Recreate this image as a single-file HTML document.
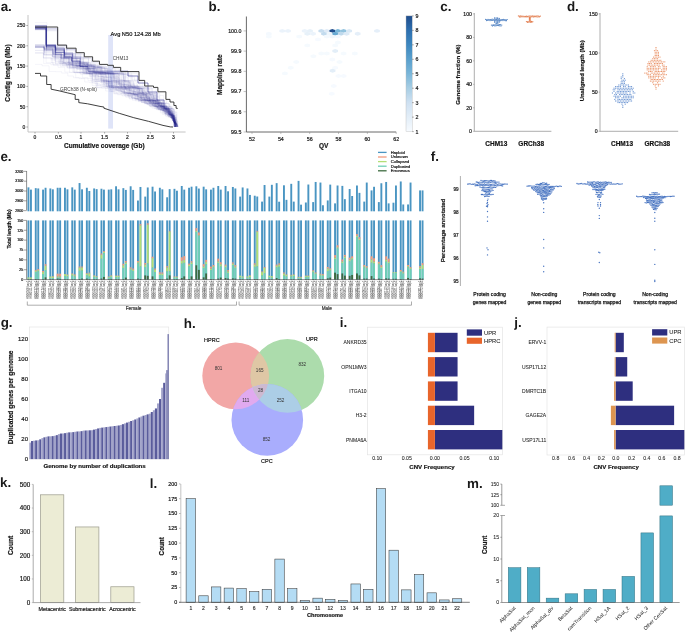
<!DOCTYPE html><html><head><meta charset="utf-8"><style>html,body{margin:0;padding:0;background:#fff;}svg{display:block;will-change:transform;}text{font-family:"Liberation Sans",sans-serif;}text.pl{text-rendering:geometricPrecision;}</style></head><body>
<svg width="685" height="632" viewBox="0 0 685 632">
<rect width="685" height="632" fill="#fff"/>
<text x="0.66" y="11.20" font-size="13.4" font-weight="bold" fill="#1a1a1a" class="pl">a.</text>
<rect x="108.20" y="35.00" width="4.80" height="93.60" fill="#dfe4f8"/>
<g fill="none" stroke="#3b3f9c" stroke-width="0.45" stroke-opacity="0.115">
<path d="M35.0,27.5H46.3V45.9H55.5V49.4H64.4V53.0H72.8V58.4H80.6V66.6H87.4V69.1H94.0V73.4H100.1V74.2H106.1V77.1H111.8V77.9H117.4V79.5H122.8V80.9H128.0V86.1H132.7V88.1H137.1V93.6H140.9V99.8H144.0V100.1H147.0V100.8H150.0V102.0H152.8V102.7H155.6V107.3H157.8V108.6H159.9V108.9H162.0V109.2H164.0V109.4H166.0V109.6H168.0V112.8H169.6V113.2H171.2V116.6H172.4V117.2H173.5V121.0H174.2V125.0H174.4V127.0"/>
<path d="M35.0,45.4H44.3V50.2H53.0V57.0H61.0V57.7H68.9V64.7H75.9V65.4H82.9V68.5H89.6V71.9H95.9V79.5H101.3V80.7H106.5V83.5H111.5V86.7H116.1V87.9H120.5V88.4H124.9V88.8H129.2V93.4H133.0V94.2H136.8V96.4H140.3V100.7H143.2V101.4H146.2V102.7H148.9V102.9H151.7V104.0H154.3V106.7H156.6V107.0H158.9V109.5H160.9V109.6H162.8V111.0H164.7V111.6H166.4V112.4H168.1V113.1H169.7V115.1H171.0V115.6H172.3V117.9H173.3V119.0H174.2V120.6H175.0V122.3H175.5V122.8H176.0V123.0H176.4V123.4H176.8V123.5H177.2V125.4H177.4V125.7H177.6V126.3H177.6V127.0"/>
<path d="M35.0,26.9H46.4V47.0H55.5V50.8H64.2V53.6H72.5V54.2H80.8V58.9H88.5V64.9H95.6V69.4H102.1V72.5H108.3V73.8H114.4V82.2H119.5V86.5H124.1V94.8H127.7V94.9H131.4V95.2H135.0V100.3H138.0V100.4H141.1V100.5H144.1V100.6H147.1V101.1H150.0V101.5H152.9V103.2H155.6V104.1H158.3V105.0H160.8V110.5H162.6V112.5H164.3V113.2H165.8V114.2H167.3V114.8H168.7V116.3H169.9V117.3H171.0V117.4H172.1V118.4H173.1V118.7H174.0V121.9H174.6V123.5H175.0V124.6H175.3V124.6H175.5V126.7H175.6V127.0"/>
<path d="M35.0,27.3H46.3V46.9H55.4V50.4H64.2V52.6H72.6V53.4H81.0V62.3H88.4V66.5H95.2V67.4H102.0V72.6H108.2V73.5H114.3V81.8H119.4V83.4H124.4V86.5H129.0V86.8H133.6V87.3H138.1V88.4H142.4V93.9H146.2V98.5H149.4V100.2H152.5V101.7H155.4V104.0H158.0V105.5H160.4V106.8H162.7V108.9H164.8V109.6H166.8V111.9H168.5V115.5H169.8V115.8H171.1V118.5H172.0V119.4H172.9V120.5H173.6V120.9H174.3V127.0"/>
<path d="M35.0,29.1H46.1V49.5H54.9V55.3H63.1V57.3H71.0V63.3H78.3V64.6H85.4V70.9H91.7V72.7H97.9V73.2H104.0V83.9H108.9V85.7H113.6V86.0H118.3V87.0H122.8V89.2H127.1V92.9H131.0V93.8H134.8V94.4H138.5V97.2H141.9V99.6H145.0V100.2H148.1V100.7H151.0V104.8H153.6V105.7H156.0V106.8H158.3V109.1H160.3V109.6H162.3V110.3H164.2V110.8H166.0V110.9H167.9V113.1H169.4V115.2H170.8V116.8H171.9V117.8H173.0V118.1H174.0V122.2H174.5V127.0"/>
<path d="M35.0,47.4H44.1V52.5H52.5V56.6H60.5V58.1H68.4V61.3H75.8V63.4H83.1V67.2H89.9V74.2H95.9V80.5H101.2V81.2H106.4V86.7H111.0V91.5H115.0V92.0H119.0V92.1H122.9V93.2H126.8V95.3H130.4V95.9H133.9V96.1H137.5V99.3H140.6V99.4H143.7V100.5H146.8V100.6H149.8V106.5H152.1V106.7H154.4V106.8H156.7V107.5H158.9V107.5H161.1V109.1H163.2V110.4H165.0V112.2H166.7V112.9H168.3V114.1H169.8V114.3H171.3V114.4H172.7V116.1H173.9V119.9H174.7V123.2H175.2V123.6H175.6V123.8H175.9V124.3H176.2V124.3H176.5V125.0H176.8V125.1H177.0V125.6H177.1V125.8H177.2V125.9H177.4V126.2H177.5V126.3H177.5V127.0"/>
<path d="M35.0,64.4H42.1V65.8H49.1V71.5H55.4V71.7H61.7V73.1H67.8V76.0H73.6V77.7H79.2V78.6H84.7V82.0H89.8V82.7H94.9V83.7H99.8V84.6H104.6V85.0H109.4V87.2H113.9V87.2H118.5V89.0H122.8V89.5H127.0V92.9H130.9V93.6H134.7V94.3H138.4V97.8H141.8V99.4H144.9V100.0H148.0V100.1H151.0V101.0H154.0V102.1H156.8V103.0H159.5V103.3H162.2V106.5H164.5V109.0H166.6V109.5H168.6V111.9H170.3V113.5H171.9V114.5H173.3V118.5H174.2V127.0"/>
<path d="M35.0,47.2H44.1V49.4H52.9V56.9H60.9V60.7H68.4V62.9H75.7V65.9H82.6V73.1H88.8V73.9H94.8V81.5H100.0V82.2H105.1V83.1H110.1V87.0H114.6V87.2H119.2V88.9H123.5V92.8H127.4V93.5H131.2V94.1H134.9V94.8H138.6V97.2H142.0V97.4H145.4V99.7H148.5V102.3H151.3V104.7H153.8V104.8H156.3V105.5H158.8V106.3H161.1V109.0H163.2V109.6H165.1V109.8H167.1V111.1H168.9V116.2H170.1V116.6H171.3V117.2H172.4V117.8H173.5V121.8H174.1V122.0H174.6V127.0"/>
<path d="M35.0,27.8H46.3V44.7H55.6V47.9H64.6V52.9H73.1V61.6H80.5V65.2H87.5V68.3H94.2V72.7H100.4V73.2H106.5V73.4H112.6V76.5H118.3V87.2H122.9V87.9H127.3V88.0H131.7V91.9H135.7V93.1H139.6V95.0H143.2V99.7H146.3V99.7H149.4V99.8H152.5V100.0H155.6V102.1H158.4V103.6H161.1V108.1H163.2V108.9H165.3V116.2H166.5V116.8H167.7V116.9H168.8V117.6H169.9V117.6H170.9V118.2H171.9V118.5H172.9V118.7H173.8V120.5H174.6V127.0"/>
<path d="M35.0,26.8H46.4V30.9H57.3V46.1H66.5V49.6H75.3V54.0H83.6V57.6H91.5V62.0H98.9V68.9H105.5V72.7H111.7V73.0H117.8V73.3H123.9V80.7H129.2V87.9H133.6V88.0H138.0V88.8H142.4V92.5H146.3V93.1H150.2V94.8H153.8V100.2H156.9V100.9H159.8V102.8H162.6V103.2H165.3V106.6H167.6V107.9H169.8V108.4H171.9V109.1H173.9V122.0H174.5V123.0H175.0V123.0H175.4V123.2H175.8V123.7H176.2V124.5H176.5V124.8H176.7V127.0"/>
<path d="M35.0,25.3H46.6V46.4H55.7V55.1H63.9V57.8H71.8V62.0H79.2V65.8H86.1V69.3H92.7V72.6H98.9V72.8H105.0V73.5H111.1V85.5H115.8V87.5H120.3V90.0H124.5V93.4H128.3V94.1H132.1V95.0H135.7V98.8H138.9V98.9H142.1V99.4H145.3V100.6H148.3V102.4H151.1V102.5H153.9V102.8H156.6V103.2H159.3V104.9H161.8V106.2H164.2V110.7H166.0V112.3H167.7V113.3H169.3V114.6H170.7V114.7H172.1V115.0H173.4V115.6H174.7V121.5H175.4V124.1H175.7V124.4H176.0V127.0"/>
<path d="M35.0,26.1H46.5V50.7H55.1V58.0H63.0V58.6H70.8V62.0H78.2V64.4H85.3V71.4H91.6V71.8H97.9V72.4H104.1V85.6H108.8V87.3H113.3V90.5H117.4V90.8H121.6V93.4H125.4V95.2H129.0V96.3H132.5V98.5H135.7V98.6H138.9V100.5H142.0V100.5H145.0V103.1H147.7V103.1H150.4V103.6H153.1V103.7H155.7V106.3H158.1V106.7H160.4V107.0H162.7V108.9H164.7V109.2H166.7V112.4H168.4V112.8H170.0V114.1H171.5V117.3H172.6V119.3H173.4V121.3H174.1V122.5H174.6V123.0H175.1V124.0H175.4V125.3H175.6V125.7H175.7V125.9H175.9V125.9H176.0V126.0H176.1V127.0"/>
<path d="M35.0,27.4H46.3V44.7H55.7V50.3H64.4V57.8H72.3V66.3H79.2V66.5H86.1V73.5H92.1V85.5H96.9V87.9H101.3V88.1H105.7V91.0H109.8V91.6H113.9V93.2H117.7V93.3H121.5V94.0H125.3V94.1H129.0V94.3H132.8V97.1H136.2V99.8H139.2V99.9H142.3V100.1H145.4V100.8H148.4V101.7H151.3V103.0H154.0V104.0H156.6V105.9H159.0V106.2H161.4V107.6H163.6V107.7H165.8V108.7H167.8V109.7H169.8V112.0H171.5V113.1H173.1V115.7H174.4V119.1H175.3V124.6H175.6V125.1H175.8V126.1H175.9V126.4H175.9V127.0"/>
<path d="M35.0,26.6H46.4V45.1H55.7V51.0H64.4V53.2H72.8V56.0H80.8V57.7H88.7V64.8H95.8V67.2H102.6V68.6H109.2V73.0H115.4V73.0H121.5V73.7H127.6V80.4H132.9V86.0H137.5V86.7H142.1V89.0H146.4V99.3H149.6V100.9H152.6V101.2H155.5V103.6H158.2V104.6H160.7V106.6H163.0V108.2H165.2V108.6H167.3V109.5H169.3V110.5H171.1V112.5H172.8V115.4H174.1V118.2H175.1V123.2H175.5V124.9H175.8V127.0"/>
<path d="M35.0,29.3H46.1V45.9H55.3V50.0H64.1V53.4H72.5V58.2H80.3V66.7H87.1V68.2H93.8V72.4H100.0V72.6H106.2V81.7H111.4V84.2H116.2V84.2H121.1V86.8H125.7V86.9H130.2V87.7H134.7V88.0H139.1V90.8H143.3V93.3H147.1V94.2H150.8V98.1H154.1V100.0H157.2V103.2H159.9V104.3H162.5V107.6H164.7V108.7H166.7V108.8H168.8V110.8H170.7V111.9H172.4V114.4H173.8V121.8H174.4V127.0"/>
<path d="M35.0,26.0H46.5V45.1H55.8V49.3H64.6V55.2H72.8V63.2H80.0V64.5H87.2V67.4H93.9V73.0H100.1V73.5H106.2V73.5H112.2V73.9H118.3V81.1H123.5V81.2H128.7V83.3H133.7V86.2H138.3V86.2H142.9V86.9H147.5V87.7H152.0V93.3H155.8V97.3H159.2V100.2H162.2V106.6H164.6V106.7H166.9V110.6H168.7V111.8H170.5V115.0H171.8V117.7H172.9V118.2H173.9V119.2H174.8V122.6H175.3V122.6H175.8V126.5H175.8V127.0"/>
<path d="M35.0,26.4H46.4V47.6H55.5V49.6H64.3V54.2H72.6V57.3H80.5V63.4H87.7V65.4H94.7V72.1H101.0V72.6H107.2V72.7H113.3V73.3H119.4V80.6H124.7V82.5H129.8V84.7H134.6V87.6H139.1V88.7H143.4V94.3H147.1V95.0H150.8V96.5H154.2V99.0H157.4V101.0H160.4V102.9H163.1V108.1H165.3V108.9H167.3V111.6H169.1V111.6H170.8V111.9H172.5V112.0H174.3V116.8H175.4V121.6H176.0V127.0"/>
<path d="M35.0,44.6H44.4V49.0H53.2V52.7H61.7V60.0H69.3V67.4H76.1V68.4H82.7V70.6H89.2V72.3H95.4V73.8H101.4V83.2H106.4V85.0H111.2V86.5H115.8V86.6H120.4V86.8H125.0V87.4H129.5V88.8H133.8V94.8H137.5V96.7H140.9V96.9H144.3V99.3H147.5V100.4H150.5V101.3H153.4V101.9H156.3V103.5H159.0V106.0H161.4V109.1H163.4V109.9H165.3V110.4H167.2V110.9H169.1V114.3H170.5V115.1H171.9V116.0H173.1V116.7H174.3V119.4H175.1V120.1H175.9V127.0"/>
<path d="M35.0,29.2H46.1V46.2H55.3V49.3H64.1V54.3H72.4V56.8H80.4V57.1H88.4V66.4H95.2V67.7H102.0V72.5H108.2V73.6H114.3V81.0H119.5V85.9H124.2V86.9H128.7V87.2H133.3V87.8H137.7V88.9H142.0V92.2H146.0V93.7H149.8V94.8H153.4V99.0H156.6V100.5H159.6V100.8H162.6V103.0H165.3V106.1H167.7V106.2H170.1V107.7H172.3V115.6H173.6V120.3H174.3V127.0"/>
<path d="M35.0,28.1H46.2V47.0H55.3V54.6H63.6V63.8H70.8V65.4H77.8V67.2H84.6V72.6H90.8V73.5H96.8V76.3H102.6V77.5H108.2V80.0H113.6V81.4H118.8V82.2H123.9V82.2H128.9V86.5H133.6V88.8H137.9V91.1H142.0V93.2H145.8V101.4H148.7V102.2H151.6V103.4H154.2V106.9H156.5V108.8H158.6V110.0H160.5V110.3H162.4V110.6H164.3V111.5H166.1V113.1H167.6V116.3H168.9V116.9H170.0V117.1H171.1V118.3H172.1V118.7H173.1V121.1H173.7V121.4H174.4V122.2H174.9V122.8H175.4V123.6H175.8V125.0H176.0V125.0H176.3V125.4H176.4V125.5H176.6V125.8H176.7V125.8H176.9V125.9H177.0V125.9H177.1V126.0H177.2V127.0"/>
<path d="M35.0,28.3H46.2V46.7H55.4V48.1H64.3V59.2H72.0V63.0H79.3V64.1H86.5V66.1H93.4V67.7H100.1V67.8H106.9V73.3H113.0V73.9H119.0V74.6H125.0V75.0H130.9V81.3H136.1V86.8H140.7V89.0H145.0V89.0H149.3V100.7H152.3V102.2H155.1V103.6H157.8V105.1H160.3V106.6H162.6V106.9H164.9V108.7H167.0V111.8H168.7V111.9H170.4V113.6H171.9V115.4H173.3V122.2H173.8V122.3H174.3V122.5H174.8V123.6H175.2V127.0"/>
<path d="M35.0,25.8H46.5V29.2H57.6V46.4H66.8V50.8H75.4V54.4H83.7V58.5H91.5V62.9H98.8V65.9H105.7V67.1H112.5V68.9H119.1V72.7H125.3V73.1H131.4V73.5H137.5V81.4H142.7V87.1H147.2V87.9H151.7V88.3H156.1V93.5H159.9V95.5H163.5V100.1H166.6V103.5H169.2V106.8H171.5V113.5H173.1V116.7H174.2V119.2H175.1V122.9H175.6V123.9H175.9V124.9H176.2V127.0"/>
<path d="M35.0,25.8H46.5V28.1H57.8V47.4H66.8V50.0H75.6V52.4H84.0V58.7H91.8V62.2H99.2V66.3H106.1V66.7H112.9V68.6H119.6V72.6H125.7V73.9H131.8V80.5H137.1V87.3H141.6V88.2H146.0V93.1H149.8V99.8H152.9V100.8H155.9V102.7H158.7V103.5H161.4V106.5H163.7V109.2H165.7V110.3H167.6V110.5H169.5V111.6H171.2V112.7H172.9V113.6H174.4V127.0"/>
<path d="M35.0,26.5H46.4V50.8H55.1V57.3H63.0V62.1H70.4V67.5H77.2V72.4H83.4V73.4H89.5V74.1H95.5V77.5H101.1V79.4H106.5V82.1H111.6V85.7H116.3V86.5H120.9V87.3H125.4V89.2H129.7V93.3H133.6V94.4H137.3V95.4H140.9V98.4H144.1V100.6H147.1V101.9H150.0V103.7H152.6V104.1H155.2V106.5H157.5V106.8H159.8V109.8H161.8V110.2H163.7V112.4H165.4V114.6H166.8V115.0H168.2V116.8H169.3V117.1H170.4V117.2H171.6V119.0H172.5V120.7H173.2V121.1H173.9V122.2H174.4V123.9H174.8V127.0"/>
<path d="M35.0,28.6H46.2V47.3H55.3V48.1H64.2V53.9H72.6V58.4H80.4V62.5H87.7V64.8H94.8V67.0H101.6V69.0H108.2V72.3H114.4V73.7H120.5V74.5H126.4V75.1H132.3V79.7H137.7V86.4H142.3V86.7H146.9V89.1H151.2V93.0H155.1V99.9H158.2V105.3H160.6V105.9H163.0V106.9H165.3V109.2H167.3V111.1H169.2V114.2H170.6V115.1H172.0V116.9H173.1V118.9H174.0V122.3H174.6V124.3H174.9V125.3H175.1V126.7H175.1V127.0"/>
<path d="M35.0,52.6H43.5V57.7H51.3V62.7H58.7V63.0H65.9V64.7H73.0V68.0H79.7V72.6H85.9V73.0H92.1V73.6H98.1V78.7H103.6V80.8H108.9V87.1H113.4V87.4H117.9V87.4H122.4V88.4H126.8V89.2H131.1V91.6H135.1V91.8H139.1V93.4H142.9V94.4H146.6V98.0H149.9V100.1H153.0V100.1H156.1V102.5H158.9V103.0H161.6V103.8H164.2V106.1H166.6V106.1H169.0V108.2H171.1V108.6H173.2V115.7H174.5V119.0H175.4V123.6H175.8V126.0H175.9V127.0"/>
<path d="M35.0,27.8H46.3V28.6H57.5V45.8H66.7V49.0H75.6V57.5H83.5V62.5H90.8V67.0H97.6V67.9H104.4V72.5H110.5V73.1H116.7V73.3H122.8V77.2H128.5V81.0H133.7V85.7H138.4V94.2H142.1V94.4H145.8V97.1H149.2V103.3H151.9V106.3H154.3V108.7H156.3V109.1H158.4V109.5H160.4V110.3H162.3V114.3H163.7V114.5H165.1V115.3H166.5V115.5H167.8V115.7H169.1V116.1H170.3V117.5H171.4V118.0H172.4V118.5H173.4V119.4H174.3V120.6H175.0V121.8H175.6V123.8H175.9V127.0"/>
<path d="M35.0,29.0H46.1V54.9H54.3V59.0H62.1V65.1H69.1V65.7H76.1V66.1H83.0V71.7H89.3V74.2H95.3V75.0H101.2V76.6H106.9V81.3H112.1V84.4H117.0V86.7H121.6V87.0H126.1V90.5H130.3V93.8H134.1V94.4H137.8V95.3H141.4V97.2H144.8V99.7H147.9V100.0H150.9V101.2H153.9V101.4H156.8V103.4H159.5V105.7H161.9V106.1H164.3V109.0H166.3V109.8H168.2V110.9H170.1V113.8H171.6V114.1H173.0V119.0H174.0V122.4H174.5V123.0H174.9V123.8H175.3V124.7H175.6V127.0"/>
<path d="M35.0,53.1H43.4V58.0H51.2V60.0H58.9V62.9H66.1V64.3H73.3V67.3H80.1V67.9H86.8V73.3H92.9V79.9H98.2V81.1H103.5V83.9H108.4V85.8H113.1V87.4H117.6V88.1H122.0V89.7H126.2V90.6H130.4V92.6H134.3V93.6H138.1V94.0H141.8V95.5H145.4V96.4H148.9V97.5H152.2V100.5H155.2V102.4H158.0V102.5H160.8V102.7H163.6V103.3H166.3V106.4H168.6V106.9H170.9V117.8H172.0V117.8H173.0V120.4H173.8V121.1H174.4V122.1H175.0V123.3H175.4V123.5H175.8V123.6H176.2V123.9H176.5V124.9H176.8V125.8H176.9V126.0H177.0V126.1H177.1V127.0"/>
<path d="M35.0,26.3H46.4V47.5H55.5V52.7H63.9V58.3H71.8V62.6H79.1V64.2H86.2V64.4H93.3V66.5H100.2V68.3H106.9V72.1H113.1V73.6H119.2V73.7H125.3V81.7H130.4V86.3H135.0V86.6H139.6V87.9H144.1V91.3H148.1V92.6H152.0V93.5H155.9V95.0H159.5V105.9H161.9V106.3H164.3V107.1H166.5V108.9H168.6V112.6H170.2V114.3H171.7V118.0H172.7V118.3H173.7V121.5H174.3V127.0"/>
<path d="M35.0,47.0H44.1V48.1H53.1V53.9H61.4V59.1H69.1V66.8H76.0V68.6H82.6V72.9H88.7V73.5H94.8V81.4H100.0V82.1H105.1V87.1H109.7V87.5H114.2V88.1H118.6V88.9H122.9V89.0H127.2V89.5H131.5V91.4H135.5V93.9H139.3V94.2H143.0V94.3H146.7V98.2H150.0V99.4H153.2V103.4H155.8V103.7H158.5V106.4H160.8V107.7H163.0V108.2H165.2V109.0H167.2V111.9H168.9V112.1H170.6V112.8H172.2V116.9H173.4V118.7H174.3V118.8H175.3V122.8H175.7V123.1H176.2V125.5H176.4V125.6H176.5V126.4H176.6V126.5H176.6V127.0"/>
<path d="M35.0,28.0H46.3V49.0H55.1V52.6H63.6V62.5H70.9V64.5H78.0V66.0H85.0V69.4H91.5V70.7H97.9V72.2H104.1V73.3H110.3V74.4H116.2V80.7H121.5V84.5H126.3V84.7H131.1V87.1H135.7V89.0H140.0V92.6H143.9V94.3H147.6V98.9H150.8V100.6H153.8V101.7H156.7V103.0H159.4V103.7H162.1V105.3H164.5V106.2H166.9V109.1H168.9V109.3H171.0V110.3H172.9V113.8H174.4V122.5H174.9V123.6H175.3V127.0"/>
<path d="M35.0,47.2H44.1V50.5H52.8V53.6H61.1V57.8H69.0V58.2H76.8V61.8H84.2V64.9H91.3V66.2H98.2V67.2H105.0V72.8H111.2V73.7H117.2V73.7H123.3V80.8H128.6V82.1H133.7V86.2H138.3V88.4H142.7V92.9H146.6V97.0H150.0V98.1H153.3V100.3H156.3V102.1H159.1V103.2H161.8V103.6H164.5V105.8H166.9V107.6H169.1V108.7H171.2V114.2H172.6V114.5H174.0V118.5H175.0V119.6H175.9V122.6H176.4V123.2H176.8V123.9H177.1V125.9H177.3V127.0"/>
<path d="M35.0,47.0H44.1V50.9H52.7V54.6H61.0V58.6H68.8V62.7H76.1V65.6H83.1V66.6H89.9V67.8H96.6V74.1H102.7V80.4H108.0V85.9H112.6V87.3H117.2V87.7H121.6V88.3H126.0V89.7H130.3V92.4H134.2V93.1H138.1V93.1H141.9V98.9H145.1V99.8H148.2V100.0H151.3V100.8H154.3V104.9H156.8V106.4H159.1V107.4H161.3V107.4H163.6V107.6H165.8V107.6H168.0V108.6H170.1V110.7H171.9V117.3H173.0V120.0H173.8V122.2H174.4V122.8H174.8V123.5H175.2V123.7H175.6V124.3H175.9V124.3H176.2V124.4H176.5V124.5H176.8V124.5H177.1V126.7H177.1V127.0"/>
<path d="M35.0,29.0H46.1V46.9H55.3V56.7H63.3V62.7H70.6V64.6H77.7V69.3H84.2V73.5H90.3V76.4H96.1V85.3H100.8V86.4H105.4V86.7H110.0V88.7H114.4V88.9H118.7V91.1H122.8V92.3H126.7V93.4H130.5V94.7H134.2V95.6H137.8V97.6H141.1V100.6H144.1V103.1H146.8V103.3H149.5V103.6H152.2V105.6H154.6V106.2H157.0V106.5H159.3V106.5H161.7V109.2H163.7V109.7H165.7V112.6H167.3V112.9H168.9V114.4H170.3V114.4H171.8V115.4H173.1V116.5H174.3V122.7H174.8V123.7H175.1V124.4H175.4V125.2H175.6V127.0"/>
<path d="M35.0,22.6H46.9V45.3H56.2V54.7H64.4V56.5H72.4V65.4H79.4V66.0H86.4V70.3H92.8V72.6H99.0V72.9H105.1V73.2H111.3V79.1H116.7V79.4H122.1V81.2H127.3V87.1H131.9V87.7H136.3V92.5H140.3V92.6H144.2V98.3H147.4V98.6H150.6V99.9H153.7V100.9H156.7V102.1H159.5V105.8H161.9V106.5H164.3V109.2H166.3V109.6H168.3V110.7H170.1V114.2H171.6V115.8H172.9V116.4H174.1V116.8H175.2V120.4H176.0V121.9H176.6V123.2H177.0V124.1H177.3V124.3H177.6V124.3H177.9V125.9H178.0V125.9H178.2V126.4H178.2V126.6H178.3V127.0"/>
<path d="M35.0,28.7H46.2V44.7H55.5V63.9H62.7V64.0H69.9V66.0H76.8V69.5H83.4V72.4H89.6V73.6H95.7V73.8H101.7V74.0H107.7V81.6H112.9V86.6H117.5V86.7H122.1V87.0H126.6V87.7H131.1V89.4H135.4V89.7H139.6V92.5H143.5V93.4H147.3V94.9H151.0V96.5H154.5V100.0H157.5V105.3H160.0V106.3H162.4V106.8H164.7V108.1H166.8V108.6H168.9V109.4H170.9V110.3H172.8V119.5H173.7V119.5H174.5V125.7H174.7V126.1H174.8V127.0"/>
<path d="M35.0,46.2H44.2V51.0H52.8V54.5H61.1V57.5H69.0V57.6H76.9V63.8H84.1V65.1H91.1V66.8H97.9V67.2H104.7V70.5H111.2V72.1H117.4V72.7H123.6V81.3H128.8V85.5H133.5V85.7H138.2V87.2H142.7V87.9H147.2V93.0H151.0V93.5H154.8V98.8H158.0V106.3H160.4V106.3H162.8V106.4H165.1V108.7H167.2V111.0H169.0V111.3H170.8V115.9H172.1V116.0H173.3V118.7H174.2V122.7H174.7V127.0"/>
<path d="M35.0,27.3H46.3V44.8H55.7V50.8H64.4V57.6H72.2V61.4H79.7V65.8H86.7V71.8H92.9V73.2H99.1V73.9H105.1V83.1H110.1V84.1H115.0V87.2H119.5V88.7H123.9V88.8H128.2V93.8H132.0V98.0H135.3V98.3H138.6V101.7H141.4V102.5H144.2V102.6H147.0V104.5H149.6V105.7H152.0V105.9H154.4V106.7H156.7V108.9H158.7V109.3H160.8V110.0H162.7V110.5H164.6V110.5H166.4V112.3H168.1V112.9H169.7V115.1H171.1V115.4H172.4V116.9H173.5V117.5H174.6V117.6H175.7V124.1H176.0V124.3H176.3V124.6H176.6V124.9H176.8V125.3H177.0V125.6H177.2V126.6H177.2V127.0"/>
<path d="M35.0,27.9H46.3V28.4H57.5V49.3H66.3V62.0H73.7V66.0H80.7V72.3H86.9V73.3H93.0V76.1H98.8V80.5H104.0V82.0H109.2V87.8H113.6V89.9H117.8V91.3H121.9V92.7H125.8V97.3H129.2V99.0H132.4V100.3H135.4V100.9H138.4V101.5H141.3V102.2H144.1V103.7H146.7V104.5H149.3V105.4H151.7V105.6H154.2V105.8H156.6V106.6H158.9V108.1H161.1V108.1H163.2V109.2H165.2V109.5H167.2V110.7H169.1V112.0H170.8V115.0H172.1V116.7H173.3V117.1H174.4V121.2H175.1V121.5H175.7V125.3H175.9V125.8H176.0V127.0"/>
<path d="M35.0,27.7H46.3V45.5H55.6V49.8H64.3V54.0H72.6V57.5H80.5V63.2H87.8V66.0H94.7V73.2H100.8V80.9H106.1V83.9H111.0V86.0H115.7V86.4H120.3V88.1H124.7V92.0H128.7V93.7H132.5V94.1H136.2V94.7H139.9V94.7H143.5V95.6H147.1V96.5H150.6V97.5H153.9V103.7H156.6V104.1H159.2V105.2H161.7V106.1H164.0V111.7H165.8V114.2H167.2V114.5H168.7V115.5H170.0V115.5H171.3V117.7H172.3V119.6H173.2V119.9H174.0V120.2H174.7V120.3H175.5V122.2H176.1V123.2H176.5V123.4H176.9V124.2H177.2V125.6H177.4V127.0"/>
<path d="M35.0,27.0H46.4V44.9H55.7V54.9H63.9V58.0H71.7V61.4H79.2V64.0H86.4V67.7H93.1V72.0H99.4V72.3H105.6V73.5H111.7V73.6H117.7V81.4H122.9V84.5H127.8V85.5H132.5V87.0H137.0V88.9H141.4V91.4H145.4V91.6H149.4V95.2H153.1V100.3H156.1V101.8H159.0V102.8H161.7V106.4H164.1V108.6H166.2V111.5H167.9V111.9H169.6V114.4H171.1V115.0H172.4V116.0H173.7V118.4H174.7V118.5H175.6V124.7H175.9V127.0"/>
<path d="M35.0,46.7H44.1V53.3H52.5V55.4H60.6V65.4H67.6V66.2H74.6V67.8H81.3V72.0H87.5V72.3H93.8V73.0H99.9V74.5H105.9V80.3H111.2V80.3H116.5V82.9H121.5V85.4H126.2V85.8H130.9V87.8H135.4V88.1H139.8V93.5H143.6V94.6H147.3V100.3H150.3V100.3H153.4V100.5H156.4V100.8H159.4V102.4H162.2V103.2H164.9V103.3H167.6V104.4H170.1V106.6H172.4V109.1H174.5V127.0"/>
<path d="M35.0,28.1H46.2V30.6H57.2V45.1H66.5V49.4H75.3V62.9H82.6V65.1H89.7V68.2H96.4V73.8H102.4V74.0H108.4V85.3H113.2V87.4H117.7V88.1H122.1V92.2H126.1V92.2H130.0V93.8H133.8V94.2H137.5V94.4H141.2V97.4H144.6V99.5H147.7V100.5H150.7V102.9H153.5V103.8H156.1V104.9H158.6V105.6H161.1V106.1H163.4V107.5H165.7V108.0H167.8V108.4H169.9V108.6H172.0V109.3H174.0V124.1H174.4V127.0"/>
<path d="M35.0,27.8H46.3V49.2H55.1V58.1H63.0V58.7H70.7V62.6H78.1V64.9H85.1V66.3H92.0V69.5H98.6V72.1H104.8V74.4H110.8V83.0H115.8V84.1H120.7V86.0H125.3V88.9H129.7V90.4H133.8V93.7H137.6V94.2H141.3V95.9H144.9V96.8H148.3V99.2H151.5V100.2H154.5V100.5H157.5V103.2H160.2V104.8H162.8V106.1H165.1V108.9H167.2V109.4H169.2V109.7H171.2V114.5H172.6V118.0H173.6V120.0H174.4V122.2H175.0V122.5H175.5V122.9H175.9V123.5H176.3V123.9H176.7V124.5H177.0V125.7H177.1V126.5H177.2V127.0"/>
<path d="M35.0,46.1H44.2V54.9H52.4V56.7H60.4V62.7H67.7V64.4H74.8V66.2H81.7V68.9H88.3V71.9H94.6V72.8H100.8V73.7H106.8V73.8H112.9V77.1H118.5V77.7H124.2V84.8H129.0V87.8H133.4V93.8H137.2V94.4H140.9V97.4H144.3V98.7H147.5V100.0H150.6V100.0H153.6V103.3H156.3V103.7H159.0V104.2H161.6V105.8H164.0V106.8H166.3V109.0H168.3V109.1H170.3V110.3H172.2V114.1H173.7V124.3H174.0V124.4H174.3V126.1H174.4V127.0"/>
<path d="M35.0,27.8H46.3V46.7H55.4V48.2H64.4V54.2H72.7V56.6H80.7V64.6H87.7V68.8H94.4V71.8H100.6V81.4H105.8V81.5H111.0V87.7H115.5V90.5H119.6V90.9H123.7V93.1H127.6V93.4H131.4V93.9H135.2V99.1H138.3V100.3H141.4V102.6H144.1V102.8H146.9V103.5H149.6V104.2H152.2V104.7H154.7V104.8H157.2V106.8H159.5V107.3H161.8V107.9H163.9V108.7H166.0V110.1H167.9V111.0H169.8V115.2H171.1V118.1H172.1V119.4H173.0V120.8H173.7V120.9H174.4V121.3H175.0V121.9H175.6V122.8H176.1V124.2H176.4V125.5H176.6V126.8H176.6V126.8H176.6V127.0"/>
<path d="M35.0,44.8H44.3V50.0H53.1V57.3H61.0V61.1H68.5V64.9H75.6V65.9H82.5V66.1H89.4V68.5H96.1V74.2H102.1V80.5H107.4V87.0H111.9V88.0H116.4V89.1H120.7V89.4H125.0V91.1H129.0V92.0H133.0V93.8H136.8V95.3H140.4V95.7H143.9V96.8H147.4V98.6H150.6V100.1H153.7V101.2H156.6V102.0H159.4V103.6H162.1V104.0H164.7V110.0H166.6V113.3H168.2V114.5H169.6V115.1H171.0V116.1H172.2V116.3H173.4V117.2H174.5V119.5H175.4V123.2H175.8V123.6H176.2V124.0H176.6V124.4H176.8V124.6H177.1V124.6H177.4V124.7H177.7V126.2H177.8V127.0"/>
<path d="M35.0,46.3H44.2V47.9H53.2V54.1H61.5V57.4H69.4V63.6H76.6V65.8H83.6V68.8H90.2V71.9H96.4V72.5H102.6V73.9H108.7V80.9H113.9V82.4H119.0V82.6H124.0V86.5H128.6V88.0H133.1V93.9H136.8V94.2H140.6V97.6H143.9V100.0H147.0V100.6H150.0V100.8H153.0V100.9H155.9V103.2H158.7V104.2H161.2V106.3H163.6V108.8H165.7V110.7H167.5V111.7H169.3V113.3H170.8V113.9H172.3V115.4H173.6V115.4H175.0V115.6H176.3V119.8H177.1V123.4H177.5V127.0"/>
<path d="M35.0,29.2H46.1V45.0H55.4V49.3H64.3V57.5H72.2V58.3H80.0V66.1H86.9V66.4H93.8V72.1H100.1V73.0H106.2V81.6H111.4V87.4H115.9V88.6H120.2V93.4H124.1V93.4H127.9V95.8H131.4V97.9H134.7V98.1H138.0V98.2H141.3V100.1H144.4V100.3H147.4V100.6H150.4V101.5H153.3V103.1H156.0V103.2H158.7V106.5H161.0V106.7H163.4V107.8H165.5V110.7H167.4V113.6H168.9V113.7H170.4V115.3H171.7V116.0H173.0V118.6H173.9V119.7H174.8V122.6H175.3V125.6H175.4V125.7H175.6V126.1H175.7V127.0"/>
<path d="M35.0,27.4H46.3V45.5H55.6V54.8H63.8V63.9H71.0V64.9H78.0V68.1H84.7V69.4H91.3V71.9H97.6V73.4H103.6V81.2H108.9V81.9H114.0V89.5H118.2V89.5H122.5V89.6H126.8V93.7H130.5V94.8H134.2V95.0H137.9V96.5H141.3V98.4H144.6V103.8H147.2V104.5H149.8V106.8H152.1V108.2H154.2V108.5H156.3V109.7H158.3V110.1H160.2V111.0H162.0V111.3H163.8V112.1H165.5V112.7H167.1V113.2H168.7V114.1H170.2V114.6H171.6V119.9H172.4V120.3H173.1V120.7H173.9V121.1H174.5V121.8H175.1V125.2H175.3V125.5H175.5V127.0"/>
<path d="M35.0,29.3H46.1V48.9H55.0V53.8H63.3V58.0H71.2V58.6H78.9V62.2H86.3V66.0H93.2V68.2H99.9V72.6H106.1V81.9H111.2V83.3H116.2V87.3H120.7V87.5H125.2V88.6H129.6V90.6H133.7V92.0H137.7V94.9H141.3V98.7H144.6V99.8H147.7V100.4H150.7V100.5H153.7V105.3H156.2V106.6H158.5V108.5H160.6V108.9H162.7V109.2H164.7V112.7H166.3V112.7H167.9V113.0H169.5V113.1H171.1V114.7H172.5V115.2H173.9V117.7H174.9V124.8H175.2V126.6H175.2V127.0"/>
<path d="M35.0,29.2H46.1V50.4H54.8V61.1H62.3V63.5H69.5V68.4H76.2V72.5H82.4V77.6H88.0V80.6H93.3V81.5H98.5V81.7H103.6V86.7H108.2V89.5H112.5V89.7H116.7V90.5H120.8V91.3H124.9V93.9H128.7V95.1H132.3V96.2H135.8V96.8H139.3V100.0H142.3V100.8H145.3V100.9H148.3V101.9H151.1V102.3H153.9V103.0H156.7V104.1H159.3V106.7H161.6V107.2H163.8V107.6H166.1V108.6H168.1V109.1H170.2V112.8H171.8V115.2H173.1V118.5H174.1V127.0"/>
<path d="M35.0,27.7H46.3V47.8H55.3V49.9H64.1V54.2H72.3V59.1H80.1V63.2H87.3V66.3H94.2V66.8H101.1V68.4H107.7V72.5H113.9V73.6H120.0V73.8H126.0V80.7H131.3V86.8H135.9V88.5H140.3V88.7H144.6V93.1H148.5V94.2H152.2V98.4H155.4V100.2H158.5V102.2H161.3V103.4H164.0V106.5H166.3V108.6H168.4V109.7H170.4V114.6H171.8V118.0H172.8V120.5H173.6V122.7H174.0V122.7H174.5V123.3H175.0V123.4H175.4V123.5H175.8V125.5H175.9V125.7H176.1V127.0"/>
<path d="M35.0,26.4H46.4V46.3H55.6V54.4H63.9V55.0H72.1V58.5H79.9V63.7H87.1V65.3H94.1V68.5H100.7V72.0H107.0V72.2H113.2V73.2H119.3V73.7H125.4V83.8H130.3V87.1H134.8V88.8H139.2V97.7H142.5V100.6H145.5V103.3H148.2V104.2H150.8V105.4H153.2V105.9H155.6V106.5H158.0V108.8H160.0V109.0H162.1V110.2H164.0V111.5H165.8V113.6H167.3V113.9H168.8V114.0H170.3V116.1H171.5V117.3H172.6V117.6H173.7V120.4H174.4V124.0H174.8V127.0"/>
<path d="M35.0,46.0H44.2V55.2H52.4V57.2H60.3V61.9H67.7V68.0H74.4V72.8H80.6V74.4H86.6V74.6H92.5V79.2H98.0V79.9H103.3V81.4H108.5V86.9H113.1V87.1H117.6V88.1H122.0V91.7H126.0V92.7H129.9V93.5H133.7V94.5H137.4V98.8H140.6V99.0H143.8V100.0H146.9V100.6H149.9V100.7H152.9V101.1H155.8V101.4H158.7V103.7H161.4V105.2H163.9V105.6H166.3V108.8H168.4V109.8H170.3V112.8H171.9V113.0H173.5V115.4H174.9V117.3H176.0V121.1H176.6V122.1H177.2V127.0"/>
<path d="M35.0,29.3H46.1V46.7H55.2V48.4H64.2V52.4H72.7V66.2H79.6V66.3H86.5V72.6H92.7V73.2H98.8V74.0H104.8V74.7H110.8V80.3H116.1V83.6H121.0V86.4H125.6V87.8H130.1V88.0H134.5V91.6H138.6V93.3H142.4V95.1H146.0V96.1H149.5V98.2H152.8V100.9H155.8V103.7H158.4V104.6H161.0V106.3H163.3V108.4H165.4V109.1H167.4V110.5H169.3V112.1H171.0V113.7H172.5V118.4H173.5V121.9H174.1V127.0"/>
<path d="M35.0,45.8H44.2V52.0H52.8V52.4H61.2V59.1H69.0V63.3H76.2V65.6H83.2V68.7H89.8V73.0H96.0V74.5H101.9V80.8H107.2V81.1H112.4V88.5H116.8V89.1H121.1V90.9H125.2V93.0H129.1V97.8H132.4V98.4H135.6V98.4H138.9V99.0H142.1V100.0H145.1V101.3H148.1V105.6H150.5V106.6H152.8V106.7H155.1V106.9H157.4V108.0H159.6V109.1H161.6V110.5H163.5V111.2H165.3V111.3H167.1V113.8H168.6V114.3H170.0V115.8H171.3V116.2H172.5V116.6H173.7V119.3H174.6V122.2H175.1V122.3H175.7V123.2H176.1V123.5H176.5V123.9H176.8V125.8H177.0V125.9H177.1V126.5H177.2V126.6H177.2V127.0"/>
<path d="M35.0,28.7H46.2V44.7H55.5V48.4H64.5V55.0H72.6V62.2H80.0V68.9H86.6V72.0H92.9V72.6H99.1V74.0H105.1V76.7H110.8V80.5H116.1V83.3H121.1V84.8H125.9V87.1H130.4V87.7H134.9V88.2H139.3V88.6H143.7V88.7H148.0V93.8H151.8V95.4H155.4V100.1H158.4V102.9H161.2V103.0H163.9V107.9H166.1V108.9H168.1V109.3H170.2V111.7H171.9V111.8H173.6V112.6H175.3V114.5H176.7V121.9H177.3V124.9H177.5V125.5H177.7V125.9H177.8V126.2H177.9V126.4H178.0V127.0"/>
<path d="M35.0,25.8H46.5V44.8H55.9V51.0H64.5V57.9H72.4V62.3H79.7V66.0H86.6V66.2H93.6V67.6H100.3V72.9H106.5V73.5H112.6V85.9H117.2V87.2H121.7V87.5H126.2V87.8H130.7V88.0H135.1V88.6H139.5V92.6H143.4V94.9H147.1V95.8H150.6V96.0H154.1V103.4H156.8V103.5H159.5V105.4H161.9V106.9H164.2V107.1H166.5V107.9H168.7V108.6H170.8V111.4H172.5V118.5H173.5V119.3H174.4V127.0"/>
<path d="M35.0,27.0H46.4V29.9H57.4V48.3H66.4V54.0H74.7V57.1H82.6V62.9H89.9V65.2H96.9V66.9H103.8V69.2H110.3V72.0H116.6V72.3H122.8V74.3H128.8V77.1H134.5V80.6H139.7V86.2H144.4V87.9H148.8V93.1H152.7V95.4H156.3V96.4H159.8V99.2H162.9V103.6H165.6V109.2H167.6V109.9H169.5V113.2H171.1V113.8H172.6V116.3H173.8V117.7H174.9V120.7H175.6V123.9H176.0V127.0"/>
<path d="M35.0,28.2H46.2V45.0H55.6V48.2H64.5V52.5H73.0V58.5H80.8V63.2H88.0V66.0H95.0V66.3H101.9V67.1H108.7V68.9H115.3V72.2H121.5V81.0H126.8V86.7H131.3V87.1H135.9V90.4H140.0V91.4H144.1V93.6H147.9V95.0H151.5V100.1H154.6V101.0H157.5V103.3H160.2V103.3H162.9V106.4H165.3V106.5H167.6V108.9H169.7V109.0H171.7V111.9H173.4V119.5H174.3V124.7H174.5V127.0"/>
<path d="M35.0,50.3H43.7V54.7H51.9V59.0H59.7V63.5H66.9V64.9H74.0V65.9H80.9V67.2H87.7V68.4H94.4V70.6H100.8V72.3H107.0V72.5H113.2V72.6H119.4V76.0H125.2V80.5H130.5V86.6H135.1V86.8H139.6V93.1H143.5V95.4H147.1V99.2H150.2V100.6H153.2V103.0H156.0V103.7H158.6V106.3H161.0V107.4H163.2V108.8H165.3V108.9H167.3V112.1H169.0V113.2H170.6V113.3H172.1V115.2H173.5V121.0H174.2V122.3H174.7V122.6H175.2V123.5H175.6V123.5H176.0V125.1H176.2V126.0H176.3V126.4H176.4V127.0"/>
<path d="M35.0,27.8H46.3V28.6H57.5V45.0H66.8V53.4H75.2V58.8H82.9V65.0H90.0V72.3H96.2V73.2H102.3V73.2H108.4V81.6H113.6V82.5H118.6V85.4H123.3V86.8H127.9V87.3H132.4V88.8H136.8V89.5H141.0V94.1H144.8V94.7H148.5V100.0H151.5V100.5H154.5V103.1H157.2V105.0H159.7V106.2H162.1V107.3H164.4V108.6H166.4V113.0H168.0V113.9H169.5V114.7H170.9V115.3H172.2V115.4H173.6V116.3H174.8V117.4H175.9V124.2H176.2V124.4H176.5V127.0"/>
<path d="M35.0,47.3H44.1V48.3H53.0V54.6H61.2V54.8H69.5V59.1H77.2V66.8H84.0V68.9H90.6V70.2H97.1V71.8H103.4V72.9H109.5V73.8H115.6V81.0H120.8V86.8H125.4V88.1H129.8V90.6H133.9V94.9H137.6V97.7H140.9V100.8H143.9V100.9H146.9V101.3H149.8V101.6H152.7V101.7H155.5V103.1H158.3V105.8H160.7V106.9H162.9V106.9H165.2V108.9H167.3V110.0H169.2V112.5H170.9V115.4H172.2V116.8H173.4V117.4H174.4V120.1H175.2V123.6H175.6V124.7H175.9V127.0"/>
<path d="M35.0,47.5H44.0V49.4H52.9V53.7H61.2V56.5H69.2V56.6H77.2V64.0H84.4V64.4H91.5V68.6H98.1V73.0H104.3V73.1H110.4V73.5H116.5V81.2H121.7V87.4H126.2V88.3H130.6V91.0H134.7V91.6H138.7V92.1H142.7V92.9H146.6V93.0H150.5V94.5H154.2V96.0H157.7V100.9H160.6V102.1H163.5V102.4H166.3V103.5H169.0V106.1H171.3V108.7H173.4V111.2H175.2V111.9H176.9V125.8H177.1V126.7H177.1V127.0"/>
<path d="M35.0,27.9H46.3V45.3H55.6V54.6H63.8V55.6H71.9V57.0H79.9V62.6H87.2V66.2H94.1V66.8H100.9V68.3H107.6V72.6H113.8V78.4H119.3V80.8H124.6V86.8H129.2V86.9H133.7V88.2H138.1V93.1H142.0V95.2H145.6V98.9H148.8V99.3H151.9V100.2H155.0V101.0H157.9V102.7H160.7V103.5H163.4V103.6H166.0V106.6H168.4V111.2H170.2V115.0H171.5V116.1H172.8V117.5H173.9V120.5H174.6V120.7H175.3V122.9H175.8V123.8H176.1V124.2H176.5V125.1H176.7V127.0"/>
<path d="M35.0,29.3H46.1V62.7H53.4V65.4H60.4V66.3H67.3V67.6H74.1V72.6H80.3V73.0H86.4V73.1H92.6V73.3H98.7V76.8H104.4V80.7H109.6V81.2H114.8V84.4H119.7V85.8H124.4V87.5H128.9V94.9H132.5V97.0H135.9V99.0H139.1V100.1H142.2V102.1H145.0V103.3H147.7V103.5H150.4V103.6H153.0V104.2H155.6V105.3H158.1V105.4H160.6V106.5H162.9V108.9H164.9V109.1H167.0V109.9H168.9V111.0H170.8V111.1H172.6V113.2H174.1V123.4H174.5V126.7H174.6V127.0"/>
<path d="M35.0,53.2H43.4V58.2H51.2V58.5H59.0V63.1H66.3V66.0H73.2V66.2H80.1V72.0H86.4V73.7H92.4V74.8H98.4V76.6H104.1V82.0H109.2V82.7H114.3V86.7H118.8V88.0H123.3V88.5H127.7V92.8H131.6V93.7H135.3V93.9H139.1V95.3H142.7V97.1H146.1V97.6H149.5V99.2H152.6V100.2H155.7V100.8H158.6V102.4H161.4V105.0H163.9V106.7H166.3V108.6H168.3V111.4H170.1V114.6H171.5V115.8H172.8V115.8H174.1V122.0H174.7V123.7H175.0V127.0"/>
<path d="M35.0,47.7H44.0V50.0H52.8V54.5H61.0V58.0H68.9V59.2H76.6V62.0H84.0V69.2H90.5V72.7H96.7V72.8H102.9V77.3H108.5V77.7H114.1V81.3H119.3V83.8H124.2V87.0H128.8V93.3H132.6V94.7H136.3V96.6H139.8V96.9H143.2V97.3H146.6V97.7H149.9V98.0H153.2V100.3H156.2V103.5H158.9V103.5H161.6V105.7H164.0V106.3H166.4V109.4H168.4V109.6H170.3V112.2H172.0V116.9H173.2V117.8H174.2V118.2H175.2V126.6H175.3V126.8H175.3V127.0"/>
<path d="M35.0,29.0H46.1V46.4H55.3V49.7H64.1V54.3H72.4V58.7H80.1V62.9H87.4V66.2H94.3V67.8H101.1V72.6H107.2V73.6H113.3V75.1H119.2V79.0H124.7V88.4H129.1V93.4H132.9V95.7H136.4V98.2H139.7V101.0H142.7V101.7H145.6V103.0H148.3V103.9H150.9V104.7H153.5V107.0H155.7V108.9H157.8V109.3H159.8V109.5H161.8V109.6H163.8V110.9H165.6V111.4H167.4V112.3H169.0V113.7H170.6V115.1H171.9V115.2H173.2V120.1H174.0V125.9H174.2V126.6H174.2V127.0"/>
<path d="M35.0,44.8H44.3V54.4H52.6V64.4H59.7V64.4H66.8V68.0H73.5V72.4H79.8V73.7H85.8V74.1H91.8V75.3H97.7V79.0H103.2V79.6H108.6V85.1H113.3V85.4H118.1V87.7H122.5V87.7H127.0V88.6H131.4V89.3H135.6V95.1H139.3V95.6H142.8V97.1H146.2V97.6H149.6V99.1H152.7V105.6H155.2V106.0H157.6V108.4H159.7V108.6H161.8V108.7H163.9V113.6H165.4V114.3H166.8V114.7H168.2V116.6H169.4V116.6H170.6V116.8H171.8V117.0H172.9V117.1H174.0V122.4H174.5V122.8H175.0V123.1H175.5V127.0"/>
<path d="M35.0,30.3H46.0V45.9H55.2V48.0H64.2V57.4H72.1V58.9H79.9V63.4H87.1V68.7H93.7V72.1H99.9V73.6H106.0V77.9H111.6V82.1H116.7V86.2H121.4V87.0H125.9V87.1H130.4V88.3H134.8V92.7H138.7V93.2H142.6V94.6H146.3V95.1H149.9V96.3H153.4V97.8H156.7V100.8H159.7V102.3H162.5V103.4H165.2V106.4H167.5V106.8H169.8V108.3H171.9V108.8H174.0V113.3H175.6V122.5H176.1V123.1H176.5V124.0H176.8V127.0"/>
<path d="M35.0,27.9H46.3V29.2H57.4V47.3H66.5V49.0H75.3V58.3H83.1V63.9H90.3V64.2H97.5V72.2H103.7V72.4H109.9V73.2H116.0V82.0H121.1V87.2H125.7V88.0H130.1V88.6H134.5V91.0H138.6V92.9H142.5V94.8H146.1V97.9H149.4V100.9H152.4V100.9H155.4V102.1H158.2V103.4H160.9V106.1H163.3V106.4H165.6V108.7H167.7V108.9H169.7V112.4H171.4V113.5H172.9V115.0H174.3V127.0"/>
<path d="M35.0,25.6H46.5V46.7H55.7V48.8H64.6V58.1H72.4V61.6H79.8V65.9H86.8V67.8H93.5V69.5H100.1V72.7H106.2V73.3H112.3V73.8H118.4V74.7H124.3V80.5H129.6V83.1H134.6V86.9H139.2V87.0H143.7V87.8H148.2V88.6H152.5V93.4H156.4V100.4H159.4V103.6H162.1V105.8H164.5V106.4H166.8V111.3H168.6V112.3H170.3V114.9H171.6V118.8H172.6V118.9H173.5V120.4H174.3V121.2H174.9V121.4H175.6V122.7H176.0V123.9H176.4V124.0H176.7V124.1H177.1V125.7H177.2V126.4H177.3V127.0"/>
<path d="M35.0,25.4H46.5V46.8H55.7V50.2H64.4V54.0H72.7V67.5H79.5V67.7H86.2V72.7H92.4V79.6H97.8V86.0H102.4V86.2H107.1V87.1H111.6V87.7H116.1V90.1H120.3V91.1H124.3V93.7H128.1V93.7H131.9V94.2H135.6V94.6H139.3V97.4H142.7V99.6H145.8V100.4H148.8V101.0H151.8V102.7H154.6V103.2H157.3V105.1H159.8V106.0H162.2V106.4H164.5V106.9H166.8V108.9H168.8V113.2H170.4V113.6H171.9V113.9H173.4V122.3H174.0V127.0"/>
<path d="M35.0,26.9H46.4V48.4H55.3V63.4H62.6V65.6H69.5V72.5H75.7V77.8H81.3V78.3H86.9V78.5H92.4V83.1H97.4V85.0H102.1V86.0H106.8V87.8H111.3V88.5H115.6V88.8H120.0V88.9H124.3V92.5H128.2V92.8H132.1V93.5H135.9V93.5H139.8V94.1H143.5V98.3H146.8V100.9H149.7V102.8H152.5V105.4H154.9V106.2H157.3V107.3H159.5V107.5H161.8V108.1H163.9V109.4H165.9V110.6H167.8V111.8H169.5V114.5H170.9V115.7H172.2V116.2H173.4V120.0H174.2V121.6H174.9V122.4H175.4V127.0"/>
<path d="M35.0,29.1H46.1V48.9H55.0V54.7H63.2V57.2H71.2V63.8H78.4V65.3H85.4V69.1H92.0V71.8H98.2V72.8H104.4V72.9H110.5V78.2H116.1V84.1H121.0V87.0H125.5V87.9H130.0V89.2H134.3V92.6H138.2V93.5H142.0V95.1H145.6V100.7H148.6V101.9H151.4V103.1H154.2V103.7H156.8V104.3H159.4V105.2H161.9V106.8H164.2V109.2H166.2V110.7H168.1V111.2H169.9V114.5H171.3V116.6H172.5V116.8H173.6V118.9H174.6V123.7H174.9V125.1H175.1V125.8H175.3V125.9H175.4V127.0"/>
<path d="M35.0,47.0H44.1V48.7H53.0V54.0H61.3V58.5H69.1V63.5H76.3V66.3H83.2V68.9H89.8V73.5H95.9V73.5H102.0V73.7H108.0V74.2H114.0V80.4H119.3V81.8H124.5V82.1H129.6V84.6H134.4V86.7H139.0V88.0H143.4V90.2H147.6V93.5H151.4V94.4H155.1V100.5H158.2V102.5H160.9V108.3H163.1V109.1H165.1V109.7H167.1V113.0H168.7V113.5H170.2V117.0H171.3V117.1H172.5V117.3H173.6V119.0H174.5V122.2H175.0V122.8H175.5V123.1H175.9V124.6H176.2V127.0"/>
<path d="M35.0,26.9H46.4V45.7H55.6V48.1H64.6V53.0H73.0V57.9H80.9V64.2H88.0V67.8H94.7V68.7H101.4V73.0H107.5V74.1H113.5V81.9H118.7V84.8H123.5V86.3H128.1V86.4H132.7V87.4H137.2V88.0H141.6V90.8H145.7V92.6H149.7V94.5H153.4V97.8H156.7V100.0H159.8V103.3H162.4V108.7H164.5V110.8H166.4V112.3H168.0V113.4H169.6V113.6H171.1V115.8H172.4V116.0H173.6V119.8H174.4V120.0H175.2V121.5H175.9V125.3H176.1V127.0"/>
<path d="M35.0,25.5H46.5V48.8H55.4V61.5H62.9V64.1H70.0V64.5H77.1V68.5H83.8V73.7H89.8V75.7H95.7V76.3H101.5V82.0H106.6V86.3H111.2V86.8H115.8V87.1H120.3V87.7H124.8V88.7H129.1V90.8H133.2V92.0H137.2V93.3H141.0V93.4H144.9V98.5H148.1V100.5H151.1V101.6H154.0V105.3H156.5V107.3H158.7V109.0H160.7V109.4H162.7V109.9H164.7V110.9H166.5V111.7H168.2V112.5H169.9V113.0H171.5V115.0H172.9V118.7H173.8V120.4H174.5V123.5H174.9V126.4H175.0V127.0"/>
<path d="M35.0,29.2H46.1V46.8H55.2V49.1H64.1V55.2H72.3V56.8H80.2V63.4H87.5V65.8H94.4V69.3H101.0V70.3H107.4V73.3H113.5V81.9H118.7V84.7H123.5V86.8H128.0V87.0H132.6V87.8H137.1V93.1H140.9V93.6H144.7V93.6H148.5V99.1H151.7V100.2H154.7V101.1H157.7V105.8H160.1V106.0H162.5V106.3H164.8V108.8H166.9V110.5H168.8V111.5H170.5V112.8H172.1V117.7H173.2V118.4H174.2V120.3H174.9V122.1H175.5V127.0"/>
<path d="M35.0,46.9H44.1V48.8H53.0V55.0H61.2V62.1H68.6V65.1H75.6V67.1H82.4V67.6H89.2V68.3H95.9V73.1H102.0V73.8H108.0V76.2H113.8V77.8H119.4V80.4H124.7V85.8H129.4V87.8H133.9V87.9H138.3V89.1H142.6V97.2H146.0V97.7H149.3V100.3H152.4V100.6H155.4V102.9H158.1V106.9H160.4V112.8H162.0V113.0H163.6V113.4H165.1V114.1H166.6V114.3H168.1V116.0H169.3V116.7H170.5V117.6H171.6V117.7H172.6V118.0H173.7V122.4H174.2V122.5H174.7V122.6H175.2V122.7H175.7V122.8H176.1V123.1H176.6V123.1H177.0V125.3H177.2V125.5H177.4V125.7H177.5V125.8H177.7V127.0"/>
<path d="M35.0,50.5H43.7V63.6H50.9V64.8H58.0V67.3H64.8V72.2H71.0V72.3H77.2V72.8H83.4V73.7H89.4V76.9H95.1V78.7H100.6V78.9H106.1V80.2H111.4V80.5H116.7V80.5H122.0V84.9H126.8V85.7H131.5V86.6H136.1V90.9H140.2V93.1H144.0V99.8H147.1V100.1H150.2V101.6H153.1V103.6H155.7V103.7H158.4V104.1H161.0V106.2H163.3V108.0H165.5V109.0H167.6V109.3H169.6V111.0H171.4V111.1H173.2V111.3H175.0V112.5H176.6V127.0"/>
<path d="M35.0,46.3H44.2V49.6H53.0V53.3H61.4V56.7H69.4V63.5H76.6V66.1H83.5V70.6H89.9V71.7H96.2V74.2H102.2V84.7H107.0V86.2H111.6V86.9H116.2V92.9H120.1V93.2H123.9V95.0H127.6V96.4H131.0V97.9H134.4V98.7H137.6V99.0H140.8V99.8H143.9V100.3H146.9V100.6H149.9V102.6H152.7V103.4H155.4V106.8H157.7V108.5H159.8V108.9H161.8V110.3H163.7V110.4H165.6V113.3H167.2V113.8H168.7V114.4H170.1V114.5H171.5V117.7H172.6V118.5H173.5V121.1H174.2V122.3H174.7V123.6H175.1V124.6H175.4V125.6H175.5V126.6H175.6V127.0"/>
<path d="M35.0,26.3H46.4V29.7H57.5V45.5H66.8V49.8H75.6V56.5H83.6V62.8H90.9V64.9H97.9V74.1H104.0V81.0H109.2V86.7H113.8V89.1H118.1V91.2H122.1V92.4H126.1V92.7H130.0V93.1H133.8V95.4H137.4V95.8H141.0V98.6H144.2V99.3H147.3V100.0H150.4V105.4H152.9V106.1H155.2V106.3H157.6V106.5H159.9V107.5H162.1V108.2H164.3V108.2H166.4V108.4H168.5V114.3H170.0V114.4H171.4V115.9H172.7V116.1H173.9V121.5H174.5V123.5H174.9V124.2H175.3V125.5H175.4V125.6H175.6V126.0H175.7V126.4H175.8V127.0"/>
<path d="M35.0,25.9H46.5V46.4H55.7V52.7H64.1V56.7H72.1V63.7H79.3V65.5H86.3V66.6H93.2V68.1H99.9V72.5H106.1V72.7H112.2V73.2H118.3V82.0H123.5V83.4H128.4V86.1H133.1V86.5H137.7V88.4H142.1V92.6H146.0V93.7H149.8V95.2H153.4V99.0H156.6V100.6H159.6V100.7H162.6V104.8H165.1V105.8H167.5V106.4H169.8V108.6H171.9V114.6H173.3V116.0H174.6V118.4H175.6V122.4H176.1V122.9H176.6V124.3H176.9V125.7H177.0V127.0"/>
<path d="M35.0,29.2H46.1V46.8H55.2V49.5H64.0V53.8H72.4V65.6H79.4V65.8H86.3V68.5H93.0V72.6H99.1V72.9H105.3V73.9H111.3V74.3H117.3V83.1H122.3V84.4H127.2V86.9H131.7V87.0H136.3V87.7H140.7V90.7H144.9V92.7H148.7V93.7H152.5V94.0H156.3V105.6H158.7V107.4H161.0V108.6H163.0V110.3H164.9V113.4H166.5V114.0H168.0V115.0H169.3V115.4H170.6V116.4H171.9V117.2H173.0V119.8H173.8V120.4H174.5V123.2H175.0V123.3H175.4V124.2H175.7V124.4H176.0V124.5H176.3V124.8H176.5V125.5H176.7V125.7H176.9V127.0"/>
<path d="M35.0,28.1H46.2V45.9H55.5V55.0H63.6V57.3H71.6V61.7H79.0V65.7H86.0V65.8H92.9V72.3H99.1V72.6H105.3V73.8H111.4V81.5H116.6V87.0H121.1V88.3H125.5V89.1H129.8V92.0H133.8V94.8H137.5V97.2H140.8V100.0H143.9V101.4H146.8V103.0H149.6V103.2H152.3V103.9H154.9V104.3H157.5V109.1H159.5V109.2H161.5V109.9H163.5V110.9H165.3V111.2H167.1V112.4H168.8V114.8H170.1V115.0H171.5V116.3H172.7V116.5H173.9V116.7H175.1V117.1H176.2V119.8H177.1V124.8H177.3V124.8H177.6V125.5H177.7V126.5H177.8V127.0"/>
<path d="M35.0,25.5H46.5V47.0H55.6V50.2H64.4V54.2H72.6V57.4H80.6V61.6H88.0V65.7H95.0V65.7H101.9V73.7H108.0V73.8H114.1V76.2H119.8V80.4H125.1V81.6H130.3V87.1H134.8V87.8H139.3V92.2H143.2V95.3H146.8V100.2H149.9V101.6H152.8V103.3H155.5V103.6H158.1V105.4H160.6V106.7H162.9V108.3H165.0V111.4H166.8V111.6H168.6V113.2H170.1V113.7H171.6V115.0H173.0V115.3H174.3V115.5H175.6V118.5H176.6V121.0H177.3V121.6H177.9V125.3H178.1V127.0"/>
<path d="M35.0,28.7H46.2V46.1H55.4V48.3H64.3V54.8H72.5V55.3H80.7V62.1H88.1V64.0H95.2V67.6H102.0V72.2H108.2V74.3H114.2V80.0H119.5V87.1H124.1V93.1H127.9V95.7H131.5V97.8H134.8V99.2H138.0V99.8H141.1V100.3H144.1V101.0H147.1V101.2H150.0V102.6H152.8V103.3H155.5V105.0H158.0V106.2H160.3V107.3H162.6V111.0H164.4V113.1H166.0V113.7H167.5V115.4H168.8V115.8H170.1V117.0H171.2V117.9H172.2V118.8H173.2V119.2H174.1V122.4H174.6V123.1H175.0V123.7H175.4V125.0H175.6V125.0H175.8V126.6H175.9V126.7H175.9V127.0"/>
<path d="M35.0,25.4H46.6V45.8H55.8V50.9H64.4V62.6H71.8V65.2H78.8V65.9H85.7V72.0H92.0V80.7H97.2V87.4H101.7V88.0H106.2V88.5H110.6V90.2H114.7V93.8H118.5V94.5H122.2V95.9H125.7V96.3H129.2V98.2H132.5V99.2H135.7V99.3H138.8V100.7H141.8V102.6H144.6V102.9H147.3V103.8H150.0V104.2H152.6V104.7H155.1V106.9H157.4V106.9H159.7V107.3H161.9V108.3H164.0V108.4H166.1V109.1H168.2V110.0H170.1V110.8H171.9V114.8H173.3V116.1H174.6V117.6H175.7V120.2H176.4V127.0"/>
<path d="M35.0,45.1H44.3V49.4H53.1V52.6H61.6V58.6H69.4V60.0H77.0V62.8H84.3V65.2H91.3V65.9H98.3V67.3H105.1V69.4H111.6V73.4H117.7V73.9H123.7V85.8H128.4V86.1H133.1V88.0H137.5V93.2H141.4V93.9H145.1V95.1H148.7V97.0H152.2V100.3H155.2V100.9H158.2V102.2H161.0V103.7H163.6V106.0H166.0V108.6H168.1V113.9H169.6V114.1H171.1V114.3H172.5V116.2H173.7V119.6H174.6V127.0"/>
<path d="M35.0,27.8H46.3V46.1H55.5V50.0H64.2V55.2H72.4V71.7H78.7V72.2H84.9V73.5H91.0V81.8H96.1V87.4H100.6V87.4H105.1V88.1H109.6V90.9H113.7V93.8H117.4V94.8H121.1V95.1H124.7V95.9H128.3V96.1H131.8V97.7H135.1V99.1H138.3V100.6H141.3V101.2H144.2V101.9H147.1V102.7H149.8V103.4H152.5V106.1H154.9V106.4H157.2V107.5H159.5V108.0H161.6V109.1H163.7V109.3H165.7V110.6H167.5V112.0H169.2V112.4H170.9V116.4H172.1V117.5H173.2V118.7H174.1V122.3H174.7V122.4H175.2V126.0H175.3V127.0"/>
<path d="M35.0,26.1H46.5V47.6H55.5V48.4H64.4V57.8H72.3V63.2H79.6V67.8H86.3V68.3H93.0V71.9H99.2V72.8H105.4V73.6H111.5V73.6H117.6V74.8H123.5V84.0H128.4V84.8H133.2V86.4H137.8V88.7H142.1V93.2H146.0V96.8H149.4V103.0H152.2V104.5H154.7V105.8H157.1V107.4H159.4V107.9H161.5V108.4H163.6V111.4H165.4V114.9H166.8V115.0H168.1V116.1H169.4V116.2H170.6V117.1H171.7V117.5H172.8V120.6H173.5V121.4H174.2V122.9H174.6V127.0"/>
</g>
<path d="M35,27.9H46.4V45.4H55.2V52.3H64.7V56.8H71.7V61H80V66.5H88V71.2H128V76H138V83H148V92H157V100H164V108H169V115H173V121H175.5V127" fill="none" stroke="#2e3192" stroke-width="0.8" stroke-opacity="0.7"/>
<path d="M35,27.0H57.7V45.1H66.6V48.2H76.1V52.7H84.3V56.8H92.6V61.2H99.5V64.4H107.5V65.3H113.4V67.4H120.7V71.6H139V80.4H144.7V86H153.5V87.4H157.9V91.8H165.9V99.4H170V102H173.9V105.5H176.1V108.2H177.2V109" fill="none" stroke="#2a2a2a" stroke-width="0.9"/>
<path d="M35,73.4H40.5V76H46.7V84.5H51.1V89.2L59.9,91L67.2,92.8L75.2,94.7V99.4H78.8V102.6L87.6,103.8L100,106.4L103.9,107V108.2L119.2,113.3L133.8,117.7L148.4,121.3L163,125.4L170.3,126.9L173,127" fill="none" stroke="#2a2a2a" stroke-width="0.9"/>
<line x1="28.00" y1="15.00" x2="28.00" y2="132.00" stroke="#c4c4c4" stroke-width="1.0"/>
<line x1="28.00" y1="132.00" x2="185.60" y2="132.00" stroke="#c4c4c4" stroke-width="1.0"/>
<line x1="26.30" y1="25.50" x2="28.00" y2="25.50" stroke="#666" stroke-width="0.5"/>
<text x="25.30" y="27.30" font-size="5.0" text-anchor="end" fill="#141414" stroke="#141414" stroke-width="0.18">250</text>
<line x1="26.30" y1="45.80" x2="28.00" y2="45.80" stroke="#666" stroke-width="0.5"/>
<text x="25.30" y="47.60" font-size="5.0" text-anchor="end" fill="#141414" stroke="#141414" stroke-width="0.18">200</text>
<line x1="26.30" y1="66.10" x2="28.00" y2="66.10" stroke="#666" stroke-width="0.5"/>
<text x="25.30" y="67.90" font-size="5.0" text-anchor="end" fill="#141414" stroke="#141414" stroke-width="0.18">150</text>
<line x1="26.30" y1="86.40" x2="28.00" y2="86.40" stroke="#666" stroke-width="0.5"/>
<text x="25.30" y="88.20" font-size="5.0" text-anchor="end" fill="#141414" stroke="#141414" stroke-width="0.18">100</text>
<line x1="26.30" y1="106.70" x2="28.00" y2="106.70" stroke="#666" stroke-width="0.5"/>
<text x="25.30" y="108.50" font-size="5.0" text-anchor="end" fill="#141414" stroke="#141414" stroke-width="0.18">50</text>
<line x1="26.30" y1="127.00" x2="28.00" y2="127.00" stroke="#666" stroke-width="0.5"/>
<text x="25.30" y="128.80" font-size="5.0" text-anchor="end" fill="#141414" stroke="#141414" stroke-width="0.18">0</text>
<line x1="35.00" y1="132.00" x2="35.00" y2="133.60" stroke="#666" stroke-width="0.5"/>
<text x="35.00" y="139.10" font-size="5.0" text-anchor="middle" fill="#141414" stroke="#141414" stroke-width="0.18">0</text>
<line x1="58.40" y1="132.00" x2="58.40" y2="133.60" stroke="#666" stroke-width="0.5"/>
<text x="58.40" y="139.10" font-size="5.0" text-anchor="middle" fill="#141414" stroke="#141414" stroke-width="0.18">0.5</text>
<line x1="81.00" y1="132.00" x2="81.00" y2="133.60" stroke="#666" stroke-width="0.5"/>
<text x="81.00" y="139.10" font-size="5.0" text-anchor="middle" fill="#141414" stroke="#141414" stroke-width="0.18">1</text>
<line x1="104.60" y1="132.00" x2="104.60" y2="133.60" stroke="#666" stroke-width="0.5"/>
<text x="104.60" y="139.10" font-size="5.0" text-anchor="middle" fill="#141414" stroke="#141414" stroke-width="0.18">1.5</text>
<line x1="127.50" y1="132.00" x2="127.50" y2="133.60" stroke="#666" stroke-width="0.5"/>
<text x="127.50" y="139.10" font-size="5.0" text-anchor="middle" fill="#141414" stroke="#141414" stroke-width="0.18">2</text>
<line x1="150.30" y1="132.00" x2="150.30" y2="133.60" stroke="#666" stroke-width="0.5"/>
<text x="150.30" y="139.10" font-size="5.0" text-anchor="middle" fill="#141414" stroke="#141414" stroke-width="0.18">2.5</text>
<line x1="173.50" y1="132.00" x2="173.50" y2="133.60" stroke="#666" stroke-width="0.5"/>
<text x="173.50" y="139.10" font-size="5.0" text-anchor="middle" fill="#141414" stroke="#141414" stroke-width="0.18">3</text>
<text x="7.20" y="75.34" font-size="6.5" text-anchor="middle" fill="#141414" font-weight="bold" transform="rotate(-90 7.20 73.00)" stroke="#141414" stroke-width="0.18">Contig length (Mb)</text>
<text x="104.30" y="147.74" font-size="6.5" text-anchor="middle" fill="#141414" font-weight="bold" stroke="#141414" stroke-width="0.18">Cumulative coverage (Gb)</text>
<text x="110.60" y="36.35" font-size="5.7" text-anchor="start" fill="#141414" stroke="#141414" stroke-width="0.18">Avg N50 124.28 Mb</text>
<text x="112.80" y="59.66" font-size="4.6" text-anchor="start" fill="#444">CHM13</text>
<text x="60.00" y="90.63" font-size="4.8" text-anchor="start" fill="#444">GRCh38 (N-split)</text>
<text x="208.62" y="11.00" font-size="13.4" font-weight="bold" fill="#1a1a1a" class="pl">b.</text>
<polygon points="282.20,28.95 285.05,29.92 285.05,31.88 282.20,32.85 279.35,31.88 279.35,29.92" fill="#ebf3fb"/>
<polygon points="288.00,28.95 290.85,29.92 290.85,31.88 288.00,32.85 285.15,31.88 285.15,29.92" fill="#ebf3fb"/>
<polygon points="304.70,28.95 307.55,29.92 307.55,31.88 304.70,32.85 301.85,31.88 301.85,29.92" fill="#ebf3fb"/>
<polygon points="310.00,28.95 312.85,29.92 312.85,31.88 310.00,32.85 307.15,31.88 307.15,29.92" fill="#e7f1f9"/>
<polygon points="321.30,28.95 324.15,29.92 324.15,31.88 321.30,32.85 318.45,31.88 318.45,29.92" fill="#c7ddef"/>
<polygon points="326.80,28.95 329.65,29.92 329.65,31.88 326.80,32.85 323.95,31.88 323.95,29.92" fill="#dfebf7"/>
<polygon points="332.30,28.95 335.15,29.92 335.15,31.88 332.30,32.85 329.45,31.88 329.45,29.92" fill="#1f4d8c"/>
<polygon points="337.90,28.95 340.75,29.92 340.75,31.88 337.90,32.85 335.05,31.88 335.05,29.92" fill="#7ab6d9"/>
<polygon points="343.60,28.95 346.45,29.92 346.45,31.88 343.60,32.85 340.75,31.88 340.75,29.92" fill="#91c2de"/>
<polygon points="349.20,28.95 352.05,29.92 352.05,31.88 349.20,32.85 346.35,31.88 346.35,29.92" fill="#d9e8f5"/>
<polygon points="377.00,28.95 379.85,29.92 379.85,31.88 377.00,32.85 374.15,31.88 374.15,29.92" fill="#e5eff9"/>
<polygon points="268.80,31.75 271.65,32.73 271.65,34.68 268.80,35.65 265.95,34.68 265.95,32.73" fill="#f4f9fe"/>
<polygon points="307.30,31.75 310.15,32.73 310.15,34.68 307.30,35.65 304.45,34.68 304.45,32.73" fill="#e7f1f9"/>
<polygon points="313.00,31.75 315.85,32.73 315.85,34.68 313.00,35.65 310.15,34.68 310.15,32.73" fill="#ebf3fb"/>
<polygon points="324.00,31.75 326.85,32.73 326.85,34.68 324.00,35.65 321.15,34.68 321.15,32.73" fill="#c3dbee"/>
<polygon points="329.60,31.75 332.45,32.73 332.45,34.68 329.60,35.65 326.75,34.68 326.75,32.73" fill="#eff6fc"/>
<polygon points="335.20,31.75 338.05,32.73 338.05,34.68 335.20,35.65 332.35,34.68 332.35,32.73" fill="#67a9d2"/>
<polygon points="340.90,31.75 343.75,32.73 343.75,34.68 340.90,35.65 338.05,34.68 338.05,32.73" fill="#bfd9ec"/>
<polygon points="346.60,31.75 349.45,32.73 349.45,34.68 346.60,35.65 343.75,34.68 343.75,32.73" fill="#ddeaf6"/>
<polygon points="357.70,31.75 360.55,32.73 360.55,34.68 357.70,35.65 354.85,34.68 354.85,32.73" fill="#e5eff9"/>
<polygon points="268.80,34.65 271.65,35.62 271.65,37.58 268.80,38.55 265.95,37.58 265.95,35.62" fill="#f5fafe"/>
<polygon points="299.20,34.65 302.05,35.62 302.05,37.58 299.20,38.55 296.35,37.58 296.35,35.62" fill="#f5fafe"/>
<polygon points="332.30,34.65 335.15,35.62 335.15,37.58 332.30,38.55 329.45,37.58 329.45,35.62" fill="#eff6fc"/>
<polygon points="337.90,34.65 340.75,35.62 340.75,37.58 337.90,38.55 335.05,37.58 335.05,35.62" fill="#f3f8fe"/>
<polygon points="326.80,34.65 329.65,35.62 329.65,37.58 326.80,38.55 323.95,37.58 323.95,35.62" fill="#f4f9fe"/>
<polygon points="318.00,37.45 320.85,38.42 320.85,40.38 318.00,41.35 315.15,40.38 315.15,38.42" fill="#f6faff"/>
<polygon points="337.90,40.55 340.75,41.52 340.75,43.48 337.90,44.45 335.05,43.48 335.05,41.52" fill="#f5fafe"/>
<polygon points="307.30,43.45 310.15,44.42 310.15,46.38 307.30,47.35 304.45,46.38 304.45,44.42" fill="#f5fafe"/>
<polygon points="335.20,43.45 338.05,44.42 338.05,46.38 335.20,47.35 332.35,46.38 332.35,44.42" fill="#f5fafe"/>
<polygon points="335.20,49.05 338.05,50.02 338.05,51.98 335.20,52.95 332.35,51.98 332.35,50.02" fill="#e3eef8"/>
<polygon points="321.30,51.55 324.15,52.52 324.15,54.48 321.30,55.45 318.45,54.48 318.45,52.52" fill="#f5fafe"/>
<polygon points="326.80,51.55 329.65,52.52 329.65,54.48 326.80,55.45 323.95,54.48 323.95,52.52" fill="#f5fafe"/>
<polygon points="343.60,51.55 346.45,52.52 346.45,54.48 343.60,55.45 340.75,54.48 340.75,52.52" fill="#f5fafe"/>
<polygon points="354.80,51.55 357.65,52.52 357.65,54.48 354.80,55.45 351.95,54.48 351.95,52.52" fill="#f5fafe"/>
<polygon points="313.40,54.35 316.25,55.32 316.25,57.27 313.40,58.25 310.55,57.27 310.55,55.32" fill="#f5fafe"/>
<polygon points="332.30,57.55 335.15,58.52 335.15,60.48 332.30,61.45 329.45,60.48 329.45,58.52" fill="#f6faff"/>
<polygon points="296.30,60.05 299.15,61.02 299.15,62.98 296.30,63.95 293.45,62.98 293.45,61.02" fill="#f5fafe"/>
<polygon points="339.50,60.05 342.35,61.02 342.35,62.98 339.50,63.95 336.65,62.98 336.65,61.02" fill="#f5fafe"/>
<polygon points="290.70,65.75 293.55,66.73 293.55,68.67 290.70,69.65 287.85,68.67 287.85,66.73" fill="#f5fafe"/>
<polygon points="335.20,65.75 338.05,66.73 338.05,68.67 335.20,69.65 332.35,68.67 332.35,66.73" fill="#f6faff"/>
<polygon points="332.60,68.85 335.45,69.83 335.45,71.77 332.60,72.75 329.75,71.77 329.75,69.83" fill="#e3eef8"/>
<polygon points="284.90,71.45 287.75,72.43 287.75,74.38 284.90,75.35 282.05,74.38 282.05,72.43" fill="#f5fafe"/>
<polygon points="338.50,74.05 341.35,75.03 341.35,76.97 338.50,77.95 335.65,76.97 335.65,75.03" fill="#f6faff"/>
<polygon points="343.60,74.05 346.45,75.03 346.45,76.97 343.60,77.95 340.75,76.97 340.75,75.03" fill="#f6faff"/>
<polygon points="333.70,84.05 336.55,85.03 336.55,86.97 333.70,87.95 330.85,86.97 330.85,85.03" fill="#f6faff"/>
<polygon points="331.70,91.75 334.55,92.73 334.55,94.67 331.70,95.65 328.85,94.67 328.85,92.73" fill="#f6faff"/>
<line x1="246.40" y1="16.50" x2="246.40" y2="132.00" stroke="#444" stroke-width="0.8"/>
<line x1="246.40" y1="132.00" x2="396.20" y2="132.00" stroke="#444" stroke-width="0.8"/>
<line x1="243.60" y1="30.90" x2="246.40" y2="30.90" stroke="#888" stroke-width="0.5"/>
<text x="241.40" y="32.81" font-size="5.3" text-anchor="end" fill="#141414" stroke="#141414" stroke-width="0.18">100.0</text>
<line x1="243.60" y1="51.12" x2="246.40" y2="51.12" stroke="#888" stroke-width="0.5"/>
<text x="241.40" y="53.03" font-size="5.3" text-anchor="end" fill="#141414" stroke="#141414" stroke-width="0.18">99.9</text>
<line x1="243.60" y1="71.34" x2="246.40" y2="71.34" stroke="#888" stroke-width="0.5"/>
<text x="241.40" y="73.25" font-size="5.3" text-anchor="end" fill="#141414" stroke="#141414" stroke-width="0.18">99.8</text>
<line x1="243.60" y1="91.56" x2="246.40" y2="91.56" stroke="#888" stroke-width="0.5"/>
<text x="241.40" y="93.47" font-size="5.3" text-anchor="end" fill="#141414" stroke="#141414" stroke-width="0.18">99.7</text>
<line x1="243.60" y1="111.78" x2="246.40" y2="111.78" stroke="#888" stroke-width="0.5"/>
<text x="241.40" y="113.69" font-size="5.3" text-anchor="end" fill="#141414" stroke="#141414" stroke-width="0.18">99.6</text>
<line x1="243.60" y1="132.00" x2="246.40" y2="132.00" stroke="#888" stroke-width="0.5"/>
<text x="241.40" y="133.91" font-size="5.3" text-anchor="end" fill="#141414" stroke="#141414" stroke-width="0.18">99.5</text>
<line x1="252.00" y1="132.00" x2="252.00" y2="134.00" stroke="#888" stroke-width="0.5"/>
<text x="252.00" y="140.71" font-size="5.3" text-anchor="middle" fill="#141414" stroke="#141414" stroke-width="0.18">52</text>
<line x1="280.84" y1="132.00" x2="280.84" y2="134.00" stroke="#888" stroke-width="0.5"/>
<text x="280.84" y="140.71" font-size="5.3" text-anchor="middle" fill="#141414" stroke="#141414" stroke-width="0.18">54</text>
<line x1="309.68" y1="132.00" x2="309.68" y2="134.00" stroke="#888" stroke-width="0.5"/>
<text x="309.68" y="140.71" font-size="5.3" text-anchor="middle" fill="#141414" stroke="#141414" stroke-width="0.18">56</text>
<line x1="338.52" y1="132.00" x2="338.52" y2="134.00" stroke="#888" stroke-width="0.5"/>
<text x="338.52" y="140.71" font-size="5.3" text-anchor="middle" fill="#141414" stroke="#141414" stroke-width="0.18">58</text>
<line x1="367.36" y1="132.00" x2="367.36" y2="134.00" stroke="#888" stroke-width="0.5"/>
<text x="367.36" y="140.71" font-size="5.3" text-anchor="middle" fill="#141414" stroke="#141414" stroke-width="0.18">60</text>
<line x1="396.20" y1="132.00" x2="396.20" y2="134.00" stroke="#888" stroke-width="0.5"/>
<text x="396.20" y="140.71" font-size="5.3" text-anchor="middle" fill="#141414" stroke="#141414" stroke-width="0.18">62</text>
<text x="323.60" y="147.94" font-size="6.5" text-anchor="middle" fill="#141414" font-weight="bold" stroke="#141414" stroke-width="0.18">QV</text>
<text x="219.80" y="77.04" font-size="6.5" text-anchor="middle" fill="#141414" font-weight="bold" transform="rotate(-90 219.80 74.70)" stroke="#141414" stroke-width="0.18">Mapping rate</text>
<defs><linearGradient id="cb" x1="0" y1="1" x2="0" y2="0"><stop offset="0.000" stop-color="#f7fbff"/><stop offset="0.125" stop-color="#e3eef8"/><stop offset="0.250" stop-color="#cfe1f2"/><stop offset="0.375" stop-color="#a8cee4"/><stop offset="0.500" stop-color="#7ab6d9"/><stop offset="0.625" stop-color="#5aa0cd"/><stop offset="0.750" stop-color="#3d87bf"/><stop offset="0.875" stop-color="#2d6faf"/><stop offset="1.000" stop-color="#1f4d8c"/></linearGradient></defs>
<rect x="406.00" y="15.90" width="6.20" height="115.70" fill="url(#cb)" stroke="#bbb" stroke-width="0.4"/>
<line x1="412.20" y1="131.60" x2="413.70" y2="131.60" stroke="#444" stroke-width="0.5"/>
<text x="415.60" y="133.51" font-size="5.3" text-anchor="start" fill="#141414" stroke="#141414" stroke-width="0.18">1</text>
<line x1="412.20" y1="117.14" x2="413.70" y2="117.14" stroke="#444" stroke-width="0.5"/>
<text x="415.60" y="119.05" font-size="5.3" text-anchor="start" fill="#141414" stroke="#141414" stroke-width="0.18">2</text>
<line x1="412.20" y1="102.67" x2="413.70" y2="102.67" stroke="#444" stroke-width="0.5"/>
<text x="415.60" y="104.58" font-size="5.3" text-anchor="start" fill="#141414" stroke="#141414" stroke-width="0.18">3</text>
<line x1="412.20" y1="88.21" x2="413.70" y2="88.21" stroke="#444" stroke-width="0.5"/>
<text x="415.60" y="90.12" font-size="5.3" text-anchor="start" fill="#141414" stroke="#141414" stroke-width="0.18">4</text>
<line x1="412.20" y1="73.75" x2="413.70" y2="73.75" stroke="#444" stroke-width="0.5"/>
<text x="415.60" y="75.66" font-size="5.3" text-anchor="start" fill="#141414" stroke="#141414" stroke-width="0.18">5</text>
<line x1="412.20" y1="59.29" x2="413.70" y2="59.29" stroke="#444" stroke-width="0.5"/>
<text x="415.60" y="61.20" font-size="5.3" text-anchor="start" fill="#141414" stroke="#141414" stroke-width="0.18">6</text>
<line x1="412.20" y1="44.83" x2="413.70" y2="44.83" stroke="#444" stroke-width="0.5"/>
<text x="415.60" y="46.73" font-size="5.3" text-anchor="start" fill="#141414" stroke="#141414" stroke-width="0.18">7</text>
<line x1="412.20" y1="30.36" x2="413.70" y2="30.36" stroke="#444" stroke-width="0.5"/>
<text x="415.60" y="32.27" font-size="5.3" text-anchor="start" fill="#141414" stroke="#141414" stroke-width="0.18">8</text>
<line x1="412.20" y1="15.90" x2="413.70" y2="15.90" stroke="#444" stroke-width="0.5"/>
<text x="415.60" y="17.81" font-size="5.3" text-anchor="start" fill="#141414" stroke="#141414" stroke-width="0.18">9</text>
<text x="440.28" y="11.00" font-size="13.4" font-weight="bold" fill="#1a1a1a" class="pl">c.</text>
<circle cx="485.60" cy="19.34" r="0.6" fill="#4a7dc0"/>
<circle cx="486.80" cy="19.53" r="0.6" fill="#4a7dc0"/>
<circle cx="488.00" cy="19.42" r="0.6" fill="#4a7dc0"/>
<circle cx="489.20" cy="19.56" r="0.6" fill="#4a7dc0"/>
<circle cx="490.40" cy="19.58" r="0.6" fill="#4a7dc0"/>
<circle cx="491.60" cy="19.24" r="0.6" fill="#4a7dc0"/>
<circle cx="492.80" cy="19.21" r="0.6" fill="#4a7dc0"/>
<circle cx="494.00" cy="19.70" r="0.6" fill="#4a7dc0"/>
<circle cx="495.20" cy="19.36" r="0.6" fill="#4a7dc0"/>
<circle cx="496.40" cy="19.34" r="0.6" fill="#4a7dc0"/>
<circle cx="497.60" cy="19.80" r="0.6" fill="#4a7dc0"/>
<circle cx="498.80" cy="19.48" r="0.6" fill="#4a7dc0"/>
<circle cx="500.00" cy="19.70" r="0.6" fill="#4a7dc0"/>
<circle cx="501.20" cy="19.49" r="0.6" fill="#4a7dc0"/>
<circle cx="502.40" cy="19.58" r="0.6" fill="#4a7dc0"/>
<circle cx="503.60" cy="19.29" r="0.6" fill="#4a7dc0"/>
<circle cx="504.80" cy="19.58" r="0.6" fill="#4a7dc0"/>
<circle cx="506.00" cy="19.72" r="0.6" fill="#4a7dc0"/>
<circle cx="507.20" cy="19.51" r="0.6" fill="#4a7dc0"/>
<circle cx="486.50" cy="20.54" r="0.6" fill="#4a7dc0"/>
<circle cx="487.68" cy="20.50" r="0.6" fill="#4a7dc0"/>
<circle cx="488.85" cy="20.14" r="0.6" fill="#4a7dc0"/>
<circle cx="490.03" cy="20.55" r="0.6" fill="#4a7dc0"/>
<circle cx="491.21" cy="20.45" r="0.6" fill="#4a7dc0"/>
<circle cx="492.38" cy="20.28" r="0.6" fill="#4a7dc0"/>
<circle cx="493.56" cy="20.12" r="0.6" fill="#4a7dc0"/>
<circle cx="494.74" cy="20.62" r="0.6" fill="#4a7dc0"/>
<circle cx="495.91" cy="20.38" r="0.6" fill="#4a7dc0"/>
<circle cx="497.09" cy="20.53" r="0.6" fill="#4a7dc0"/>
<circle cx="498.26" cy="20.63" r="0.6" fill="#4a7dc0"/>
<circle cx="499.44" cy="20.53" r="0.6" fill="#4a7dc0"/>
<circle cx="500.62" cy="20.65" r="0.6" fill="#4a7dc0"/>
<circle cx="501.79" cy="20.34" r="0.6" fill="#4a7dc0"/>
<circle cx="502.97" cy="20.58" r="0.6" fill="#4a7dc0"/>
<circle cx="504.15" cy="20.37" r="0.6" fill="#4a7dc0"/>
<circle cx="505.32" cy="20.66" r="0.6" fill="#4a7dc0"/>
<circle cx="506.50" cy="20.63" r="0.6" fill="#4a7dc0"/>
<circle cx="494.60" cy="17.76" r="0.6" fill="#4a7dc0"/>
<circle cx="496.13" cy="17.78" r="0.6" fill="#4a7dc0"/>
<circle cx="497.67" cy="17.83" r="0.6" fill="#4a7dc0"/>
<circle cx="499.20" cy="18.28" r="0.6" fill="#4a7dc0"/>
<circle cx="494.60" cy="18.76" r="0.6" fill="#4a7dc0"/>
<circle cx="496.13" cy="18.88" r="0.6" fill="#4a7dc0"/>
<circle cx="497.67" cy="18.68" r="0.6" fill="#4a7dc0"/>
<circle cx="499.20" cy="18.80" r="0.6" fill="#4a7dc0"/>
<circle cx="494.60" cy="21.13" r="0.6" fill="#4a7dc0"/>
<circle cx="496.13" cy="21.11" r="0.6" fill="#4a7dc0"/>
<circle cx="497.67" cy="21.25" r="0.6" fill="#4a7dc0"/>
<circle cx="499.20" cy="21.25" r="0.6" fill="#4a7dc0"/>
<circle cx="494.60" cy="22.24" r="0.6" fill="#4a7dc0"/>
<circle cx="496.13" cy="22.11" r="0.6" fill="#4a7dc0"/>
<circle cx="497.67" cy="22.26" r="0.6" fill="#4a7dc0"/>
<circle cx="499.20" cy="22.21" r="0.6" fill="#4a7dc0"/>
<circle cx="496.20" cy="23.09" r="0.6" fill="#4a7dc0"/>
<circle cx="497.80" cy="22.90" r="0.6" fill="#4a7dc0"/>
<circle cx="496.20" cy="23.40" r="0.6" fill="#4a7dc0"/>
<circle cx="497.80" cy="23.82" r="0.6" fill="#4a7dc0"/>
<circle cx="491.40" cy="25.08" r="0.6" fill="#4a7dc0"/>
<circle cx="492.56" cy="25.04" r="0.6" fill="#4a7dc0"/>
<circle cx="493.71" cy="24.84" r="0.6" fill="#4a7dc0"/>
<circle cx="494.87" cy="24.93" r="0.6" fill="#4a7dc0"/>
<circle cx="496.02" cy="24.63" r="0.6" fill="#4a7dc0"/>
<circle cx="497.18" cy="25.00" r="0.6" fill="#4a7dc0"/>
<circle cx="498.33" cy="24.84" r="0.6" fill="#4a7dc0"/>
<circle cx="499.49" cy="24.67" r="0.6" fill="#4a7dc0"/>
<circle cx="500.64" cy="24.54" r="0.6" fill="#4a7dc0"/>
<circle cx="501.80" cy="25.01" r="0.6" fill="#4a7dc0"/>
<circle cx="492.50" cy="25.99" r="0.6" fill="#4a7dc0"/>
<circle cx="493.71" cy="25.45" r="0.6" fill="#4a7dc0"/>
<circle cx="494.93" cy="25.88" r="0.6" fill="#4a7dc0"/>
<circle cx="496.14" cy="25.65" r="0.6" fill="#4a7dc0"/>
<circle cx="497.36" cy="25.49" r="0.6" fill="#4a7dc0"/>
<circle cx="498.57" cy="25.58" r="0.6" fill="#4a7dc0"/>
<circle cx="499.79" cy="25.86" r="0.6" fill="#4a7dc0"/>
<circle cx="501.00" cy="25.92" r="0.6" fill="#4a7dc0"/>
<circle cx="518.40" cy="15.92" r="0.6" fill="#e27d4e"/>
<circle cx="519.56" cy="16.15" r="0.6" fill="#e27d4e"/>
<circle cx="520.72" cy="15.92" r="0.6" fill="#e27d4e"/>
<circle cx="521.87" cy="16.19" r="0.6" fill="#e27d4e"/>
<circle cx="523.03" cy="16.03" r="0.6" fill="#e27d4e"/>
<circle cx="524.19" cy="16.25" r="0.6" fill="#e27d4e"/>
<circle cx="525.35" cy="16.29" r="0.6" fill="#e27d4e"/>
<circle cx="526.51" cy="16.10" r="0.6" fill="#e27d4e"/>
<circle cx="527.66" cy="16.30" r="0.6" fill="#e27d4e"/>
<circle cx="528.82" cy="16.02" r="0.6" fill="#e27d4e"/>
<circle cx="529.98" cy="15.93" r="0.6" fill="#e27d4e"/>
<circle cx="531.14" cy="16.14" r="0.6" fill="#e27d4e"/>
<circle cx="532.29" cy="15.91" r="0.6" fill="#e27d4e"/>
<circle cx="533.45" cy="15.98" r="0.6" fill="#e27d4e"/>
<circle cx="534.61" cy="16.06" r="0.6" fill="#e27d4e"/>
<circle cx="535.77" cy="16.14" r="0.6" fill="#e27d4e"/>
<circle cx="536.93" cy="15.96" r="0.6" fill="#e27d4e"/>
<circle cx="538.08" cy="15.92" r="0.6" fill="#e27d4e"/>
<circle cx="539.24" cy="16.25" r="0.6" fill="#e27d4e"/>
<circle cx="540.40" cy="16.03" r="0.6" fill="#e27d4e"/>
<circle cx="519.50" cy="16.98" r="0.6" fill="#e27d4e"/>
<circle cx="520.68" cy="16.96" r="0.6" fill="#e27d4e"/>
<circle cx="521.85" cy="16.75" r="0.6" fill="#e27d4e"/>
<circle cx="523.03" cy="16.78" r="0.6" fill="#e27d4e"/>
<circle cx="524.21" cy="16.81" r="0.6" fill="#e27d4e"/>
<circle cx="525.38" cy="16.86" r="0.6" fill="#e27d4e"/>
<circle cx="526.56" cy="16.84" r="0.6" fill="#e27d4e"/>
<circle cx="527.74" cy="16.82" r="0.6" fill="#e27d4e"/>
<circle cx="528.91" cy="16.85" r="0.6" fill="#e27d4e"/>
<circle cx="530.09" cy="16.98" r="0.6" fill="#e27d4e"/>
<circle cx="531.26" cy="16.80" r="0.6" fill="#e27d4e"/>
<circle cx="532.44" cy="16.77" r="0.6" fill="#e27d4e"/>
<circle cx="533.62" cy="16.89" r="0.6" fill="#e27d4e"/>
<circle cx="534.79" cy="16.70" r="0.6" fill="#e27d4e"/>
<circle cx="535.97" cy="16.72" r="0.6" fill="#e27d4e"/>
<circle cx="537.15" cy="16.99" r="0.6" fill="#e27d4e"/>
<circle cx="538.32" cy="16.81" r="0.6" fill="#e27d4e"/>
<circle cx="539.50" cy="16.82" r="0.6" fill="#e27d4e"/>
<circle cx="529.40" cy="17.50" r="0.6" fill="#e27d4e"/>
<circle cx="530.20" cy="17.58" r="0.6" fill="#e27d4e"/>
<circle cx="529.40" cy="18.42" r="0.6" fill="#e27d4e"/>
<circle cx="530.20" cy="18.30" r="0.6" fill="#e27d4e"/>
<circle cx="529.40" cy="19.22" r="0.6" fill="#e27d4e"/>
<circle cx="530.20" cy="19.23" r="0.6" fill="#e27d4e"/>
<circle cx="529.40" cy="19.91" r="0.6" fill="#e27d4e"/>
<circle cx="530.20" cy="20.03" r="0.6" fill="#e27d4e"/>
<circle cx="529.40" cy="20.79" r="0.6" fill="#e27d4e"/>
<circle cx="530.20" cy="20.84" r="0.6" fill="#e27d4e"/>
<circle cx="526.40" cy="21.54" r="0.6" fill="#e27d4e"/>
<circle cx="527.68" cy="21.68" r="0.6" fill="#e27d4e"/>
<circle cx="528.96" cy="21.70" r="0.6" fill="#e27d4e"/>
<circle cx="530.24" cy="21.41" r="0.6" fill="#e27d4e"/>
<circle cx="531.52" cy="21.42" r="0.6" fill="#e27d4e"/>
<circle cx="532.80" cy="21.67" r="0.6" fill="#e27d4e"/>
<circle cx="527.40" cy="22.49" r="0.6" fill="#e27d4e"/>
<circle cx="528.87" cy="22.20" r="0.6" fill="#e27d4e"/>
<circle cx="530.33" cy="22.28" r="0.6" fill="#e27d4e"/>
<circle cx="531.80" cy="22.34" r="0.6" fill="#e27d4e"/>
<line x1="474.30" y1="13.00" x2="474.30" y2="131.50" stroke="#999" stroke-width="0.8"/>
<line x1="474.30" y1="131.30" x2="551.40" y2="131.30" stroke="#999" stroke-width="0.8"/>
<line x1="472.90" y1="13.90" x2="474.30" y2="13.90" stroke="#888" stroke-width="0.5"/>
<text x="472.00" y="15.77" font-size="5.2" text-anchor="end" fill="#141414" stroke="#141414" stroke-width="0.18">100</text>
<line x1="472.90" y1="37.38" x2="474.30" y2="37.38" stroke="#888" stroke-width="0.5"/>
<text x="472.00" y="39.25" font-size="5.2" text-anchor="end" fill="#141414" stroke="#141414" stroke-width="0.18">80</text>
<line x1="472.90" y1="60.86" x2="474.30" y2="60.86" stroke="#888" stroke-width="0.5"/>
<text x="472.00" y="62.73" font-size="5.2" text-anchor="end" fill="#141414" stroke="#141414" stroke-width="0.18">60</text>
<line x1="472.90" y1="84.34" x2="474.30" y2="84.34" stroke="#888" stroke-width="0.5"/>
<text x="472.00" y="86.21" font-size="5.2" text-anchor="end" fill="#141414" stroke="#141414" stroke-width="0.18">40</text>
<line x1="472.90" y1="107.82" x2="474.30" y2="107.82" stroke="#888" stroke-width="0.5"/>
<text x="472.00" y="109.69" font-size="5.2" text-anchor="end" fill="#141414" stroke="#141414" stroke-width="0.18">20</text>
<line x1="472.90" y1="131.30" x2="474.30" y2="131.30" stroke="#888" stroke-width="0.5"/>
<text x="472.00" y="133.17" font-size="5.2" text-anchor="end" fill="#141414" stroke="#141414" stroke-width="0.18">0</text>
<text x="496.30" y="145.74" font-size="6.5" text-anchor="middle" fill="#141414" font-weight="bold" stroke="#141414" stroke-width="0.18">CHM13</text>
<text x="531.20" y="145.74" font-size="6.5" text-anchor="middle" fill="#141414" font-weight="bold" stroke="#141414" stroke-width="0.18">GRCh38</text>
<text x="457.50" y="76.83" font-size="6.2" text-anchor="middle" fill="#141414" font-weight="bold" transform="rotate(-90 457.50 74.60)" stroke="#141414" stroke-width="0.18">Genome fraction (%)</text>
<text x="566.95" y="11.00" font-size="13.4" font-weight="bold" fill="#1a1a1a" class="pl">d.</text>
<rect x="622.30" y="73.30" width="1" height="1" fill="#5a88cc"/>
<rect x="622.30" y="74.90" width="1" height="1" fill="#5a88cc"/>
<rect x="620.70" y="76.50" width="1" height="1" fill="#5a88cc"/>
<rect x="622.30" y="76.50" width="1" height="1" fill="#5a88cc"/>
<rect x="620.70" y="78.10" width="1" height="1" fill="#5a88cc"/>
<rect x="623.90" y="78.10" width="1" height="1" fill="#5a88cc"/>
<rect x="621.50" y="79.70" width="1" height="1" fill="#5a88cc"/>
<rect x="623.10" y="79.70" width="1" height="1" fill="#5a88cc"/>
<rect x="624.70" y="79.70" width="1" height="1" fill="#5a88cc"/>
<rect x="620.70" y="81.30" width="1" height="1" fill="#5a88cc"/>
<rect x="622.30" y="81.30" width="1" height="1" fill="#5a88cc"/>
<rect x="623.90" y="81.30" width="1" height="1" fill="#5a88cc"/>
<rect x="620.70" y="82.90" width="1" height="1" fill="#5a88cc"/>
<rect x="622.30" y="82.90" width="1" height="1" fill="#5a88cc"/>
<rect x="623.90" y="82.90" width="1" height="1" fill="#5a88cc"/>
<rect x="618.30" y="84.50" width="1" height="1" fill="#5a88cc"/>
<rect x="619.90" y="84.50" width="1" height="1" fill="#5a88cc"/>
<rect x="621.50" y="84.50" width="1" height="1" fill="#5a88cc"/>
<rect x="623.10" y="84.50" width="1" height="1" fill="#5a88cc"/>
<rect x="624.70" y="84.50" width="1" height="1" fill="#5a88cc"/>
<rect x="626.30" y="84.50" width="1" height="1" fill="#5a88cc"/>
<rect x="627.90" y="84.50" width="1" height="1" fill="#5a88cc"/>
<rect x="615.10" y="86.10" width="1" height="1" fill="#5a88cc"/>
<rect x="616.70" y="86.10" width="1" height="1" fill="#5a88cc"/>
<rect x="618.30" y="86.10" width="1" height="1" fill="#5a88cc"/>
<rect x="619.90" y="86.10" width="1" height="1" fill="#5a88cc"/>
<rect x="623.10" y="86.10" width="1" height="1" fill="#5a88cc"/>
<rect x="624.70" y="86.10" width="1" height="1" fill="#5a88cc"/>
<rect x="627.90" y="86.10" width="1" height="1" fill="#5a88cc"/>
<rect x="629.50" y="86.10" width="1" height="1" fill="#5a88cc"/>
<rect x="631.10" y="86.10" width="1" height="1" fill="#5a88cc"/>
<rect x="613.50" y="87.70" width="1" height="1" fill="#5a88cc"/>
<rect x="615.10" y="87.70" width="1" height="1" fill="#5a88cc"/>
<rect x="616.70" y="87.70" width="1" height="1" fill="#5a88cc"/>
<rect x="618.30" y="87.70" width="1" height="1" fill="#5a88cc"/>
<rect x="619.90" y="87.70" width="1" height="1" fill="#5a88cc"/>
<rect x="621.50" y="87.70" width="1" height="1" fill="#5a88cc"/>
<rect x="623.10" y="87.70" width="1" height="1" fill="#5a88cc"/>
<rect x="624.70" y="87.70" width="1" height="1" fill="#5a88cc"/>
<rect x="626.30" y="87.70" width="1" height="1" fill="#5a88cc"/>
<rect x="627.90" y="87.70" width="1" height="1" fill="#5a88cc"/>
<rect x="629.50" y="87.70" width="1" height="1" fill="#5a88cc"/>
<rect x="631.10" y="87.70" width="1" height="1" fill="#5a88cc"/>
<rect x="632.70" y="87.70" width="1" height="1" fill="#5a88cc"/>
<rect x="612.70" y="89.30" width="1" height="1" fill="#5a88cc"/>
<rect x="614.30" y="89.30" width="1" height="1" fill="#5a88cc"/>
<rect x="617.50" y="89.30" width="1" height="1" fill="#5a88cc"/>
<rect x="619.10" y="89.30" width="1" height="1" fill="#5a88cc"/>
<rect x="620.70" y="89.30" width="1" height="1" fill="#5a88cc"/>
<rect x="622.30" y="89.30" width="1" height="1" fill="#5a88cc"/>
<rect x="623.90" y="89.30" width="1" height="1" fill="#5a88cc"/>
<rect x="625.50" y="89.30" width="1" height="1" fill="#5a88cc"/>
<rect x="627.10" y="89.30" width="1" height="1" fill="#5a88cc"/>
<rect x="628.70" y="89.30" width="1" height="1" fill="#5a88cc"/>
<rect x="630.30" y="89.30" width="1" height="1" fill="#5a88cc"/>
<rect x="631.90" y="89.30" width="1" height="1" fill="#5a88cc"/>
<rect x="613.50" y="90.90" width="1" height="1" fill="#5a88cc"/>
<rect x="616.70" y="90.90" width="1" height="1" fill="#5a88cc"/>
<rect x="618.30" y="90.90" width="1" height="1" fill="#5a88cc"/>
<rect x="619.90" y="90.90" width="1" height="1" fill="#5a88cc"/>
<rect x="621.50" y="90.90" width="1" height="1" fill="#5a88cc"/>
<rect x="623.10" y="90.90" width="1" height="1" fill="#5a88cc"/>
<rect x="624.70" y="90.90" width="1" height="1" fill="#5a88cc"/>
<rect x="626.30" y="90.90" width="1" height="1" fill="#5a88cc"/>
<rect x="627.90" y="90.90" width="1" height="1" fill="#5a88cc"/>
<rect x="629.50" y="90.90" width="1" height="1" fill="#5a88cc"/>
<rect x="632.70" y="90.90" width="1" height="1" fill="#5a88cc"/>
<rect x="611.90" y="92.50" width="1" height="1" fill="#5a88cc"/>
<rect x="615.10" y="92.50" width="1" height="1" fill="#5a88cc"/>
<rect x="616.70" y="92.50" width="1" height="1" fill="#5a88cc"/>
<rect x="618.30" y="92.50" width="1" height="1" fill="#5a88cc"/>
<rect x="619.90" y="92.50" width="1" height="1" fill="#5a88cc"/>
<rect x="621.50" y="92.50" width="1" height="1" fill="#5a88cc"/>
<rect x="623.10" y="92.50" width="1" height="1" fill="#5a88cc"/>
<rect x="624.70" y="92.50" width="1" height="1" fill="#5a88cc"/>
<rect x="626.30" y="92.50" width="1" height="1" fill="#5a88cc"/>
<rect x="629.50" y="92.50" width="1" height="1" fill="#5a88cc"/>
<rect x="632.70" y="92.50" width="1" height="1" fill="#5a88cc"/>
<rect x="634.30" y="92.50" width="1" height="1" fill="#5a88cc"/>
<rect x="614.30" y="94.10" width="1" height="1" fill="#5a88cc"/>
<rect x="615.90" y="94.10" width="1" height="1" fill="#5a88cc"/>
<rect x="619.10" y="94.10" width="1" height="1" fill="#5a88cc"/>
<rect x="620.70" y="94.10" width="1" height="1" fill="#5a88cc"/>
<rect x="622.30" y="94.10" width="1" height="1" fill="#5a88cc"/>
<rect x="623.90" y="94.10" width="1" height="1" fill="#5a88cc"/>
<rect x="625.50" y="94.10" width="1" height="1" fill="#5a88cc"/>
<rect x="627.10" y="94.10" width="1" height="1" fill="#5a88cc"/>
<rect x="628.70" y="94.10" width="1" height="1" fill="#5a88cc"/>
<rect x="630.30" y="94.10" width="1" height="1" fill="#5a88cc"/>
<rect x="613.50" y="95.70" width="1" height="1" fill="#5a88cc"/>
<rect x="615.10" y="95.70" width="1" height="1" fill="#5a88cc"/>
<rect x="616.70" y="95.70" width="1" height="1" fill="#5a88cc"/>
<rect x="618.30" y="95.70" width="1" height="1" fill="#5a88cc"/>
<rect x="619.90" y="95.70" width="1" height="1" fill="#5a88cc"/>
<rect x="623.10" y="95.70" width="1" height="1" fill="#5a88cc"/>
<rect x="624.70" y="95.70" width="1" height="1" fill="#5a88cc"/>
<rect x="626.30" y="95.70" width="1" height="1" fill="#5a88cc"/>
<rect x="627.90" y="95.70" width="1" height="1" fill="#5a88cc"/>
<rect x="629.50" y="95.70" width="1" height="1" fill="#5a88cc"/>
<rect x="631.10" y="95.70" width="1" height="1" fill="#5a88cc"/>
<rect x="632.70" y="95.70" width="1" height="1" fill="#5a88cc"/>
<rect x="615.10" y="97.30" width="1" height="1" fill="#5a88cc"/>
<rect x="616.70" y="97.30" width="1" height="1" fill="#5a88cc"/>
<rect x="618.30" y="97.30" width="1" height="1" fill="#5a88cc"/>
<rect x="621.50" y="97.30" width="1" height="1" fill="#5a88cc"/>
<rect x="623.10" y="97.30" width="1" height="1" fill="#5a88cc"/>
<rect x="624.70" y="97.30" width="1" height="1" fill="#5a88cc"/>
<rect x="626.30" y="97.30" width="1" height="1" fill="#5a88cc"/>
<rect x="627.90" y="97.30" width="1" height="1" fill="#5a88cc"/>
<rect x="629.50" y="97.30" width="1" height="1" fill="#5a88cc"/>
<rect x="631.10" y="97.30" width="1" height="1" fill="#5a88cc"/>
<rect x="632.70" y="97.30" width="1" height="1" fill="#5a88cc"/>
<rect x="614.30" y="98.90" width="1" height="1" fill="#5a88cc"/>
<rect x="617.50" y="98.90" width="1" height="1" fill="#5a88cc"/>
<rect x="619.10" y="98.90" width="1" height="1" fill="#5a88cc"/>
<rect x="620.70" y="98.90" width="1" height="1" fill="#5a88cc"/>
<rect x="622.30" y="98.90" width="1" height="1" fill="#5a88cc"/>
<rect x="623.90" y="98.90" width="1" height="1" fill="#5a88cc"/>
<rect x="625.50" y="98.90" width="1" height="1" fill="#5a88cc"/>
<rect x="627.10" y="98.90" width="1" height="1" fill="#5a88cc"/>
<rect x="628.70" y="98.90" width="1" height="1" fill="#5a88cc"/>
<rect x="630.30" y="98.90" width="1" height="1" fill="#5a88cc"/>
<rect x="615.10" y="100.50" width="1" height="1" fill="#5a88cc"/>
<rect x="616.70" y="100.50" width="1" height="1" fill="#5a88cc"/>
<rect x="618.30" y="100.50" width="1" height="1" fill="#5a88cc"/>
<rect x="619.90" y="100.50" width="1" height="1" fill="#5a88cc"/>
<rect x="621.50" y="100.50" width="1" height="1" fill="#5a88cc"/>
<rect x="623.10" y="100.50" width="1" height="1" fill="#5a88cc"/>
<rect x="624.70" y="100.50" width="1" height="1" fill="#5a88cc"/>
<rect x="626.30" y="100.50" width="1" height="1" fill="#5a88cc"/>
<rect x="627.90" y="100.50" width="1" height="1" fill="#5a88cc"/>
<rect x="629.50" y="100.50" width="1" height="1" fill="#5a88cc"/>
<rect x="631.10" y="100.50" width="1" height="1" fill="#5a88cc"/>
<rect x="617.50" y="102.10" width="1" height="1" fill="#5a88cc"/>
<rect x="619.10" y="102.10" width="1" height="1" fill="#5a88cc"/>
<rect x="620.70" y="102.10" width="1" height="1" fill="#5a88cc"/>
<rect x="622.30" y="102.10" width="1" height="1" fill="#5a88cc"/>
<rect x="623.90" y="102.10" width="1" height="1" fill="#5a88cc"/>
<rect x="625.50" y="102.10" width="1" height="1" fill="#5a88cc"/>
<rect x="627.10" y="102.10" width="1" height="1" fill="#5a88cc"/>
<rect x="621.50" y="103.70" width="1" height="1" fill="#5a88cc"/>
<rect x="624.70" y="103.70" width="1" height="1" fill="#5a88cc"/>
<rect x="622.30" y="105.30" width="1" height="1" fill="#5a88cc"/>
<rect x="622.30" y="106.90" width="1" height="1" fill="#5a88cc"/>
<rect x="655.50" y="47.00" width="1" height="1" fill="#e88a5c"/>
<rect x="655.50" y="48.60" width="1" height="1" fill="#e88a5c"/>
<rect x="653.90" y="50.20" width="1" height="1" fill="#e88a5c"/>
<rect x="655.50" y="50.20" width="1" height="1" fill="#e88a5c"/>
<rect x="657.10" y="50.20" width="1" height="1" fill="#e88a5c"/>
<rect x="654.70" y="51.80" width="1" height="1" fill="#e88a5c"/>
<rect x="656.30" y="51.80" width="1" height="1" fill="#e88a5c"/>
<rect x="657.90" y="51.80" width="1" height="1" fill="#e88a5c"/>
<rect x="654.70" y="53.40" width="1" height="1" fill="#e88a5c"/>
<rect x="656.30" y="53.40" width="1" height="1" fill="#e88a5c"/>
<rect x="657.90" y="53.40" width="1" height="1" fill="#e88a5c"/>
<rect x="654.70" y="55.00" width="1" height="1" fill="#e88a5c"/>
<rect x="656.30" y="55.00" width="1" height="1" fill="#e88a5c"/>
<rect x="657.90" y="55.00" width="1" height="1" fill="#e88a5c"/>
<rect x="653.10" y="56.60" width="1" height="1" fill="#e88a5c"/>
<rect x="654.70" y="56.60" width="1" height="1" fill="#e88a5c"/>
<rect x="656.30" y="56.60" width="1" height="1" fill="#e88a5c"/>
<rect x="657.90" y="56.60" width="1" height="1" fill="#e88a5c"/>
<rect x="659.50" y="56.60" width="1" height="1" fill="#e88a5c"/>
<rect x="652.30" y="58.20" width="1" height="1" fill="#e88a5c"/>
<rect x="653.90" y="58.20" width="1" height="1" fill="#e88a5c"/>
<rect x="655.50" y="58.20" width="1" height="1" fill="#e88a5c"/>
<rect x="657.10" y="58.20" width="1" height="1" fill="#e88a5c"/>
<rect x="650.70" y="59.80" width="1" height="1" fill="#e88a5c"/>
<rect x="652.30" y="59.80" width="1" height="1" fill="#e88a5c"/>
<rect x="653.90" y="59.80" width="1" height="1" fill="#e88a5c"/>
<rect x="655.50" y="59.80" width="1" height="1" fill="#e88a5c"/>
<rect x="657.10" y="59.80" width="1" height="1" fill="#e88a5c"/>
<rect x="658.70" y="59.80" width="1" height="1" fill="#e88a5c"/>
<rect x="660.30" y="59.80" width="1" height="1" fill="#e88a5c"/>
<rect x="648.30" y="61.40" width="1" height="1" fill="#e88a5c"/>
<rect x="649.90" y="61.40" width="1" height="1" fill="#e88a5c"/>
<rect x="651.50" y="61.40" width="1" height="1" fill="#e88a5c"/>
<rect x="653.10" y="61.40" width="1" height="1" fill="#e88a5c"/>
<rect x="654.70" y="61.40" width="1" height="1" fill="#e88a5c"/>
<rect x="656.30" y="61.40" width="1" height="1" fill="#e88a5c"/>
<rect x="657.90" y="61.40" width="1" height="1" fill="#e88a5c"/>
<rect x="659.50" y="61.40" width="1" height="1" fill="#e88a5c"/>
<rect x="661.10" y="61.40" width="1" height="1" fill="#e88a5c"/>
<rect x="662.70" y="61.40" width="1" height="1" fill="#e88a5c"/>
<rect x="664.30" y="61.40" width="1" height="1" fill="#e88a5c"/>
<rect x="647.50" y="63.00" width="1" height="1" fill="#e88a5c"/>
<rect x="649.10" y="63.00" width="1" height="1" fill="#e88a5c"/>
<rect x="650.70" y="63.00" width="1" height="1" fill="#e88a5c"/>
<rect x="653.90" y="63.00" width="1" height="1" fill="#e88a5c"/>
<rect x="655.50" y="63.00" width="1" height="1" fill="#e88a5c"/>
<rect x="657.10" y="63.00" width="1" height="1" fill="#e88a5c"/>
<rect x="658.70" y="63.00" width="1" height="1" fill="#e88a5c"/>
<rect x="660.30" y="63.00" width="1" height="1" fill="#e88a5c"/>
<rect x="661.90" y="63.00" width="1" height="1" fill="#e88a5c"/>
<rect x="647.50" y="64.60" width="1" height="1" fill="#e88a5c"/>
<rect x="649.10" y="64.60" width="1" height="1" fill="#e88a5c"/>
<rect x="650.70" y="64.60" width="1" height="1" fill="#e88a5c"/>
<rect x="652.30" y="64.60" width="1" height="1" fill="#e88a5c"/>
<rect x="653.90" y="64.60" width="1" height="1" fill="#e88a5c"/>
<rect x="655.50" y="64.60" width="1" height="1" fill="#e88a5c"/>
<rect x="657.10" y="64.60" width="1" height="1" fill="#e88a5c"/>
<rect x="658.70" y="64.60" width="1" height="1" fill="#e88a5c"/>
<rect x="661.90" y="64.60" width="1" height="1" fill="#e88a5c"/>
<rect x="663.50" y="64.60" width="1" height="1" fill="#e88a5c"/>
<rect x="646.70" y="66.20" width="1" height="1" fill="#e88a5c"/>
<rect x="649.90" y="66.20" width="1" height="1" fill="#e88a5c"/>
<rect x="651.50" y="66.20" width="1" height="1" fill="#e88a5c"/>
<rect x="653.10" y="66.20" width="1" height="1" fill="#e88a5c"/>
<rect x="654.70" y="66.20" width="1" height="1" fill="#e88a5c"/>
<rect x="657.90" y="66.20" width="1" height="1" fill="#e88a5c"/>
<rect x="659.50" y="66.20" width="1" height="1" fill="#e88a5c"/>
<rect x="662.70" y="66.20" width="1" height="1" fill="#e88a5c"/>
<rect x="664.30" y="66.20" width="1" height="1" fill="#e88a5c"/>
<rect x="665.90" y="66.20" width="1" height="1" fill="#e88a5c"/>
<rect x="646.70" y="67.80" width="1" height="1" fill="#e88a5c"/>
<rect x="648.30" y="67.80" width="1" height="1" fill="#e88a5c"/>
<rect x="649.90" y="67.80" width="1" height="1" fill="#e88a5c"/>
<rect x="651.50" y="67.80" width="1" height="1" fill="#e88a5c"/>
<rect x="653.10" y="67.80" width="1" height="1" fill="#e88a5c"/>
<rect x="654.70" y="67.80" width="1" height="1" fill="#e88a5c"/>
<rect x="656.30" y="67.80" width="1" height="1" fill="#e88a5c"/>
<rect x="657.90" y="67.80" width="1" height="1" fill="#e88a5c"/>
<rect x="659.50" y="67.80" width="1" height="1" fill="#e88a5c"/>
<rect x="662.70" y="67.80" width="1" height="1" fill="#e88a5c"/>
<rect x="664.30" y="67.80" width="1" height="1" fill="#e88a5c"/>
<rect x="665.90" y="67.80" width="1" height="1" fill="#e88a5c"/>
<rect x="646.70" y="69.40" width="1" height="1" fill="#e88a5c"/>
<rect x="648.30" y="69.40" width="1" height="1" fill="#e88a5c"/>
<rect x="649.90" y="69.40" width="1" height="1" fill="#e88a5c"/>
<rect x="651.50" y="69.40" width="1" height="1" fill="#e88a5c"/>
<rect x="653.10" y="69.40" width="1" height="1" fill="#e88a5c"/>
<rect x="654.70" y="69.40" width="1" height="1" fill="#e88a5c"/>
<rect x="656.30" y="69.40" width="1" height="1" fill="#e88a5c"/>
<rect x="657.90" y="69.40" width="1" height="1" fill="#e88a5c"/>
<rect x="661.10" y="69.40" width="1" height="1" fill="#e88a5c"/>
<rect x="662.70" y="69.40" width="1" height="1" fill="#e88a5c"/>
<rect x="664.30" y="69.40" width="1" height="1" fill="#e88a5c"/>
<rect x="665.90" y="69.40" width="1" height="1" fill="#e88a5c"/>
<rect x="648.30" y="71.00" width="1" height="1" fill="#e88a5c"/>
<rect x="649.90" y="71.00" width="1" height="1" fill="#e88a5c"/>
<rect x="651.50" y="71.00" width="1" height="1" fill="#e88a5c"/>
<rect x="654.70" y="71.00" width="1" height="1" fill="#e88a5c"/>
<rect x="656.30" y="71.00" width="1" height="1" fill="#e88a5c"/>
<rect x="657.90" y="71.00" width="1" height="1" fill="#e88a5c"/>
<rect x="659.50" y="71.00" width="1" height="1" fill="#e88a5c"/>
<rect x="661.10" y="71.00" width="1" height="1" fill="#e88a5c"/>
<rect x="662.70" y="71.00" width="1" height="1" fill="#e88a5c"/>
<rect x="664.30" y="71.00" width="1" height="1" fill="#e88a5c"/>
<rect x="644.30" y="72.60" width="1" height="1" fill="#e88a5c"/>
<rect x="645.90" y="72.60" width="1" height="1" fill="#e88a5c"/>
<rect x="647.50" y="72.60" width="1" height="1" fill="#e88a5c"/>
<rect x="650.70" y="72.60" width="1" height="1" fill="#e88a5c"/>
<rect x="652.30" y="72.60" width="1" height="1" fill="#e88a5c"/>
<rect x="653.90" y="72.60" width="1" height="1" fill="#e88a5c"/>
<rect x="655.50" y="72.60" width="1" height="1" fill="#e88a5c"/>
<rect x="657.10" y="72.60" width="1" height="1" fill="#e88a5c"/>
<rect x="658.70" y="72.60" width="1" height="1" fill="#e88a5c"/>
<rect x="661.90" y="72.60" width="1" height="1" fill="#e88a5c"/>
<rect x="663.50" y="72.60" width="1" height="1" fill="#e88a5c"/>
<rect x="646.70" y="74.20" width="1" height="1" fill="#e88a5c"/>
<rect x="648.30" y="74.20" width="1" height="1" fill="#e88a5c"/>
<rect x="649.90" y="74.20" width="1" height="1" fill="#e88a5c"/>
<rect x="653.10" y="74.20" width="1" height="1" fill="#e88a5c"/>
<rect x="654.70" y="74.20" width="1" height="1" fill="#e88a5c"/>
<rect x="656.30" y="74.20" width="1" height="1" fill="#e88a5c"/>
<rect x="657.90" y="74.20" width="1" height="1" fill="#e88a5c"/>
<rect x="659.50" y="74.20" width="1" height="1" fill="#e88a5c"/>
<rect x="661.10" y="74.20" width="1" height="1" fill="#e88a5c"/>
<rect x="662.70" y="74.20" width="1" height="1" fill="#e88a5c"/>
<rect x="664.30" y="74.20" width="1" height="1" fill="#e88a5c"/>
<rect x="665.90" y="74.20" width="1" height="1" fill="#e88a5c"/>
<rect x="648.30" y="75.80" width="1" height="1" fill="#e88a5c"/>
<rect x="649.90" y="75.80" width="1" height="1" fill="#e88a5c"/>
<rect x="651.50" y="75.80" width="1" height="1" fill="#e88a5c"/>
<rect x="653.10" y="75.80" width="1" height="1" fill="#e88a5c"/>
<rect x="654.70" y="75.80" width="1" height="1" fill="#e88a5c"/>
<rect x="656.30" y="75.80" width="1" height="1" fill="#e88a5c"/>
<rect x="657.90" y="75.80" width="1" height="1" fill="#e88a5c"/>
<rect x="659.50" y="75.80" width="1" height="1" fill="#e88a5c"/>
<rect x="662.70" y="75.80" width="1" height="1" fill="#e88a5c"/>
<rect x="648.30" y="77.40" width="1" height="1" fill="#e88a5c"/>
<rect x="649.90" y="77.40" width="1" height="1" fill="#e88a5c"/>
<rect x="651.50" y="77.40" width="1" height="1" fill="#e88a5c"/>
<rect x="653.10" y="77.40" width="1" height="1" fill="#e88a5c"/>
<rect x="654.70" y="77.40" width="1" height="1" fill="#e88a5c"/>
<rect x="657.90" y="77.40" width="1" height="1" fill="#e88a5c"/>
<rect x="661.10" y="77.40" width="1" height="1" fill="#e88a5c"/>
<rect x="662.70" y="77.40" width="1" height="1" fill="#e88a5c"/>
<rect x="664.30" y="77.40" width="1" height="1" fill="#e88a5c"/>
<rect x="650.70" y="79.00" width="1" height="1" fill="#e88a5c"/>
<rect x="652.30" y="79.00" width="1" height="1" fill="#e88a5c"/>
<rect x="653.90" y="79.00" width="1" height="1" fill="#e88a5c"/>
<rect x="655.50" y="79.00" width="1" height="1" fill="#e88a5c"/>
<rect x="657.10" y="79.00" width="1" height="1" fill="#e88a5c"/>
<rect x="658.70" y="79.00" width="1" height="1" fill="#e88a5c"/>
<rect x="660.30" y="79.00" width="1" height="1" fill="#e88a5c"/>
<rect x="661.90" y="79.00" width="1" height="1" fill="#e88a5c"/>
<rect x="649.90" y="80.60" width="1" height="1" fill="#e88a5c"/>
<rect x="651.50" y="80.60" width="1" height="1" fill="#e88a5c"/>
<rect x="653.10" y="80.60" width="1" height="1" fill="#e88a5c"/>
<rect x="654.70" y="80.60" width="1" height="1" fill="#e88a5c"/>
<rect x="656.30" y="80.60" width="1" height="1" fill="#e88a5c"/>
<rect x="657.90" y="80.60" width="1" height="1" fill="#e88a5c"/>
<rect x="659.50" y="80.60" width="1" height="1" fill="#e88a5c"/>
<rect x="662.70" y="80.60" width="1" height="1" fill="#e88a5c"/>
<rect x="652.30" y="82.20" width="1" height="1" fill="#e88a5c"/>
<rect x="657.10" y="82.20" width="1" height="1" fill="#e88a5c"/>
<rect x="653.10" y="83.80" width="1" height="1" fill="#e88a5c"/>
<rect x="654.70" y="83.80" width="1" height="1" fill="#e88a5c"/>
<rect x="656.30" y="83.80" width="1" height="1" fill="#e88a5c"/>
<rect x="657.90" y="83.80" width="1" height="1" fill="#e88a5c"/>
<rect x="659.50" y="83.80" width="1" height="1" fill="#e88a5c"/>
<rect x="654.70" y="85.40" width="1" height="1" fill="#e88a5c"/>
<rect x="657.90" y="85.40" width="1" height="1" fill="#e88a5c"/>
<rect x="655.50" y="87.00" width="1" height="1" fill="#e88a5c"/>
<rect x="655.50" y="88.60" width="1" height="1" fill="#e88a5c"/>
<line x1="600.00" y1="13.00" x2="600.00" y2="131.50" stroke="#999" stroke-width="0.8"/>
<line x1="600.00" y1="131.30" x2="678.20" y2="131.30" stroke="#999" stroke-width="0.8"/>
<line x1="598.60" y1="13.90" x2="600.00" y2="13.90" stroke="#888" stroke-width="0.5"/>
<text x="597.70" y="15.77" font-size="5.2" text-anchor="end" fill="#141414" stroke="#141414" stroke-width="0.18">150</text>
<line x1="598.60" y1="53.03" x2="600.00" y2="53.03" stroke="#888" stroke-width="0.5"/>
<text x="597.70" y="54.91" font-size="5.2" text-anchor="end" fill="#141414" stroke="#141414" stroke-width="0.18">100</text>
<line x1="598.60" y1="92.17" x2="600.00" y2="92.17" stroke="#888" stroke-width="0.5"/>
<text x="597.70" y="94.04" font-size="5.2" text-anchor="end" fill="#141414" stroke="#141414" stroke-width="0.18">50</text>
<line x1="598.60" y1="131.30" x2="600.00" y2="131.30" stroke="#888" stroke-width="0.5"/>
<text x="597.70" y="133.17" font-size="5.2" text-anchor="end" fill="#141414" stroke="#141414" stroke-width="0.18">0</text>
<text x="622.00" y="145.74" font-size="6.5" text-anchor="middle" fill="#141414" font-weight="bold" stroke="#141414" stroke-width="0.18">CHM13</text>
<text x="657.40" y="145.74" font-size="6.5" text-anchor="middle" fill="#141414" font-weight="bold" stroke="#141414" stroke-width="0.18">GRCh38</text>
<text x="581.80" y="72.89" font-size="5.8" text-anchor="middle" fill="#141414" font-weight="bold" transform="rotate(-90 581.80 70.80)" stroke="#141414" stroke-width="0.18">Unaligned length (Mb)</text>
<text x="0.38" y="161.30" font-size="13.4" font-weight="bold" fill="#1a1a1a" class="pl">e.</text>
<rect x="27.50" y="187.36" width="1.90" height="23.94" fill="#4a95c2"/>
<rect x="27.50" y="220.40" width="1.90" height="59.20" fill="#4a95c2"/>
<rect x="27.50" y="279.40" width="1.90" height="0.20" fill="#3d6b3f"/>
<rect x="27.50" y="278.81" width="1.90" height="0.59" fill="#6fcfb5"/>
<rect x="27.50" y="277.43" width="1.90" height="1.38" fill="#b3de76"/>
<rect x="30.00" y="189.62" width="1.90" height="21.68" fill="#4a95c2"/>
<rect x="30.00" y="220.40" width="1.90" height="59.20" fill="#4a95c2"/>
<rect x="30.00" y="279.21" width="1.90" height="0.39" fill="#3d6b3f"/>
<rect x="30.00" y="278.81" width="1.90" height="0.39" fill="#6fcfb5"/>
<rect x="30.00" y="277.43" width="1.90" height="1.38" fill="#b3de76"/>
<text x="28.50" y="280.6" font-size="2.75" fill="#666" stroke="#666" stroke-width="0.06" text-anchor="end" transform="rotate(-90 28.50 280.6)" dy="0.95">HG00100 hap1</text>
<text x="30.90" y="280.6" font-size="2.75" fill="#666" stroke="#666" stroke-width="0.06" text-anchor="end" transform="rotate(-90 30.90 280.6)" dy="0.95">HG00111 hap2</text>
<rect x="34.80" y="188.15" width="1.90" height="23.15" fill="#4a95c2"/>
<rect x="34.80" y="220.40" width="1.90" height="59.20" fill="#4a95c2"/>
<rect x="34.80" y="279.01" width="1.90" height="0.59" fill="#3d6b3f"/>
<rect x="34.80" y="271.90" width="1.90" height="7.10" fill="#6fcfb5"/>
<rect x="34.80" y="270.72" width="1.90" height="1.18" fill="#b3de76"/>
<rect x="34.80" y="269.93" width="1.90" height="0.79" fill="#f29a7c"/>
<rect x="37.30" y="188.45" width="1.90" height="22.85" fill="#4a95c2"/>
<rect x="37.30" y="220.40" width="1.90" height="59.20" fill="#4a95c2"/>
<rect x="37.30" y="279.21" width="1.90" height="0.39" fill="#3d6b3f"/>
<rect x="37.30" y="271.31" width="1.90" height="7.89" fill="#6fcfb5"/>
<rect x="37.30" y="270.13" width="1.90" height="1.18" fill="#b3de76"/>
<rect x="37.30" y="269.14" width="1.90" height="0.99" fill="#f29a7c"/>
<text x="35.80" y="280.6" font-size="2.75" fill="#666" stroke="#666" stroke-width="0.06" text-anchor="end" transform="rotate(-90 35.80 280.6)" dy="0.95">HG00137 hap1</text>
<text x="38.20" y="280.6" font-size="2.75" fill="#666" stroke="#666" stroke-width="0.06" text-anchor="end" transform="rotate(-90 38.20 280.6)" dy="0.95">HG00148 hap2</text>
<rect x="42.10" y="189.62" width="1.90" height="21.68" fill="#4a95c2"/>
<rect x="42.10" y="220.40" width="1.90" height="59.20" fill="#4a95c2"/>
<rect x="42.10" y="279.21" width="1.90" height="0.39" fill="#3d6b3f"/>
<rect x="42.10" y="274.07" width="1.90" height="5.13" fill="#6fcfb5"/>
<rect x="42.10" y="272.10" width="1.90" height="1.97" fill="#b3de76"/>
<rect x="42.10" y="270.92" width="1.90" height="1.18" fill="#f29a7c"/>
<rect x="44.60" y="187.76" width="1.90" height="23.54" fill="#4a95c2"/>
<rect x="44.60" y="220.40" width="1.90" height="59.20" fill="#4a95c2"/>
<rect x="44.60" y="277.23" width="1.90" height="2.37" fill="#3d6b3f"/>
<rect x="44.60" y="270.13" width="1.90" height="7.10" fill="#6fcfb5"/>
<rect x="44.60" y="265.79" width="1.90" height="4.34" fill="#b3de76"/>
<rect x="44.60" y="264.21" width="1.90" height="1.58" fill="#f29a7c"/>
<text x="43.10" y="280.6" font-size="2.75" fill="#666" stroke="#666" stroke-width="0.06" text-anchor="end" transform="rotate(-90 43.10 280.6)" dy="0.95">HG00174 hap1</text>
<text x="45.50" y="280.6" font-size="2.75" fill="#666" stroke="#666" stroke-width="0.06" text-anchor="end" transform="rotate(-90 45.50 280.6)" dy="0.95">HG00185 hap2</text>
<rect x="49.40" y="188.45" width="1.90" height="22.85" fill="#4a95c2"/>
<rect x="49.40" y="220.40" width="1.90" height="59.20" fill="#4a95c2"/>
<rect x="49.40" y="279.21" width="1.90" height="0.39" fill="#3d6b3f"/>
<rect x="49.40" y="278.02" width="1.90" height="1.18" fill="#6fcfb5"/>
<rect x="49.40" y="276.44" width="1.90" height="1.58" fill="#b3de76"/>
<rect x="51.90" y="189.33" width="1.90" height="21.97" fill="#4a95c2"/>
<rect x="51.90" y="220.40" width="1.90" height="59.20" fill="#4a95c2"/>
<rect x="51.90" y="279.21" width="1.90" height="0.39" fill="#3d6b3f"/>
<rect x="51.90" y="278.02" width="1.90" height="1.18" fill="#6fcfb5"/>
<rect x="51.90" y="276.44" width="1.90" height="1.58" fill="#b3de76"/>
<rect x="51.90" y="276.05" width="1.90" height="0.39" fill="#f29a7c"/>
<text x="50.40" y="280.6" font-size="2.75" fill="#666" stroke="#666" stroke-width="0.06" text-anchor="end" transform="rotate(-90 50.40 280.6)" dy="0.95">HG00211 hap1</text>
<text x="52.80" y="280.6" font-size="2.75" fill="#666" stroke="#666" stroke-width="0.06" text-anchor="end" transform="rotate(-90 52.80 280.6)" dy="0.95">HG00222 hap2</text>
<rect x="56.70" y="187.76" width="1.90" height="23.54" fill="#4a95c2"/>
<rect x="56.70" y="220.40" width="1.90" height="59.20" fill="#4a95c2"/>
<rect x="56.70" y="278.42" width="1.90" height="1.18" fill="#3d6b3f"/>
<rect x="56.70" y="277.63" width="1.90" height="0.79" fill="#6fcfb5"/>
<rect x="56.70" y="276.44" width="1.90" height="1.18" fill="#b3de76"/>
<rect x="56.70" y="273.68" width="1.90" height="2.76" fill="#f29a7c"/>
<rect x="59.20" y="187.76" width="1.90" height="23.54" fill="#4a95c2"/>
<rect x="59.20" y="220.40" width="1.90" height="59.20" fill="#4a95c2"/>
<rect x="59.20" y="278.81" width="1.90" height="0.79" fill="#3d6b3f"/>
<rect x="59.20" y="277.63" width="1.90" height="1.18" fill="#6fcfb5"/>
<rect x="59.20" y="276.44" width="1.90" height="1.18" fill="#b3de76"/>
<rect x="59.20" y="273.68" width="1.90" height="2.76" fill="#f29a7c"/>
<text x="57.70" y="280.6" font-size="2.75" fill="#666" stroke="#666" stroke-width="0.06" text-anchor="end" transform="rotate(-90 57.70 280.6)" dy="0.95">HG00248 hap1</text>
<text x="60.10" y="280.6" font-size="2.75" fill="#666" stroke="#666" stroke-width="0.06" text-anchor="end" transform="rotate(-90 60.10 280.6)" dy="0.95">HG00259 hap2</text>
<rect x="64.00" y="187.76" width="1.90" height="23.54" fill="#4a95c2"/>
<rect x="64.00" y="220.40" width="1.90" height="59.20" fill="#4a95c2"/>
<rect x="64.00" y="279.21" width="1.90" height="0.39" fill="#3d6b3f"/>
<rect x="64.00" y="276.05" width="1.90" height="3.16" fill="#6fcfb5"/>
<rect x="64.00" y="274.07" width="1.90" height="1.97" fill="#b3de76"/>
<rect x="66.50" y="189.33" width="1.90" height="21.97" fill="#4a95c2"/>
<rect x="66.50" y="220.40" width="1.90" height="59.20" fill="#4a95c2"/>
<rect x="66.50" y="279.21" width="1.90" height="0.39" fill="#3d6b3f"/>
<rect x="66.50" y="276.44" width="1.90" height="2.76" fill="#6fcfb5"/>
<rect x="66.50" y="274.86" width="1.90" height="1.58" fill="#b3de76"/>
<rect x="66.50" y="274.47" width="1.90" height="0.39" fill="#f29a7c"/>
<text x="65.00" y="280.6" font-size="2.75" fill="#666" stroke="#666" stroke-width="0.06" text-anchor="end" transform="rotate(-90 65.00 280.6)" dy="0.95">HG00285 hap1</text>
<text x="67.40" y="280.6" font-size="2.75" fill="#666" stroke="#666" stroke-width="0.06" text-anchor="end" transform="rotate(-90 67.40 280.6)" dy="0.95">HG00296 hap2</text>
<rect x="71.30" y="187.36" width="1.90" height="23.94" fill="#4a95c2"/>
<rect x="71.30" y="220.40" width="1.90" height="59.20" fill="#4a95c2"/>
<rect x="71.30" y="279.21" width="1.90" height="0.39" fill="#3d6b3f"/>
<rect x="71.30" y="275.65" width="1.90" height="3.55" fill="#6fcfb5"/>
<rect x="71.30" y="274.07" width="1.90" height="1.58" fill="#b3de76"/>
<rect x="71.30" y="273.48" width="1.90" height="0.59" fill="#f29a7c"/>
<rect x="73.80" y="189.62" width="1.90" height="21.68" fill="#4a95c2"/>
<rect x="73.80" y="220.40" width="1.90" height="59.20" fill="#4a95c2"/>
<rect x="73.80" y="279.21" width="1.90" height="0.39" fill="#3d6b3f"/>
<rect x="73.80" y="276.44" width="1.90" height="2.76" fill="#6fcfb5"/>
<rect x="73.80" y="275.26" width="1.90" height="1.18" fill="#b3de76"/>
<rect x="73.80" y="274.47" width="1.90" height="0.79" fill="#f29a7c"/>
<text x="72.30" y="280.6" font-size="2.75" fill="#666" stroke="#666" stroke-width="0.06" text-anchor="end" transform="rotate(-90 72.30 280.6)" dy="0.95">HG00322 hap1</text>
<text x="74.70" y="280.6" font-size="2.75" fill="#666" stroke="#666" stroke-width="0.06" text-anchor="end" transform="rotate(-90 74.70 280.6)" dy="0.95">HG00333 hap2</text>
<rect x="78.60" y="183.04" width="1.90" height="28.26" fill="#4a95c2"/>
<rect x="78.60" y="220.40" width="1.90" height="59.20" fill="#4a95c2"/>
<rect x="78.60" y="279.01" width="1.90" height="0.59" fill="#3d6b3f"/>
<rect x="78.60" y="270.72" width="1.90" height="8.29" fill="#6fcfb5"/>
<rect x="78.60" y="267.56" width="1.90" height="3.16" fill="#b3de76"/>
<rect x="78.60" y="266.58" width="1.90" height="0.99" fill="#f29a7c"/>
<rect x="81.10" y="189.33" width="1.90" height="21.97" fill="#4a95c2"/>
<rect x="81.10" y="220.40" width="1.90" height="59.20" fill="#4a95c2"/>
<rect x="81.10" y="278.42" width="1.90" height="1.18" fill="#3d6b3f"/>
<rect x="81.10" y="270.52" width="1.90" height="7.89" fill="#6fcfb5"/>
<rect x="81.10" y="267.37" width="1.90" height="3.16" fill="#b3de76"/>
<rect x="81.10" y="266.58" width="1.90" height="0.79" fill="#f29a7c"/>
<text x="79.60" y="280.6" font-size="2.75" fill="#666" stroke="#666" stroke-width="0.06" text-anchor="end" transform="rotate(-90 79.60 280.6)" dy="0.95">HG00359 hap1</text>
<text x="82.00" y="280.6" font-size="2.75" fill="#666" stroke="#666" stroke-width="0.06" text-anchor="end" transform="rotate(-90 82.00 280.6)" dy="0.95">HG00370 hap2</text>
<rect x="85.90" y="187.76" width="1.90" height="23.54" fill="#4a95c2"/>
<rect x="85.90" y="220.40" width="1.90" height="59.20" fill="#4a95c2"/>
<rect x="85.90" y="278.42" width="1.90" height="1.18" fill="#3d6b3f"/>
<rect x="85.90" y="275.26" width="1.90" height="3.16" fill="#6fcfb5"/>
<rect x="85.90" y="273.68" width="1.90" height="1.58" fill="#b3de76"/>
<rect x="85.90" y="273.09" width="1.90" height="0.59" fill="#f29a7c"/>
<rect x="88.40" y="191.00" width="1.90" height="20.30" fill="#4a95c2"/>
<rect x="88.40" y="220.40" width="1.90" height="59.20" fill="#4a95c2"/>
<rect x="88.40" y="279.21" width="1.90" height="0.39" fill="#3d6b3f"/>
<rect x="88.40" y="276.44" width="1.90" height="2.76" fill="#6fcfb5"/>
<rect x="88.40" y="273.29" width="1.90" height="3.16" fill="#b3de76"/>
<rect x="88.40" y="272.69" width="1.90" height="0.59" fill="#f29a7c"/>
<text x="86.90" y="280.6" font-size="2.75" fill="#666" stroke="#666" stroke-width="0.06" text-anchor="end" transform="rotate(-90 86.90 280.6)" dy="0.95">HG00396 hap1</text>
<text x="89.30" y="280.6" font-size="2.75" fill="#666" stroke="#666" stroke-width="0.06" text-anchor="end" transform="rotate(-90 89.30 280.6)" dy="0.95">HG00407 hap2</text>
<rect x="93.20" y="188.45" width="1.90" height="22.85" fill="#4a95c2"/>
<rect x="93.20" y="220.40" width="1.90" height="59.20" fill="#4a95c2"/>
<rect x="93.20" y="279.21" width="1.90" height="0.39" fill="#3d6b3f"/>
<rect x="93.20" y="276.84" width="1.90" height="2.37" fill="#6fcfb5"/>
<rect x="93.20" y="275.65" width="1.90" height="1.18" fill="#b3de76"/>
<rect x="93.20" y="275.26" width="1.90" height="0.39" fill="#f29a7c"/>
<rect x="95.70" y="189.13" width="1.90" height="22.17" fill="#4a95c2"/>
<rect x="95.70" y="220.40" width="1.90" height="59.20" fill="#4a95c2"/>
<rect x="95.70" y="279.21" width="1.90" height="0.39" fill="#3d6b3f"/>
<rect x="95.70" y="277.23" width="1.90" height="1.97" fill="#6fcfb5"/>
<rect x="95.70" y="276.44" width="1.90" height="0.79" fill="#b3de76"/>
<rect x="95.70" y="276.05" width="1.90" height="0.39" fill="#f29a7c"/>
<text x="94.20" y="280.6" font-size="2.75" fill="#666" stroke="#666" stroke-width="0.06" text-anchor="end" transform="rotate(-90 94.20 280.6)" dy="0.95">HG00433 hap1</text>
<text x="96.60" y="280.6" font-size="2.75" fill="#666" stroke="#666" stroke-width="0.06" text-anchor="end" transform="rotate(-90 96.60 280.6)" dy="0.95">HG00444 hap2</text>
<rect x="100.50" y="188.74" width="1.90" height="22.56" fill="#4a95c2"/>
<rect x="100.50" y="220.40" width="1.90" height="59.20" fill="#4a95c2"/>
<rect x="100.50" y="278.42" width="1.90" height="1.18" fill="#3d6b3f"/>
<rect x="100.50" y="258.68" width="1.90" height="19.73" fill="#6fcfb5"/>
<rect x="100.50" y="254.74" width="1.90" height="3.95" fill="#b3de76"/>
<rect x="100.50" y="253.55" width="1.90" height="1.18" fill="#f29a7c"/>
<rect x="103.00" y="189.62" width="1.90" height="21.68" fill="#4a95c2"/>
<rect x="103.00" y="220.40" width="1.90" height="59.20" fill="#4a95c2"/>
<rect x="103.00" y="276.84" width="1.90" height="2.76" fill="#3d6b3f"/>
<rect x="103.00" y="253.16" width="1.90" height="23.68" fill="#6fcfb5"/>
<rect x="103.00" y="251.97" width="1.90" height="1.18" fill="#b3de76"/>
<rect x="103.00" y="251.18" width="1.90" height="0.79" fill="#f29a7c"/>
<text x="101.50" y="280.6" font-size="2.75" fill="#666" stroke="#666" stroke-width="0.06" text-anchor="end" transform="rotate(-90 101.50 280.6)" dy="0.95">HG00470 hap1</text>
<text x="103.90" y="280.6" font-size="2.75" fill="#666" stroke="#666" stroke-width="0.06" text-anchor="end" transform="rotate(-90 103.90 280.6)" dy="0.95">HG00481 hap2</text>
<rect x="107.80" y="189.62" width="1.90" height="21.68" fill="#4a95c2"/>
<rect x="107.80" y="220.40" width="1.90" height="59.20" fill="#4a95c2"/>
<rect x="107.80" y="279.21" width="1.90" height="0.39" fill="#3d6b3f"/>
<rect x="107.80" y="277.63" width="1.90" height="1.58" fill="#6fcfb5"/>
<rect x="107.80" y="276.84" width="1.90" height="0.79" fill="#b3de76"/>
<rect x="107.80" y="276.44" width="1.90" height="0.39" fill="#f29a7c"/>
<rect x="110.30" y="189.33" width="1.90" height="21.97" fill="#4a95c2"/>
<rect x="110.30" y="220.40" width="1.90" height="59.20" fill="#4a95c2"/>
<rect x="110.30" y="278.81" width="1.90" height="0.79" fill="#3d6b3f"/>
<rect x="110.30" y="276.84" width="1.90" height="1.97" fill="#6fcfb5"/>
<rect x="110.30" y="275.65" width="1.90" height="1.18" fill="#b3de76"/>
<rect x="110.30" y="275.26" width="1.90" height="0.39" fill="#f29a7c"/>
<text x="108.80" y="280.6" font-size="2.75" fill="#666" stroke="#666" stroke-width="0.06" text-anchor="end" transform="rotate(-90 108.80 280.6)" dy="0.95">HG00507 hap1</text>
<text x="111.20" y="280.6" font-size="2.75" fill="#666" stroke="#666" stroke-width="0.06" text-anchor="end" transform="rotate(-90 111.20 280.6)" dy="0.95">HG00518 hap2</text>
<rect x="115.10" y="186.28" width="1.90" height="25.02" fill="#4a95c2"/>
<rect x="115.10" y="220.40" width="1.90" height="59.20" fill="#4a95c2"/>
<rect x="115.10" y="279.21" width="1.90" height="0.39" fill="#3d6b3f"/>
<rect x="115.10" y="277.23" width="1.90" height="1.97" fill="#6fcfb5"/>
<rect x="115.10" y="276.05" width="1.90" height="1.18" fill="#b3de76"/>
<rect x="115.10" y="275.65" width="1.90" height="0.39" fill="#f29a7c"/>
<rect x="117.60" y="189.33" width="1.90" height="21.97" fill="#4a95c2"/>
<rect x="117.60" y="220.40" width="1.90" height="59.20" fill="#4a95c2"/>
<rect x="117.60" y="279.21" width="1.90" height="0.39" fill="#3d6b3f"/>
<rect x="117.60" y="277.23" width="1.90" height="1.97" fill="#6fcfb5"/>
<rect x="117.60" y="276.05" width="1.90" height="1.18" fill="#b3de76"/>
<rect x="117.60" y="275.65" width="1.90" height="0.39" fill="#f29a7c"/>
<text x="116.10" y="280.6" font-size="2.75" fill="#666" stroke="#666" stroke-width="0.06" text-anchor="end" transform="rotate(-90 116.10 280.6)" dy="0.95">HG00544 hap1</text>
<text x="118.50" y="280.6" font-size="2.75" fill="#666" stroke="#666" stroke-width="0.06" text-anchor="end" transform="rotate(-90 118.50 280.6)" dy="0.95">HG00555 hap2</text>
<rect x="122.40" y="188.15" width="1.90" height="23.15" fill="#4a95c2"/>
<rect x="122.40" y="220.40" width="1.90" height="59.20" fill="#4a95c2"/>
<rect x="122.40" y="279.01" width="1.90" height="0.59" fill="#3d6b3f"/>
<rect x="122.40" y="267.96" width="1.90" height="11.05" fill="#6fcfb5"/>
<rect x="122.40" y="265.19" width="1.90" height="2.76" fill="#b3de76"/>
<rect x="122.40" y="263.81" width="1.90" height="1.38" fill="#f29a7c"/>
<rect x="124.90" y="189.92" width="1.90" height="21.38" fill="#4a95c2"/>
<rect x="124.90" y="220.40" width="1.90" height="59.20" fill="#4a95c2"/>
<rect x="124.90" y="277.43" width="1.90" height="2.17" fill="#3d6b3f"/>
<rect x="124.90" y="264.01" width="1.90" height="13.42" fill="#6fcfb5"/>
<rect x="124.90" y="262.43" width="1.90" height="1.58" fill="#b3de76"/>
<rect x="124.90" y="261.05" width="1.90" height="1.38" fill="#f29a7c"/>
<text x="123.40" y="280.6" font-size="2.75" fill="#666" stroke="#666" stroke-width="0.06" text-anchor="end" transform="rotate(-90 123.40 280.6)" dy="0.95">HG00581 hap1</text>
<text x="125.80" y="280.6" font-size="2.75" fill="#666" stroke="#666" stroke-width="0.06" text-anchor="end" transform="rotate(-90 125.80 280.6)" dy="0.95">HG00592 hap2</text>
<rect x="129.70" y="186.28" width="1.90" height="25.02" fill="#4a95c2"/>
<rect x="129.70" y="220.40" width="1.90" height="59.20" fill="#4a95c2"/>
<rect x="129.70" y="279.21" width="1.90" height="0.39" fill="#3d6b3f"/>
<rect x="129.70" y="269.73" width="1.90" height="9.47" fill="#6fcfb5"/>
<rect x="129.70" y="268.55" width="1.90" height="1.18" fill="#b3de76"/>
<rect x="129.70" y="267.37" width="1.90" height="1.18" fill="#f29a7c"/>
<rect x="132.20" y="189.92" width="1.90" height="21.38" fill="#4a95c2"/>
<rect x="132.20" y="220.40" width="1.90" height="59.20" fill="#4a95c2"/>
<rect x="132.20" y="279.21" width="1.90" height="0.39" fill="#3d6b3f"/>
<rect x="132.20" y="270.92" width="1.90" height="8.29" fill="#6fcfb5"/>
<rect x="132.20" y="269.73" width="1.90" height="1.18" fill="#b3de76"/>
<rect x="132.20" y="268.55" width="1.90" height="1.18" fill="#f29a7c"/>
<text x="130.70" y="280.6" font-size="2.75" fill="#666" stroke="#666" stroke-width="0.06" text-anchor="end" transform="rotate(-90 130.70 280.6)" dy="0.95">HG00618 hap1</text>
<text x="133.10" y="280.6" font-size="2.75" fill="#666" stroke="#666" stroke-width="0.06" text-anchor="end" transform="rotate(-90 133.10 280.6)" dy="0.95">HG00629 hap2</text>
<rect x="137.00" y="200.53" width="1.90" height="10.77" fill="#4a95c2"/>
<rect x="137.00" y="220.40" width="1.90" height="59.20" fill="#4a95c2"/>
<rect x="137.00" y="278.42" width="1.90" height="1.18" fill="#3d6b3f"/>
<rect x="137.00" y="263.42" width="1.90" height="15.00" fill="#6fcfb5"/>
<rect x="137.00" y="262.23" width="1.90" height="1.18" fill="#b3de76"/>
<rect x="137.00" y="261.05" width="1.90" height="1.18" fill="#f29a7c"/>
<rect x="139.50" y="186.97" width="1.90" height="24.33" fill="#4a95c2"/>
<rect x="139.50" y="220.40" width="1.90" height="59.20" fill="#4a95c2"/>
<rect x="139.50" y="279.01" width="1.90" height="0.59" fill="#3d6b3f"/>
<rect x="139.50" y="266.38" width="1.90" height="12.63" fill="#6fcfb5"/>
<rect x="139.50" y="225.33" width="1.90" height="41.05" fill="#b3de76"/>
<rect x="139.50" y="224.15" width="1.90" height="1.18" fill="#f29a7c"/>
<text x="138.00" y="280.6" font-size="2.75" fill="#666" stroke="#666" stroke-width="0.06" text-anchor="end" transform="rotate(-90 138.00 280.6)" dy="0.95">HG00655 hap1</text>
<text x="140.40" y="280.6" font-size="2.75" fill="#666" stroke="#666" stroke-width="0.06" text-anchor="end" transform="rotate(-90 140.40 280.6)" dy="0.95">HG00666 hap2</text>
<rect x="144.30" y="196.60" width="1.90" height="14.70" fill="#4a95c2"/>
<rect x="144.30" y="220.40" width="1.90" height="59.20" fill="#4a95c2"/>
<rect x="144.30" y="275.26" width="1.90" height="4.34" fill="#3d6b3f"/>
<rect x="144.30" y="266.97" width="1.90" height="8.29" fill="#6fcfb5"/>
<rect x="144.30" y="264.60" width="1.90" height="2.37" fill="#b3de76"/>
<rect x="144.30" y="263.02" width="1.90" height="1.58" fill="#f29a7c"/>
<rect x="146.80" y="187.46" width="1.90" height="23.84" fill="#4a95c2"/>
<rect x="146.80" y="220.40" width="1.90" height="59.20" fill="#4a95c2"/>
<rect x="146.80" y="275.65" width="1.90" height="3.95" fill="#3d6b3f"/>
<rect x="146.80" y="263.42" width="1.90" height="12.23" fill="#6fcfb5"/>
<rect x="146.80" y="224.74" width="1.90" height="38.68" fill="#b3de76"/>
<rect x="146.80" y="223.36" width="1.90" height="1.38" fill="#f29a7c"/>
<text x="145.30" y="280.6" font-size="2.75" fill="#666" stroke="#666" stroke-width="0.06" text-anchor="end" transform="rotate(-90 145.30 280.6)" dy="0.95">HG00692 hap1</text>
<text x="147.70" y="280.6" font-size="2.75" fill="#666" stroke="#666" stroke-width="0.06" text-anchor="end" transform="rotate(-90 147.70 280.6)" dy="0.95">HG00703 hap2</text>
<rect x="151.60" y="186.68" width="1.90" height="24.62" fill="#4a95c2"/>
<rect x="151.60" y="220.40" width="1.90" height="59.20" fill="#4a95c2"/>
<rect x="151.60" y="276.25" width="1.90" height="3.35" fill="#3d6b3f"/>
<rect x="151.60" y="267.56" width="1.90" height="8.68" fill="#6fcfb5"/>
<rect x="151.60" y="258.09" width="1.90" height="9.47" fill="#b3de76"/>
<rect x="151.60" y="256.71" width="1.90" height="1.38" fill="#f29a7c"/>
<rect x="154.10" y="191.49" width="1.90" height="19.81" fill="#4a95c2"/>
<rect x="154.10" y="220.40" width="1.90" height="59.20" fill="#4a95c2"/>
<rect x="154.10" y="279.21" width="1.90" height="0.39" fill="#3d6b3f"/>
<rect x="154.10" y="272.10" width="1.90" height="7.10" fill="#6fcfb5"/>
<rect x="154.10" y="269.73" width="1.90" height="2.37" fill="#b3de76"/>
<rect x="154.10" y="268.55" width="1.90" height="1.18" fill="#f29a7c"/>
<text x="152.60" y="280.6" font-size="2.75" fill="#666" stroke="#666" stroke-width="0.06" text-anchor="end" transform="rotate(-90 152.60 280.6)" dy="0.95">HG00729 hap1</text>
<text x="155.00" y="280.6" font-size="2.75" fill="#666" stroke="#666" stroke-width="0.06" text-anchor="end" transform="rotate(-90 155.00 280.6)" dy="0.95">HG00740 hap2</text>
<rect x="158.90" y="187.76" width="1.90" height="23.54" fill="#4a95c2"/>
<rect x="158.90" y="220.40" width="1.90" height="59.20" fill="#4a95c2"/>
<rect x="158.90" y="279.01" width="1.90" height="0.59" fill="#3d6b3f"/>
<rect x="158.90" y="275.06" width="1.90" height="3.95" fill="#6fcfb5"/>
<rect x="158.90" y="273.88" width="1.90" height="1.18" fill="#b3de76"/>
<rect x="158.90" y="272.30" width="1.90" height="1.58" fill="#f29a7c"/>
<rect x="161.40" y="189.33" width="1.90" height="21.97" fill="#4a95c2"/>
<rect x="161.40" y="220.40" width="1.90" height="59.20" fill="#4a95c2"/>
<rect x="161.40" y="279.21" width="1.90" height="0.39" fill="#3d6b3f"/>
<rect x="161.40" y="275.26" width="1.90" height="3.95" fill="#6fcfb5"/>
<rect x="161.40" y="273.68" width="1.90" height="1.58" fill="#b3de76"/>
<rect x="161.40" y="272.50" width="1.90" height="1.18" fill="#f29a7c"/>
<text x="159.90" y="280.6" font-size="2.75" fill="#666" stroke="#666" stroke-width="0.06" text-anchor="end" transform="rotate(-90 159.90 280.6)" dy="0.95">HG00766 hap1</text>
<text x="162.30" y="280.6" font-size="2.75" fill="#666" stroke="#666" stroke-width="0.06" text-anchor="end" transform="rotate(-90 162.30 280.6)" dy="0.95">HG00777 hap2</text>
<rect x="166.20" y="197.29" width="1.90" height="14.01" fill="#4a95c2"/>
<rect x="166.20" y="220.40" width="1.90" height="59.20" fill="#4a95c2"/>
<rect x="166.20" y="278.42" width="1.90" height="1.18" fill="#3d6b3f"/>
<rect x="166.20" y="271.31" width="1.90" height="7.10" fill="#6fcfb5"/>
<rect x="166.20" y="267.37" width="1.90" height="3.95" fill="#b3de76"/>
<rect x="166.20" y="266.18" width="1.90" height="1.18" fill="#f29a7c"/>
<rect x="168.70" y="189.13" width="1.90" height="22.17" fill="#4a95c2"/>
<rect x="168.70" y="220.40" width="1.90" height="59.20" fill="#4a95c2"/>
<rect x="168.70" y="275.26" width="1.90" height="4.34" fill="#3d6b3f"/>
<rect x="168.70" y="271.31" width="1.90" height="3.95" fill="#6fcfb5"/>
<rect x="168.70" y="231.45" width="1.90" height="39.86" fill="#b3de76"/>
<rect x="168.70" y="230.86" width="1.90" height="0.59" fill="#f29a7c"/>
<text x="167.20" y="280.6" font-size="2.75" fill="#666" stroke="#666" stroke-width="0.06" text-anchor="end" transform="rotate(-90 167.20 280.6)" dy="0.95">HG00803 hap1</text>
<text x="169.60" y="280.6" font-size="2.75" fill="#666" stroke="#666" stroke-width="0.06" text-anchor="end" transform="rotate(-90 169.60 280.6)" dy="0.95">HG00814 hap2</text>
<rect x="173.50" y="188.84" width="1.90" height="22.46" fill="#4a95c2"/>
<rect x="173.50" y="220.40" width="1.90" height="59.20" fill="#4a95c2"/>
<rect x="173.50" y="279.21" width="1.90" height="0.39" fill="#3d6b3f"/>
<rect x="173.50" y="277.63" width="1.90" height="1.58" fill="#6fcfb5"/>
<rect x="173.50" y="276.84" width="1.90" height="0.79" fill="#b3de76"/>
<rect x="173.50" y="276.44" width="1.90" height="0.39" fill="#f29a7c"/>
<rect x="176.00" y="190.71" width="1.90" height="20.59" fill="#4a95c2"/>
<rect x="176.00" y="220.40" width="1.90" height="59.20" fill="#4a95c2"/>
<rect x="176.00" y="279.21" width="1.90" height="0.39" fill="#3d6b3f"/>
<rect x="176.00" y="277.63" width="1.90" height="1.58" fill="#6fcfb5"/>
<rect x="176.00" y="276.84" width="1.90" height="0.79" fill="#b3de76"/>
<rect x="176.00" y="276.44" width="1.90" height="0.39" fill="#f29a7c"/>
<text x="174.50" y="280.6" font-size="2.75" fill="#666" stroke="#666" stroke-width="0.06" text-anchor="end" transform="rotate(-90 174.50 280.6)" dy="0.95">HG00840 hap1</text>
<text x="176.90" y="280.6" font-size="2.75" fill="#666" stroke="#666" stroke-width="0.06" text-anchor="end" transform="rotate(-90 176.90 280.6)" dy="0.95">HG00851 hap2</text>
<rect x="180.80" y="185.99" width="1.90" height="25.31" fill="#4a95c2"/>
<rect x="180.80" y="220.40" width="1.90" height="59.20" fill="#4a95c2"/>
<rect x="180.80" y="278.02" width="1.90" height="1.58" fill="#3d6b3f"/>
<rect x="180.80" y="263.62" width="1.90" height="14.41" fill="#6fcfb5"/>
<rect x="180.80" y="260.85" width="1.90" height="2.76" fill="#b3de76"/>
<rect x="180.80" y="257.30" width="1.90" height="3.55" fill="#f29a7c"/>
<rect x="183.30" y="189.62" width="1.90" height="21.68" fill="#4a95c2"/>
<rect x="183.30" y="220.40" width="1.90" height="59.20" fill="#4a95c2"/>
<rect x="183.30" y="276.25" width="1.90" height="3.35" fill="#3d6b3f"/>
<rect x="183.30" y="262.83" width="1.90" height="13.42" fill="#6fcfb5"/>
<rect x="183.30" y="260.06" width="1.90" height="2.76" fill="#b3de76"/>
<rect x="183.30" y="256.12" width="1.90" height="3.95" fill="#f29a7c"/>
<text x="181.80" y="280.6" font-size="2.75" fill="#666" stroke="#666" stroke-width="0.06" text-anchor="end" transform="rotate(-90 181.80 280.6)" dy="0.95">HG00877 hap1</text>
<text x="184.20" y="280.6" font-size="2.75" fill="#666" stroke="#666" stroke-width="0.06" text-anchor="end" transform="rotate(-90 184.20 280.6)" dy="0.95">HG00888 hap2</text>
<rect x="188.10" y="187.76" width="1.90" height="23.54" fill="#4a95c2"/>
<rect x="188.10" y="220.40" width="1.90" height="59.20" fill="#4a95c2"/>
<rect x="188.10" y="279.01" width="1.90" height="0.59" fill="#3d6b3f"/>
<rect x="188.10" y="266.38" width="1.90" height="12.63" fill="#6fcfb5"/>
<rect x="188.10" y="264.80" width="1.90" height="1.58" fill="#b3de76"/>
<rect x="188.10" y="263.62" width="1.90" height="1.18" fill="#f29a7c"/>
<rect x="190.60" y="186.68" width="1.90" height="24.62" fill="#4a95c2"/>
<rect x="190.60" y="220.40" width="1.90" height="59.20" fill="#4a95c2"/>
<rect x="190.60" y="276.25" width="1.90" height="3.35" fill="#3d6b3f"/>
<rect x="190.60" y="264.01" width="1.90" height="12.23" fill="#6fcfb5"/>
<rect x="190.60" y="262.43" width="1.90" height="1.58" fill="#b3de76"/>
<rect x="190.60" y="261.25" width="1.90" height="1.18" fill="#f29a7c"/>
<text x="189.10" y="280.6" font-size="2.75" fill="#666" stroke="#666" stroke-width="0.06" text-anchor="end" transform="rotate(-90 189.10 280.6)" dy="0.95">HG00914 hap1</text>
<text x="191.50" y="280.6" font-size="2.75" fill="#666" stroke="#666" stroke-width="0.06" text-anchor="end" transform="rotate(-90 191.50 280.6)" dy="0.95">HG00925 hap2</text>
<rect x="195.40" y="186.28" width="1.90" height="25.02" fill="#4a95c2"/>
<rect x="195.40" y="220.40" width="1.90" height="59.20" fill="#4a95c2"/>
<rect x="195.40" y="265.19" width="1.90" height="14.41" fill="#3d6b3f"/>
<rect x="195.40" y="232.04" width="1.90" height="33.15" fill="#6fcfb5"/>
<rect x="195.40" y="230.86" width="1.90" height="1.18" fill="#b3de76"/>
<rect x="195.40" y="228.10" width="1.90" height="2.76" fill="#f29a7c"/>
<rect x="197.90" y="188.54" width="1.90" height="22.76" fill="#4a95c2"/>
<rect x="197.90" y="220.40" width="1.90" height="59.20" fill="#4a95c2"/>
<rect x="197.90" y="269.73" width="1.90" height="9.87" fill="#3d6b3f"/>
<rect x="197.90" y="235.79" width="1.90" height="33.94" fill="#6fcfb5"/>
<rect x="197.90" y="235.20" width="1.90" height="0.59" fill="#b3de76"/>
<rect x="197.90" y="232.44" width="1.90" height="2.76" fill="#f29a7c"/>
<text x="196.40" y="280.6" font-size="2.75" fill="#666" stroke="#666" stroke-width="0.06" text-anchor="end" transform="rotate(-90 196.40 280.6)" dy="0.95">HG00951 hap1</text>
<text x="198.80" y="280.6" font-size="2.75" fill="#666" stroke="#666" stroke-width="0.06" text-anchor="end" transform="rotate(-90 198.80 280.6)" dy="0.95">HG00962 hap2</text>
<rect x="202.70" y="186.68" width="1.90" height="24.62" fill="#4a95c2"/>
<rect x="202.70" y="220.40" width="1.90" height="59.20" fill="#4a95c2"/>
<rect x="202.70" y="277.23" width="1.90" height="2.37" fill="#3d6b3f"/>
<rect x="202.70" y="267.96" width="1.90" height="9.27" fill="#6fcfb5"/>
<rect x="202.70" y="266.38" width="1.90" height="1.58" fill="#b3de76"/>
<rect x="202.70" y="264.21" width="1.90" height="2.17" fill="#f29a7c"/>
<rect x="205.20" y="189.33" width="1.90" height="21.97" fill="#4a95c2"/>
<rect x="205.20" y="220.40" width="1.90" height="59.20" fill="#4a95c2"/>
<rect x="205.20" y="273.29" width="1.90" height="6.31" fill="#3d6b3f"/>
<rect x="205.20" y="264.21" width="1.90" height="9.08" fill="#6fcfb5"/>
<rect x="205.20" y="262.04" width="1.90" height="2.17" fill="#b3de76"/>
<rect x="205.20" y="259.87" width="1.90" height="2.17" fill="#f29a7c"/>
<text x="203.70" y="280.6" font-size="2.75" fill="#666" stroke="#666" stroke-width="0.06" text-anchor="end" transform="rotate(-90 203.70 280.6)" dy="0.95">HG00988 hap1</text>
<text x="206.10" y="280.6" font-size="2.75" fill="#666" stroke="#666" stroke-width="0.06" text-anchor="end" transform="rotate(-90 206.10 280.6)" dy="0.95">HG00999 hap2</text>
<rect x="210.00" y="189.62" width="1.90" height="21.68" fill="#4a95c2"/>
<rect x="210.00" y="220.40" width="1.90" height="59.20" fill="#4a95c2"/>
<rect x="210.00" y="279.01" width="1.90" height="0.59" fill="#3d6b3f"/>
<rect x="210.00" y="270.13" width="1.90" height="8.88" fill="#6fcfb5"/>
<rect x="210.00" y="268.55" width="1.90" height="1.58" fill="#b3de76"/>
<rect x="210.00" y="266.58" width="1.90" height="1.97" fill="#f29a7c"/>
<rect x="212.50" y="187.76" width="1.90" height="23.54" fill="#4a95c2"/>
<rect x="212.50" y="220.40" width="1.90" height="59.20" fill="#4a95c2"/>
<rect x="212.50" y="279.21" width="1.90" height="0.39" fill="#3d6b3f"/>
<rect x="212.50" y="267.37" width="1.90" height="11.84" fill="#6fcfb5"/>
<rect x="212.50" y="266.18" width="1.90" height="1.18" fill="#b3de76"/>
<rect x="212.50" y="265.00" width="1.90" height="1.18" fill="#f29a7c"/>
<text x="211.00" y="280.6" font-size="2.75" fill="#666" stroke="#666" stroke-width="0.06" text-anchor="end" transform="rotate(-90 211.00 280.6)" dy="0.95">HG00125 hap1</text>
<text x="213.40" y="280.6" font-size="2.75" fill="#666" stroke="#666" stroke-width="0.06" text-anchor="end" transform="rotate(-90 213.40 280.6)" dy="0.95">HG00136 hap2</text>
<rect x="217.30" y="185.99" width="1.90" height="25.31" fill="#4a95c2"/>
<rect x="217.30" y="220.40" width="1.90" height="59.20" fill="#4a95c2"/>
<rect x="217.30" y="278.42" width="1.90" height="1.18" fill="#3d6b3f"/>
<rect x="217.30" y="263.02" width="1.90" height="15.39" fill="#6fcfb5"/>
<rect x="217.30" y="261.45" width="1.90" height="1.58" fill="#b3de76"/>
<rect x="217.30" y="258.68" width="1.90" height="2.76" fill="#f29a7c"/>
<rect x="219.80" y="189.62" width="1.90" height="21.68" fill="#4a95c2"/>
<rect x="219.80" y="220.40" width="1.90" height="59.20" fill="#4a95c2"/>
<rect x="219.80" y="277.43" width="1.90" height="2.17" fill="#3d6b3f"/>
<rect x="219.80" y="266.38" width="1.90" height="11.05" fill="#6fcfb5"/>
<rect x="219.80" y="264.21" width="1.90" height="2.17" fill="#b3de76"/>
<rect x="219.80" y="262.23" width="1.90" height="1.97" fill="#f29a7c"/>
<text x="218.30" y="280.6" font-size="2.75" fill="#666" stroke="#666" stroke-width="0.06" text-anchor="end" transform="rotate(-90 218.30 280.6)" dy="0.95">HG00162 hap1</text>
<text x="220.70" y="280.6" font-size="2.75" fill="#666" stroke="#666" stroke-width="0.06" text-anchor="end" transform="rotate(-90 220.70 280.6)" dy="0.95">HG00173 hap2</text>
<rect x="224.60" y="185.99" width="1.90" height="25.31" fill="#4a95c2"/>
<rect x="224.60" y="220.40" width="1.90" height="59.20" fill="#4a95c2"/>
<rect x="224.60" y="278.02" width="1.90" height="1.58" fill="#3d6b3f"/>
<rect x="224.60" y="267.37" width="1.90" height="10.66" fill="#6fcfb5"/>
<rect x="224.60" y="265.79" width="1.90" height="1.58" fill="#b3de76"/>
<rect x="224.60" y="264.60" width="1.90" height="1.18" fill="#f29a7c"/>
<rect x="227.10" y="191.29" width="1.90" height="20.01" fill="#4a95c2"/>
<rect x="227.10" y="220.40" width="1.90" height="59.20" fill="#4a95c2"/>
<rect x="227.10" y="278.42" width="1.90" height="1.18" fill="#3d6b3f"/>
<rect x="227.10" y="272.89" width="1.90" height="5.53" fill="#6fcfb5"/>
<rect x="227.10" y="271.31" width="1.90" height="1.58" fill="#b3de76"/>
<rect x="227.10" y="270.13" width="1.90" height="1.18" fill="#f29a7c"/>
<text x="225.60" y="280.6" font-size="2.75" fill="#666" stroke="#666" stroke-width="0.06" text-anchor="end" transform="rotate(-90 225.60 280.6)" dy="0.95">HG00199 hap1</text>
<text x="228.00" y="280.6" font-size="2.75" fill="#666" stroke="#666" stroke-width="0.06" text-anchor="end" transform="rotate(-90 228.00 280.6)" dy="0.95">HG00210 hap2</text>
<rect x="231.90" y="186.97" width="1.90" height="24.33" fill="#4a95c2"/>
<rect x="231.90" y="220.40" width="1.90" height="59.20" fill="#4a95c2"/>
<rect x="231.90" y="278.22" width="1.90" height="1.38" fill="#3d6b3f"/>
<rect x="231.90" y="265.19" width="1.90" height="13.02" fill="#6fcfb5"/>
<rect x="231.90" y="263.62" width="1.90" height="1.58" fill="#b3de76"/>
<rect x="231.90" y="262.43" width="1.90" height="1.18" fill="#f29a7c"/>
<rect x="234.40" y="188.45" width="1.90" height="22.85" fill="#4a95c2"/>
<rect x="234.40" y="220.40" width="1.90" height="59.20" fill="#4a95c2"/>
<rect x="234.40" y="278.42" width="1.90" height="1.18" fill="#3d6b3f"/>
<rect x="234.40" y="267.76" width="1.90" height="10.66" fill="#6fcfb5"/>
<rect x="234.40" y="266.38" width="1.90" height="1.38" fill="#b3de76"/>
<rect x="234.40" y="265.19" width="1.90" height="1.18" fill="#f29a7c"/>
<text x="232.90" y="280.6" font-size="2.75" fill="#666" stroke="#666" stroke-width="0.06" text-anchor="end" transform="rotate(-90 232.90 280.6)" dy="0.95">HG00236 hap1</text>
<text x="235.30" y="280.6" font-size="2.75" fill="#666" stroke="#666" stroke-width="0.06" text-anchor="end" transform="rotate(-90 235.30 280.6)" dy="0.95">HG00247 hap2</text>
<rect x="239.20" y="196.60" width="1.90" height="14.70" fill="#4a95c2"/>
<rect x="239.20" y="220.40" width="1.90" height="59.20" fill="#4a95c2"/>
<rect x="239.20" y="279.21" width="1.90" height="0.39" fill="#3d6b3f"/>
<rect x="239.20" y="277.23" width="1.90" height="1.97" fill="#6fcfb5"/>
<rect x="239.20" y="275.65" width="1.90" height="1.58" fill="#b3de76"/>
<rect x="241.70" y="187.46" width="1.90" height="23.84" fill="#4a95c2"/>
<rect x="241.70" y="220.40" width="1.90" height="59.20" fill="#4a95c2"/>
<rect x="241.70" y="279.21" width="1.90" height="0.39" fill="#3d6b3f"/>
<rect x="241.70" y="277.63" width="1.90" height="1.58" fill="#6fcfb5"/>
<rect x="241.70" y="276.44" width="1.90" height="1.18" fill="#b3de76"/>
<text x="240.20" y="280.6" font-size="2.75" fill="#666" stroke="#666" stroke-width="0.06" text-anchor="end" transform="rotate(-90 240.20 280.6)" dy="0.95">HG00273 hap1</text>
<text x="242.60" y="280.6" font-size="2.75" fill="#666" stroke="#666" stroke-width="0.06" text-anchor="end" transform="rotate(-90 242.60 280.6)" dy="0.95">HG00284 hap2</text>
<rect x="246.50" y="188.45" width="1.90" height="22.85" fill="#4a95c2"/>
<rect x="246.50" y="220.40" width="1.90" height="59.20" fill="#4a95c2"/>
<rect x="246.50" y="279.21" width="1.90" height="0.39" fill="#3d6b3f"/>
<rect x="246.50" y="277.63" width="1.90" height="1.58" fill="#6fcfb5"/>
<rect x="246.50" y="276.44" width="1.90" height="1.18" fill="#b3de76"/>
<rect x="249.00" y="194.93" width="1.90" height="16.37" fill="#4a95c2"/>
<rect x="249.00" y="220.40" width="1.90" height="59.20" fill="#4a95c2"/>
<rect x="249.00" y="279.21" width="1.90" height="0.39" fill="#3d6b3f"/>
<rect x="249.00" y="277.23" width="1.90" height="1.97" fill="#6fcfb5"/>
<rect x="249.00" y="275.65" width="1.90" height="1.58" fill="#b3de76"/>
<rect x="249.00" y="275.26" width="1.90" height="0.39" fill="#f29a7c"/>
<text x="247.50" y="280.6" font-size="2.75" fill="#666" stroke="#666" stroke-width="0.06" text-anchor="end" transform="rotate(-90 247.50 280.6)" dy="0.95">HG00310 hap1</text>
<text x="249.90" y="280.6" font-size="2.75" fill="#666" stroke="#666" stroke-width="0.06" text-anchor="end" transform="rotate(-90 249.90 280.6)" dy="0.95">HG00321 hap2</text>
<rect x="253.80" y="195.72" width="1.90" height="15.58" fill="#4a95c2"/>
<rect x="253.80" y="220.40" width="1.90" height="59.20" fill="#4a95c2"/>
<rect x="253.80" y="279.01" width="1.90" height="0.59" fill="#3d6b3f"/>
<rect x="253.80" y="266.77" width="1.90" height="12.23" fill="#6fcfb5"/>
<rect x="253.80" y="264.60" width="1.90" height="2.17" fill="#b3de76"/>
<rect x="253.80" y="263.42" width="1.90" height="1.18" fill="#f29a7c"/>
<rect x="256.30" y="196.50" width="1.90" height="14.80" fill="#4a95c2"/>
<rect x="256.30" y="220.40" width="1.90" height="59.20" fill="#4a95c2"/>
<rect x="256.30" y="279.01" width="1.90" height="0.59" fill="#3d6b3f"/>
<rect x="256.30" y="266.38" width="1.90" height="12.63" fill="#6fcfb5"/>
<rect x="256.30" y="231.65" width="1.90" height="34.73" fill="#b3de76"/>
<rect x="256.30" y="230.86" width="1.90" height="0.79" fill="#f29a7c"/>
<text x="254.80" y="280.6" font-size="2.75" fill="#666" stroke="#666" stroke-width="0.06" text-anchor="end" transform="rotate(-90 254.80 280.6)" dy="0.95">HG00347 hap1</text>
<text x="257.20" y="280.6" font-size="2.75" fill="#666" stroke="#666" stroke-width="0.06" text-anchor="end" transform="rotate(-90 257.20 280.6)" dy="0.95">HG00358 hap2</text>
<rect x="261.10" y="201.61" width="1.90" height="9.69" fill="#4a95c2"/>
<rect x="261.10" y="220.40" width="1.90" height="59.20" fill="#4a95c2"/>
<rect x="261.10" y="279.40" width="1.90" height="0.20" fill="#3d6b3f"/>
<rect x="261.10" y="275.46" width="1.90" height="3.95" fill="#6fcfb5"/>
<rect x="261.10" y="272.10" width="1.90" height="3.35" fill="#b3de76"/>
<rect x="261.10" y="271.51" width="1.90" height="0.59" fill="#f29a7c"/>
<rect x="263.60" y="185.01" width="1.90" height="26.29" fill="#4a95c2"/>
<rect x="263.60" y="220.40" width="1.90" height="59.20" fill="#4a95c2"/>
<rect x="263.60" y="279.40" width="1.90" height="0.20" fill="#3d6b3f"/>
<rect x="263.60" y="273.29" width="1.90" height="6.12" fill="#6fcfb5"/>
<rect x="263.60" y="267.76" width="1.90" height="5.53" fill="#b3de76"/>
<rect x="263.60" y="266.97" width="1.90" height="0.79" fill="#f29a7c"/>
<text x="262.10" y="280.6" font-size="2.75" fill="#666" stroke="#666" stroke-width="0.06" text-anchor="end" transform="rotate(-90 262.10 280.6)" dy="0.95">HG00384 hap1</text>
<text x="264.50" y="280.6" font-size="2.75" fill="#666" stroke="#666" stroke-width="0.06" text-anchor="end" transform="rotate(-90 264.50 280.6)" dy="0.95">HG00395 hap2</text>
<rect x="268.40" y="196.60" width="1.90" height="14.70" fill="#4a95c2"/>
<rect x="268.40" y="220.40" width="1.90" height="59.20" fill="#4a95c2"/>
<rect x="268.40" y="279.21" width="1.90" height="0.39" fill="#3d6b3f"/>
<rect x="268.40" y="277.23" width="1.90" height="1.97" fill="#6fcfb5"/>
<rect x="268.40" y="275.65" width="1.90" height="1.58" fill="#b3de76"/>
<rect x="270.90" y="184.81" width="1.90" height="26.49" fill="#4a95c2"/>
<rect x="270.90" y="220.40" width="1.90" height="59.20" fill="#4a95c2"/>
<rect x="270.90" y="279.21" width="1.90" height="0.39" fill="#3d6b3f"/>
<rect x="270.90" y="277.63" width="1.90" height="1.58" fill="#6fcfb5"/>
<rect x="270.90" y="276.05" width="1.90" height="1.58" fill="#b3de76"/>
<text x="269.40" y="280.6" font-size="2.75" fill="#666" stroke="#666" stroke-width="0.06" text-anchor="end" transform="rotate(-90 269.40 280.6)" dy="0.95">HG00421 hap1</text>
<text x="271.80" y="280.6" font-size="2.75" fill="#666" stroke="#666" stroke-width="0.06" text-anchor="end" transform="rotate(-90 271.80 280.6)" dy="0.95">HG00432 hap2</text>
<rect x="275.70" y="183.14" width="1.90" height="28.16" fill="#4a95c2"/>
<rect x="275.70" y="220.40" width="1.90" height="59.20" fill="#4a95c2"/>
<rect x="275.70" y="278.02" width="1.90" height="1.58" fill="#3d6b3f"/>
<rect x="275.70" y="267.37" width="1.90" height="10.66" fill="#6fcfb5"/>
<rect x="275.70" y="265.79" width="1.90" height="1.58" fill="#b3de76"/>
<rect x="275.70" y="264.60" width="1.90" height="1.18" fill="#f29a7c"/>
<rect x="278.20" y="201.71" width="1.90" height="9.59" fill="#4a95c2"/>
<rect x="278.20" y="220.40" width="1.90" height="59.20" fill="#4a95c2"/>
<rect x="278.20" y="279.01" width="1.90" height="0.59" fill="#3d6b3f"/>
<rect x="278.20" y="266.77" width="1.90" height="12.23" fill="#6fcfb5"/>
<rect x="278.20" y="264.60" width="1.90" height="2.17" fill="#b3de76"/>
<rect x="278.20" y="263.42" width="1.90" height="1.18" fill="#f29a7c"/>
<text x="276.70" y="280.6" font-size="2.75" fill="#666" stroke="#666" stroke-width="0.06" text-anchor="end" transform="rotate(-90 276.70 280.6)" dy="0.95">HG00458 hap1</text>
<text x="279.10" y="280.6" font-size="2.75" fill="#666" stroke="#666" stroke-width="0.06" text-anchor="end" transform="rotate(-90 279.10 280.6)" dy="0.95">HG00469 hap2</text>
<rect x="283.00" y="185.30" width="1.90" height="26.00" fill="#4a95c2"/>
<rect x="283.00" y="220.40" width="1.90" height="59.20" fill="#4a95c2"/>
<rect x="283.00" y="279.21" width="1.90" height="0.39" fill="#3d6b3f"/>
<rect x="283.00" y="275.65" width="1.90" height="3.55" fill="#6fcfb5"/>
<rect x="283.00" y="273.48" width="1.90" height="2.17" fill="#b3de76"/>
<rect x="283.00" y="272.50" width="1.90" height="0.99" fill="#f29a7c"/>
<rect x="285.50" y="199.84" width="1.90" height="11.46" fill="#4a95c2"/>
<rect x="285.50" y="220.40" width="1.90" height="59.20" fill="#4a95c2"/>
<rect x="285.50" y="279.21" width="1.90" height="0.39" fill="#3d6b3f"/>
<rect x="285.50" y="276.44" width="1.90" height="2.76" fill="#6fcfb5"/>
<rect x="285.50" y="274.86" width="1.90" height="1.58" fill="#b3de76"/>
<rect x="285.50" y="274.47" width="1.90" height="0.39" fill="#f29a7c"/>
<text x="284.00" y="280.6" font-size="2.75" fill="#666" stroke="#666" stroke-width="0.06" text-anchor="end" transform="rotate(-90 284.00 280.6)" dy="0.95">HG00495 hap1</text>
<text x="286.40" y="280.6" font-size="2.75" fill="#666" stroke="#666" stroke-width="0.06" text-anchor="end" transform="rotate(-90 286.40 280.6)" dy="0.95">HG00506 hap2</text>
<rect x="290.30" y="183.83" width="1.90" height="27.47" fill="#4a95c2"/>
<rect x="290.30" y="220.40" width="1.90" height="59.20" fill="#4a95c2"/>
<rect x="290.30" y="279.21" width="1.90" height="0.39" fill="#3d6b3f"/>
<rect x="290.30" y="276.44" width="1.90" height="2.76" fill="#6fcfb5"/>
<rect x="290.30" y="275.26" width="1.90" height="1.18" fill="#b3de76"/>
<rect x="290.30" y="274.86" width="1.90" height="0.39" fill="#f29a7c"/>
<rect x="292.80" y="201.61" width="1.90" height="9.69" fill="#4a95c2"/>
<rect x="292.80" y="220.40" width="1.90" height="59.20" fill="#4a95c2"/>
<rect x="292.80" y="279.21" width="1.90" height="0.39" fill="#3d6b3f"/>
<rect x="292.80" y="276.05" width="1.90" height="3.16" fill="#6fcfb5"/>
<rect x="292.80" y="274.86" width="1.90" height="1.18" fill="#b3de76"/>
<rect x="292.80" y="274.47" width="1.90" height="0.39" fill="#f29a7c"/>
<text x="291.30" y="280.6" font-size="2.75" fill="#666" stroke="#666" stroke-width="0.06" text-anchor="end" transform="rotate(-90 291.30 280.6)" dy="0.95">HG00532 hap1</text>
<text x="293.70" y="280.6" font-size="2.75" fill="#666" stroke="#666" stroke-width="0.06" text-anchor="end" transform="rotate(-90 293.70 280.6)" dy="0.95">HG00543 hap2</text>
<rect x="297.60" y="180.88" width="1.90" height="30.42" fill="#4a95c2"/>
<rect x="297.60" y="220.40" width="1.90" height="59.20" fill="#4a95c2"/>
<rect x="297.60" y="279.21" width="1.90" height="0.39" fill="#3d6b3f"/>
<rect x="297.60" y="278.02" width="1.90" height="1.18" fill="#6fcfb5"/>
<rect x="297.60" y="277.23" width="1.90" height="0.79" fill="#b3de76"/>
<rect x="297.60" y="276.84" width="1.90" height="0.39" fill="#f29a7c"/>
<rect x="300.10" y="204.66" width="1.90" height="6.64" fill="#4a95c2"/>
<rect x="300.10" y="220.40" width="1.90" height="59.20" fill="#4a95c2"/>
<rect x="300.10" y="279.21" width="1.90" height="0.39" fill="#3d6b3f"/>
<rect x="300.10" y="278.02" width="1.90" height="1.18" fill="#6fcfb5"/>
<rect x="300.10" y="277.23" width="1.90" height="0.79" fill="#b3de76"/>
<rect x="300.10" y="276.84" width="1.90" height="0.39" fill="#f29a7c"/>
<text x="298.60" y="280.6" font-size="2.75" fill="#666" stroke="#666" stroke-width="0.06" text-anchor="end" transform="rotate(-90 298.60 280.6)" dy="0.95">HG00569 hap1</text>
<text x="301.00" y="280.6" font-size="2.75" fill="#666" stroke="#666" stroke-width="0.06" text-anchor="end" transform="rotate(-90 301.00 280.6)" dy="0.95">HG00580 hap2</text>
<rect x="304.90" y="202.50" width="1.90" height="8.80" fill="#4a95c2"/>
<rect x="304.90" y="220.40" width="1.90" height="59.20" fill="#4a95c2"/>
<rect x="304.90" y="279.21" width="1.90" height="0.39" fill="#3d6b3f"/>
<rect x="304.90" y="277.23" width="1.90" height="1.97" fill="#6fcfb5"/>
<rect x="304.90" y="276.05" width="1.90" height="1.18" fill="#b3de76"/>
<rect x="304.90" y="275.65" width="1.90" height="0.39" fill="#f29a7c"/>
<rect x="307.40" y="184.52" width="1.90" height="26.78" fill="#4a95c2"/>
<rect x="307.40" y="220.40" width="1.90" height="59.20" fill="#4a95c2"/>
<rect x="307.40" y="279.21" width="1.90" height="0.39" fill="#3d6b3f"/>
<rect x="307.40" y="277.23" width="1.90" height="1.97" fill="#6fcfb5"/>
<rect x="307.40" y="276.05" width="1.90" height="1.18" fill="#b3de76"/>
<rect x="307.40" y="275.65" width="1.90" height="0.39" fill="#f29a7c"/>
<text x="305.90" y="280.6" font-size="2.75" fill="#666" stroke="#666" stroke-width="0.06" text-anchor="end" transform="rotate(-90 305.90 280.6)" dy="0.95">HG00606 hap1</text>
<text x="308.30" y="280.6" font-size="2.75" fill="#666" stroke="#666" stroke-width="0.06" text-anchor="end" transform="rotate(-90 308.30 280.6)" dy="0.95">HG00617 hap2</text>
<rect x="312.20" y="202.10" width="1.90" height="9.20" fill="#4a95c2"/>
<rect x="312.20" y="220.40" width="1.90" height="59.20" fill="#4a95c2"/>
<rect x="312.20" y="279.01" width="1.90" height="0.59" fill="#3d6b3f"/>
<rect x="312.20" y="272.30" width="1.90" height="6.71" fill="#6fcfb5"/>
<rect x="312.20" y="271.11" width="1.90" height="1.18" fill="#b3de76"/>
<rect x="312.20" y="270.33" width="1.90" height="0.79" fill="#f29a7c"/>
<rect x="314.70" y="181.96" width="1.90" height="29.34" fill="#4a95c2"/>
<rect x="314.70" y="220.40" width="1.90" height="59.20" fill="#4a95c2"/>
<rect x="314.70" y="279.21" width="1.90" height="0.39" fill="#3d6b3f"/>
<rect x="314.70" y="274.07" width="1.90" height="5.13" fill="#6fcfb5"/>
<rect x="314.70" y="273.29" width="1.90" height="0.79" fill="#b3de76"/>
<rect x="314.70" y="272.50" width="1.90" height="0.79" fill="#f29a7c"/>
<text x="313.20" y="280.6" font-size="2.75" fill="#666" stroke="#666" stroke-width="0.06" text-anchor="end" transform="rotate(-90 313.20 280.6)" dy="0.95">HG00643 hap1</text>
<text x="315.60" y="280.6" font-size="2.75" fill="#666" stroke="#666" stroke-width="0.06" text-anchor="end" transform="rotate(-90 315.60 280.6)" dy="0.95">HG00654 hap2</text>
<rect x="319.50" y="182.55" width="1.90" height="28.75" fill="#4a95c2"/>
<rect x="319.50" y="220.40" width="1.90" height="59.20" fill="#4a95c2"/>
<rect x="319.50" y="279.21" width="1.90" height="0.39" fill="#3d6b3f"/>
<rect x="319.50" y="275.65" width="1.90" height="3.55" fill="#6fcfb5"/>
<rect x="319.50" y="274.47" width="1.90" height="1.18" fill="#b3de76"/>
<rect x="319.50" y="273.68" width="1.90" height="0.79" fill="#f29a7c"/>
<rect x="322.00" y="205.25" width="1.90" height="6.05" fill="#4a95c2"/>
<rect x="322.00" y="220.40" width="1.90" height="59.20" fill="#4a95c2"/>
<rect x="322.00" y="279.21" width="1.90" height="0.39" fill="#3d6b3f"/>
<rect x="322.00" y="275.65" width="1.90" height="3.55" fill="#6fcfb5"/>
<rect x="322.00" y="274.86" width="1.90" height="0.79" fill="#b3de76"/>
<rect x="322.00" y="274.07" width="1.90" height="0.79" fill="#f29a7c"/>
<text x="320.50" y="280.6" font-size="2.75" fill="#666" stroke="#666" stroke-width="0.06" text-anchor="end" transform="rotate(-90 320.50 280.6)" dy="0.95">HG00680 hap1</text>
<text x="322.90" y="280.6" font-size="2.75" fill="#666" stroke="#666" stroke-width="0.06" text-anchor="end" transform="rotate(-90 322.90 280.6)" dy="0.95">HG00691 hap2</text>
<rect x="326.80" y="200.43" width="1.90" height="10.87" fill="#4a95c2"/>
<rect x="326.80" y="220.40" width="1.90" height="59.20" fill="#4a95c2"/>
<rect x="326.80" y="278.22" width="1.90" height="1.38" fill="#3d6b3f"/>
<rect x="326.80" y="271.11" width="1.90" height="7.10" fill="#6fcfb5"/>
<rect x="326.80" y="268.35" width="1.90" height="2.76" fill="#b3de76"/>
<rect x="326.80" y="266.97" width="1.90" height="1.38" fill="#f29a7c"/>
<rect x="329.30" y="184.61" width="1.90" height="26.69" fill="#4a95c2"/>
<rect x="329.30" y="220.40" width="1.90" height="59.20" fill="#4a95c2"/>
<rect x="329.30" y="277.43" width="1.90" height="2.17" fill="#3d6b3f"/>
<rect x="329.30" y="270.33" width="1.90" height="7.10" fill="#6fcfb5"/>
<rect x="329.30" y="269.14" width="1.90" height="1.18" fill="#b3de76"/>
<rect x="329.30" y="268.35" width="1.90" height="0.79" fill="#f29a7c"/>
<text x="327.80" y="280.6" font-size="2.75" fill="#666" stroke="#666" stroke-width="0.06" text-anchor="end" transform="rotate(-90 327.80 280.6)" dy="0.95">HG00717 hap1</text>
<text x="330.20" y="280.6" font-size="2.75" fill="#666" stroke="#666" stroke-width="0.06" text-anchor="end" transform="rotate(-90 330.20 280.6)" dy="0.95">HG00728 hap2</text>
<rect x="334.10" y="203.38" width="1.90" height="7.92" fill="#4a95c2"/>
<rect x="334.10" y="220.40" width="1.90" height="59.20" fill="#4a95c2"/>
<rect x="334.10" y="272.50" width="1.90" height="7.10" fill="#3d6b3f"/>
<rect x="334.10" y="259.08" width="1.90" height="13.42" fill="#6fcfb5"/>
<rect x="334.10" y="257.50" width="1.90" height="1.58" fill="#b3de76"/>
<rect x="334.10" y="255.13" width="1.90" height="2.37" fill="#f29a7c"/>
<rect x="336.60" y="185.50" width="1.90" height="25.80" fill="#4a95c2"/>
<rect x="336.60" y="220.40" width="1.90" height="59.20" fill="#4a95c2"/>
<rect x="336.60" y="274.07" width="1.90" height="5.53" fill="#3d6b3f"/>
<rect x="336.60" y="248.42" width="1.90" height="25.65" fill="#6fcfb5"/>
<rect x="336.60" y="247.24" width="1.90" height="1.18" fill="#b3de76"/>
<rect x="336.60" y="245.26" width="1.90" height="1.97" fill="#f29a7c"/>
<text x="335.10" y="280.6" font-size="2.75" fill="#666" stroke="#666" stroke-width="0.06" text-anchor="end" transform="rotate(-90 335.10 280.6)" dy="0.95">HG00754 hap1</text>
<text x="337.50" y="280.6" font-size="2.75" fill="#666" stroke="#666" stroke-width="0.06" text-anchor="end" transform="rotate(-90 337.50 280.6)" dy="0.95">HG00765 hap2</text>
<rect x="341.40" y="185.89" width="1.90" height="25.41" fill="#4a95c2"/>
<rect x="341.40" y="220.40" width="1.90" height="59.20" fill="#4a95c2"/>
<rect x="341.40" y="273.29" width="1.90" height="6.31" fill="#3d6b3f"/>
<rect x="341.40" y="263.02" width="1.90" height="10.26" fill="#6fcfb5"/>
<rect x="341.40" y="261.45" width="1.90" height="1.58" fill="#b3de76"/>
<rect x="341.40" y="259.47" width="1.90" height="1.97" fill="#f29a7c"/>
<rect x="343.90" y="199.15" width="1.90" height="12.15" fill="#4a95c2"/>
<rect x="343.90" y="220.40" width="1.90" height="59.20" fill="#4a95c2"/>
<rect x="343.90" y="275.46" width="1.90" height="4.14" fill="#3d6b3f"/>
<rect x="343.90" y="258.09" width="1.90" height="17.37" fill="#6fcfb5"/>
<rect x="343.90" y="256.51" width="1.90" height="1.58" fill="#b3de76"/>
<rect x="343.90" y="254.93" width="1.90" height="1.58" fill="#f29a7c"/>
<text x="342.40" y="280.6" font-size="2.75" fill="#666" stroke="#666" stroke-width="0.06" text-anchor="end" transform="rotate(-90 342.40 280.6)" dy="0.95">HG00791 hap1</text>
<text x="344.80" y="280.6" font-size="2.75" fill="#666" stroke="#666" stroke-width="0.06" text-anchor="end" transform="rotate(-90 344.80 280.6)" dy="0.95">HG00802 hap2</text>
<rect x="348.70" y="189.03" width="1.90" height="22.27" fill="#4a95c2"/>
<rect x="348.70" y="220.40" width="1.90" height="59.20" fill="#4a95c2"/>
<rect x="348.70" y="275.65" width="1.90" height="3.95" fill="#3d6b3f"/>
<rect x="348.70" y="261.25" width="1.90" height="14.41" fill="#6fcfb5"/>
<rect x="348.70" y="259.67" width="1.90" height="1.58" fill="#b3de76"/>
<rect x="348.70" y="257.70" width="1.90" height="1.97" fill="#f29a7c"/>
<rect x="351.20" y="196.01" width="1.90" height="15.29" fill="#4a95c2"/>
<rect x="351.20" y="220.40" width="1.90" height="59.20" fill="#4a95c2"/>
<rect x="351.20" y="274.86" width="1.90" height="4.74" fill="#3d6b3f"/>
<rect x="351.20" y="259.47" width="1.90" height="15.39" fill="#6fcfb5"/>
<rect x="351.20" y="258.09" width="1.90" height="1.38" fill="#b3de76"/>
<rect x="351.20" y="256.31" width="1.90" height="1.78" fill="#f29a7c"/>
<text x="349.70" y="280.6" font-size="2.75" fill="#666" stroke="#666" stroke-width="0.06" text-anchor="end" transform="rotate(-90 349.70 280.6)" dy="0.95">HG00828 hap1</text>
<text x="352.10" y="280.6" font-size="2.75" fill="#666" stroke="#666" stroke-width="0.06" text-anchor="end" transform="rotate(-90 352.10 280.6)" dy="0.95">HG00839 hap2</text>
<rect x="356.00" y="185.50" width="1.90" height="25.80" fill="#4a95c2"/>
<rect x="356.00" y="220.40" width="1.90" height="59.20" fill="#4a95c2"/>
<rect x="356.00" y="273.29" width="1.90" height="6.31" fill="#3d6b3f"/>
<rect x="356.00" y="236.98" width="1.90" height="36.31" fill="#6fcfb5"/>
<rect x="356.00" y="235.79" width="1.90" height="1.18" fill="#b3de76"/>
<rect x="356.00" y="234.21" width="1.90" height="1.58" fill="#f29a7c"/>
<rect x="358.50" y="192.87" width="1.90" height="18.43" fill="#4a95c2"/>
<rect x="358.50" y="220.40" width="1.90" height="59.20" fill="#4a95c2"/>
<rect x="358.50" y="275.26" width="1.90" height="4.34" fill="#3d6b3f"/>
<rect x="358.50" y="240.13" width="1.90" height="35.13" fill="#6fcfb5"/>
<rect x="358.50" y="238.95" width="1.90" height="1.18" fill="#b3de76"/>
<rect x="358.50" y="237.17" width="1.90" height="1.78" fill="#f29a7c"/>
<text x="357.00" y="280.6" font-size="2.75" fill="#666" stroke="#666" stroke-width="0.06" text-anchor="end" transform="rotate(-90 357.00 280.6)" dy="0.95">HG00865 hap1</text>
<text x="359.40" y="280.6" font-size="2.75" fill="#666" stroke="#666" stroke-width="0.06" text-anchor="end" transform="rotate(-90 359.40 280.6)" dy="0.95">HG00876 hap2</text>
<rect x="363.30" y="201.61" width="1.90" height="9.69" fill="#4a95c2"/>
<rect x="363.30" y="220.40" width="1.90" height="59.20" fill="#4a95c2"/>
<rect x="363.30" y="278.42" width="1.90" height="1.18" fill="#3d6b3f"/>
<rect x="363.30" y="267.37" width="1.90" height="11.05" fill="#6fcfb5"/>
<rect x="363.30" y="266.18" width="1.90" height="1.18" fill="#b3de76"/>
<rect x="363.30" y="265.00" width="1.90" height="1.18" fill="#f29a7c"/>
<rect x="365.80" y="182.55" width="1.90" height="28.75" fill="#4a95c2"/>
<rect x="365.80" y="220.40" width="1.90" height="59.20" fill="#4a95c2"/>
<rect x="365.80" y="278.42" width="1.90" height="1.18" fill="#3d6b3f"/>
<rect x="365.80" y="268.15" width="1.90" height="10.26" fill="#6fcfb5"/>
<rect x="365.80" y="267.37" width="1.90" height="0.79" fill="#b3de76"/>
<rect x="365.80" y="266.18" width="1.90" height="1.18" fill="#f29a7c"/>
<text x="364.30" y="280.6" font-size="2.75" fill="#666" stroke="#666" stroke-width="0.06" text-anchor="end" transform="rotate(-90 364.30 280.6)" dy="0.95">HG00902 hap1</text>
<text x="366.70" y="280.6" font-size="2.75" fill="#666" stroke="#666" stroke-width="0.06" text-anchor="end" transform="rotate(-90 366.70 280.6)" dy="0.95">HG00913 hap2</text>
<rect x="370.60" y="190.41" width="1.90" height="20.89" fill="#4a95c2"/>
<rect x="370.60" y="220.40" width="1.90" height="59.20" fill="#4a95c2"/>
<rect x="370.60" y="276.05" width="1.90" height="3.55" fill="#3d6b3f"/>
<rect x="370.60" y="262.63" width="1.90" height="13.42" fill="#6fcfb5"/>
<rect x="370.60" y="259.47" width="1.90" height="3.16" fill="#b3de76"/>
<rect x="370.60" y="256.31" width="1.90" height="3.16" fill="#f29a7c"/>
<rect x="373.10" y="186.78" width="1.90" height="24.52" fill="#4a95c2"/>
<rect x="373.10" y="220.40" width="1.90" height="59.20" fill="#4a95c2"/>
<rect x="373.10" y="278.42" width="1.90" height="1.18" fill="#3d6b3f"/>
<rect x="373.10" y="263.42" width="1.90" height="15.00" fill="#6fcfb5"/>
<rect x="373.10" y="261.45" width="1.90" height="1.97" fill="#b3de76"/>
<rect x="373.10" y="258.29" width="1.90" height="3.16" fill="#f29a7c"/>
<text x="371.60" y="280.6" font-size="2.75" fill="#666" stroke="#666" stroke-width="0.06" text-anchor="end" transform="rotate(-90 371.60 280.6)" dy="0.95">HG00939 hap1</text>
<text x="374.00" y="280.6" font-size="2.75" fill="#666" stroke="#666" stroke-width="0.06" text-anchor="end" transform="rotate(-90 374.00 280.6)" dy="0.95">HG00950 hap2</text>
<rect x="377.90" y="202.10" width="1.90" height="9.20" fill="#4a95c2"/>
<rect x="377.90" y="220.40" width="1.90" height="59.20" fill="#4a95c2"/>
<rect x="377.90" y="278.42" width="1.90" height="1.18" fill="#3d6b3f"/>
<rect x="377.90" y="264.41" width="1.90" height="14.01" fill="#6fcfb5"/>
<rect x="377.90" y="263.22" width="1.90" height="1.18" fill="#b3de76"/>
<rect x="377.90" y="261.84" width="1.90" height="1.38" fill="#f29a7c"/>
<rect x="380.40" y="183.24" width="1.90" height="28.06" fill="#4a95c2"/>
<rect x="380.40" y="220.40" width="1.90" height="59.20" fill="#4a95c2"/>
<rect x="380.40" y="279.01" width="1.90" height="0.59" fill="#3d6b3f"/>
<rect x="380.40" y="267.96" width="1.90" height="11.05" fill="#6fcfb5"/>
<rect x="380.40" y="266.77" width="1.90" height="1.18" fill="#b3de76"/>
<rect x="380.40" y="265.19" width="1.90" height="1.58" fill="#f29a7c"/>
<text x="378.90" y="280.6" font-size="2.75" fill="#666" stroke="#666" stroke-width="0.06" text-anchor="end" transform="rotate(-90 378.90 280.6)" dy="0.95">HG00976 hap1</text>
<text x="381.30" y="280.6" font-size="2.75" fill="#666" stroke="#666" stroke-width="0.06" text-anchor="end" transform="rotate(-90 381.30 280.6)" dy="0.95">HG00987 hap2</text>
<rect x="385.20" y="181.96" width="1.90" height="29.34" fill="#4a95c2"/>
<rect x="385.20" y="220.40" width="1.90" height="59.20" fill="#4a95c2"/>
<rect x="385.20" y="278.22" width="1.90" height="1.38" fill="#3d6b3f"/>
<rect x="385.20" y="261.64" width="1.90" height="16.58" fill="#6fcfb5"/>
<rect x="385.20" y="259.67" width="1.90" height="1.97" fill="#b3de76"/>
<rect x="385.20" y="256.31" width="1.90" height="3.35" fill="#f29a7c"/>
<rect x="387.70" y="203.38" width="1.90" height="7.92" fill="#4a95c2"/>
<rect x="387.70" y="220.40" width="1.90" height="59.20" fill="#4a95c2"/>
<rect x="387.70" y="278.42" width="1.90" height="1.18" fill="#3d6b3f"/>
<rect x="387.70" y="263.22" width="1.90" height="15.19" fill="#6fcfb5"/>
<rect x="387.70" y="261.84" width="1.90" height="1.38" fill="#b3de76"/>
<rect x="387.70" y="258.68" width="1.90" height="3.16" fill="#f29a7c"/>
<text x="386.20" y="280.6" font-size="2.75" fill="#666" stroke="#666" stroke-width="0.06" text-anchor="end" transform="rotate(-90 386.20 280.6)" dy="0.95">HG00113 hap1</text>
<text x="388.60" y="280.6" font-size="2.75" fill="#666" stroke="#666" stroke-width="0.06" text-anchor="end" transform="rotate(-90 388.60 280.6)" dy="0.95">HG00124 hap2</text>
<rect x="392.50" y="202.69" width="1.90" height="8.61" fill="#4a95c2"/>
<rect x="392.50" y="220.40" width="1.90" height="59.20" fill="#4a95c2"/>
<rect x="392.50" y="278.61" width="1.90" height="0.99" fill="#3d6b3f"/>
<rect x="392.50" y="273.09" width="1.90" height="5.53" fill="#6fcfb5"/>
<rect x="392.50" y="272.30" width="1.90" height="0.79" fill="#b3de76"/>
<rect x="395.00" y="185.50" width="1.90" height="25.80" fill="#4a95c2"/>
<rect x="395.00" y="220.40" width="1.90" height="59.20" fill="#4a95c2"/>
<rect x="395.00" y="278.61" width="1.90" height="0.99" fill="#3d6b3f"/>
<rect x="395.00" y="273.09" width="1.90" height="5.53" fill="#6fcfb5"/>
<rect x="395.00" y="272.30" width="1.90" height="0.79" fill="#b3de76"/>
<text x="393.50" y="280.6" font-size="2.75" fill="#666" stroke="#666" stroke-width="0.06" text-anchor="end" transform="rotate(-90 393.50 280.6)" dy="0.95">HG00150 hap1</text>
<text x="395.90" y="280.6" font-size="2.75" fill="#666" stroke="#666" stroke-width="0.06" text-anchor="end" transform="rotate(-90 395.90 280.6)" dy="0.95">HG00161 hap2</text>
<rect x="399.80" y="181.47" width="1.90" height="29.83" fill="#4a95c2"/>
<rect x="399.80" y="220.40" width="1.90" height="59.20" fill="#4a95c2"/>
<rect x="399.80" y="279.01" width="1.90" height="0.59" fill="#3d6b3f"/>
<rect x="399.80" y="271.90" width="1.90" height="7.10" fill="#6fcfb5"/>
<rect x="399.80" y="271.11" width="1.90" height="0.79" fill="#b3de76"/>
<rect x="399.80" y="269.93" width="1.90" height="1.18" fill="#f29a7c"/>
<rect x="402.30" y="204.46" width="1.90" height="6.84" fill="#4a95c2"/>
<rect x="402.30" y="220.40" width="1.90" height="59.20" fill="#4a95c2"/>
<rect x="402.30" y="279.40" width="1.90" height="0.20" fill="#3d6b3f"/>
<rect x="402.30" y="273.48" width="1.90" height="5.92" fill="#6fcfb5"/>
<rect x="402.30" y="272.30" width="1.90" height="1.18" fill="#b3de76"/>
<rect x="402.30" y="271.71" width="1.90" height="0.59" fill="#f29a7c"/>
<text x="400.80" y="280.6" font-size="2.75" fill="#666" stroke="#666" stroke-width="0.06" text-anchor="end" transform="rotate(-90 400.80 280.6)" dy="0.95">HG00187 hap1</text>
<text x="403.20" y="280.6" font-size="2.75" fill="#666" stroke="#666" stroke-width="0.06" text-anchor="end" transform="rotate(-90 403.20 280.6)" dy="0.95">HG00198 hap2</text>
<rect x="407.10" y="204.46" width="1.90" height="6.84" fill="#4a95c2"/>
<rect x="407.10" y="220.40" width="1.90" height="59.20" fill="#4a95c2"/>
<rect x="407.10" y="277.82" width="1.90" height="1.78" fill="#3d6b3f"/>
<rect x="407.10" y="267.37" width="1.90" height="10.46" fill="#6fcfb5"/>
<rect x="407.10" y="266.18" width="1.90" height="1.18" fill="#b3de76"/>
<rect x="407.10" y="265.00" width="1.90" height="1.18" fill="#f29a7c"/>
<rect x="409.60" y="182.55" width="1.90" height="28.75" fill="#4a95c2"/>
<rect x="409.60" y="220.40" width="1.90" height="59.20" fill="#4a95c2"/>
<rect x="409.60" y="279.01" width="1.90" height="0.59" fill="#3d6b3f"/>
<rect x="409.60" y="269.14" width="1.90" height="9.87" fill="#6fcfb5"/>
<rect x="409.60" y="268.15" width="1.90" height="0.99" fill="#b3de76"/>
<rect x="409.60" y="267.17" width="1.90" height="0.99" fill="#f29a7c"/>
<text x="408.10" y="280.6" font-size="2.75" fill="#666" stroke="#666" stroke-width="0.06" text-anchor="end" transform="rotate(-90 408.10 280.6)" dy="0.95">HG00224 hap1</text>
<text x="410.50" y="280.6" font-size="2.75" fill="#666" stroke="#666" stroke-width="0.06" text-anchor="end" transform="rotate(-90 410.50 280.6)" dy="0.95">HG00235 hap2</text>
<rect x="419.10" y="190.41" width="1.90" height="20.89" fill="#4a95c2"/>
<rect x="419.10" y="220.40" width="1.90" height="59.20" fill="#4a95c2"/>
<rect x="419.10" y="278.22" width="1.90" height="1.38" fill="#3d6b3f"/>
<rect x="419.10" y="269.34" width="1.90" height="8.88" fill="#6fcfb5"/>
<rect x="419.10" y="267.37" width="1.90" height="1.97" fill="#b3de76"/>
<rect x="419.10" y="266.18" width="1.90" height="1.18" fill="#f29a7c"/>
<rect x="421.60" y="190.41" width="1.90" height="20.89" fill="#4a95c2"/>
<rect x="421.60" y="220.40" width="1.90" height="59.20" fill="#4a95c2"/>
<rect x="421.60" y="278.42" width="1.90" height="1.18" fill="#3d6b3f"/>
<rect x="421.60" y="268.94" width="1.90" height="9.47" fill="#6fcfb5"/>
<rect x="421.60" y="265.00" width="1.90" height="3.95" fill="#b3de76"/>
<rect x="421.60" y="263.22" width="1.90" height="1.78" fill="#f29a7c"/>
<text x="420.10" y="280.6" font-size="2.75" fill="#666" stroke="#666" stroke-width="0.06" text-anchor="end" transform="rotate(-90 420.10 280.6)" dy="0.95">HG00261 hap1</text>
<text x="422.50" y="280.6" font-size="2.75" fill="#666" stroke="#666" stroke-width="0.06" text-anchor="end" transform="rotate(-90 422.50 280.6)" dy="0.95">HG00272 hap2</text>
<line x1="26.60" y1="171.00" x2="26.60" y2="210.30" stroke="#444" stroke-width="0.6"/>
<line x1="26.60" y1="220.40" x2="26.60" y2="279.60" stroke="#444" stroke-width="0.6"/>
<line x1="26.60" y1="279.60" x2="423.50" y2="279.60" stroke="#444" stroke-width="0.6"/>
<line x1="23.80" y1="171.35" x2="26.60" y2="171.35" stroke="#444" stroke-width="0.5"/>
<text x="23.30" y="172.65" font-size="3.6" text-anchor="end" fill="#141414" stroke="#141414" stroke-width="0.18">3200</text>
<line x1="23.80" y1="181.18" x2="26.60" y2="181.18" stroke="#444" stroke-width="0.5"/>
<text x="23.30" y="182.47" font-size="3.6" text-anchor="end" fill="#141414" stroke="#141414" stroke-width="0.18">3100</text>
<line x1="23.80" y1="191.00" x2="26.60" y2="191.00" stroke="#444" stroke-width="0.5"/>
<text x="23.30" y="192.30" font-size="3.6" text-anchor="end" fill="#141414" stroke="#141414" stroke-width="0.18">3000</text>
<line x1="23.80" y1="200.82" x2="26.60" y2="200.82" stroke="#444" stroke-width="0.5"/>
<text x="23.30" y="202.12" font-size="3.6" text-anchor="end" fill="#141414" stroke="#141414" stroke-width="0.18">2900</text>
<line x1="23.80" y1="210.65" x2="26.60" y2="210.65" stroke="#444" stroke-width="0.5"/>
<text x="23.30" y="211.95" font-size="3.6" text-anchor="end" fill="#141414" stroke="#141414" stroke-width="0.18">2800</text>
<line x1="23.80" y1="220.40" x2="26.60" y2="220.40" stroke="#444" stroke-width="0.5"/>
<text x="23.30" y="221.70" font-size="3.6" text-anchor="end" fill="#141414" stroke="#141414" stroke-width="0.18">150</text>
<line x1="23.80" y1="230.27" x2="26.60" y2="230.27" stroke="#444" stroke-width="0.5"/>
<text x="23.30" y="231.56" font-size="3.6" text-anchor="end" fill="#141414" stroke="#141414" stroke-width="0.18">125</text>
<line x1="23.80" y1="240.13" x2="26.60" y2="240.13" stroke="#444" stroke-width="0.5"/>
<text x="23.30" y="241.43" font-size="3.6" text-anchor="end" fill="#141414" stroke="#141414" stroke-width="0.18">100</text>
<line x1="23.80" y1="250.00" x2="26.60" y2="250.00" stroke="#444" stroke-width="0.5"/>
<text x="23.30" y="251.30" font-size="3.6" text-anchor="end" fill="#141414" stroke="#141414" stroke-width="0.18">75</text>
<line x1="23.80" y1="259.87" x2="26.60" y2="259.87" stroke="#444" stroke-width="0.5"/>
<text x="23.30" y="261.16" font-size="3.6" text-anchor="end" fill="#141414" stroke="#141414" stroke-width="0.18">50</text>
<line x1="23.80" y1="269.73" x2="26.60" y2="269.73" stroke="#444" stroke-width="0.5"/>
<text x="23.30" y="271.03" font-size="3.6" text-anchor="end" fill="#141414" stroke="#141414" stroke-width="0.18">25</text>
<line x1="23.80" y1="279.60" x2="26.60" y2="279.60" stroke="#444" stroke-width="0.5"/>
<text x="23.30" y="280.90" font-size="3.6" text-anchor="end" fill="#141414" stroke="#141414" stroke-width="0.18">0</text>
<text x="9.50" y="230.76" font-size="4.9" text-anchor="middle" fill="#141414" font-weight="bold" transform="rotate(-90 9.50 229.00)" stroke="#141414" stroke-width="0.18">Total length (Mb)</text>
<line x1="378.00" y1="152.40" x2="386.60" y2="152.40" stroke="#4a95c2" stroke-width="1.3"/>
<text x="390.80" y="153.88" font-size="4.1" text-anchor="start" fill="#141414" stroke="#141414" stroke-width="0.18">Haploid</text>
<line x1="378.00" y1="157.00" x2="386.60" y2="157.00" stroke="#f29a7c" stroke-width="1.3"/>
<text x="390.80" y="158.48" font-size="4.1" text-anchor="start" fill="#141414" stroke="#141414" stroke-width="0.18">Unknown</text>
<line x1="378.00" y1="161.60" x2="386.60" y2="161.60" stroke="#b3de76" stroke-width="1.3"/>
<text x="390.80" y="163.08" font-size="4.1" text-anchor="start" fill="#141414" stroke="#141414" stroke-width="0.18">Collapsed</text>
<line x1="378.00" y1="166.20" x2="386.60" y2="166.20" stroke="#6fcfb5" stroke-width="1.3"/>
<text x="390.80" y="167.68" font-size="4.1" text-anchor="start" fill="#141414" stroke="#141414" stroke-width="0.18">Duplicated</text>
<line x1="378.00" y1="170.80" x2="386.60" y2="170.80" stroke="#3d6b3f" stroke-width="1.3"/>
<text x="390.80" y="172.28" font-size="4.1" text-anchor="start" fill="#141414" stroke="#141414" stroke-width="0.18">Erroneous</text>
<path d="M27.3,301.5V305.2H236.5V301.5" fill="none" stroke="#777" stroke-width="0.6"/>
<path d="M239.1,301.5V305.2H411.5V301.5" fill="none" stroke="#777" stroke-width="0.6"/>
<text x="133.50" y="310.09" font-size="4.7" text-anchor="middle" fill="#333" stroke="#333" stroke-width="0.18">Female</text>
<text x="326.80" y="310.09" font-size="4.7" text-anchor="middle" fill="#333" stroke="#333" stroke-width="0.18">Male</text>
<text x="430.77" y="161.20" font-size="13.4" font-weight="bold" fill="#1a1a1a" class="pl">f.</text>
<circle cx="481.00" cy="180.54" r="0.68" fill="#4572c0"/>
<circle cx="482.17" cy="181.04" r="0.68" fill="#4572c0"/>
<circle cx="483.33" cy="180.98" r="0.68" fill="#4572c0"/>
<circle cx="484.50" cy="180.63" r="0.68" fill="#4572c0"/>
<circle cx="485.67" cy="180.80" r="0.68" fill="#4572c0"/>
<circle cx="486.83" cy="180.76" r="0.68" fill="#4572c0"/>
<circle cx="488.00" cy="180.91" r="0.68" fill="#4572c0"/>
<circle cx="489.17" cy="181.00" r="0.68" fill="#4572c0"/>
<circle cx="490.33" cy="180.52" r="0.68" fill="#4572c0"/>
<circle cx="491.50" cy="180.47" r="0.68" fill="#4572c0"/>
<circle cx="492.67" cy="181.04" r="0.68" fill="#4572c0"/>
<circle cx="493.83" cy="180.75" r="0.68" fill="#4572c0"/>
<circle cx="495.00" cy="180.98" r="0.68" fill="#4572c0"/>
<circle cx="476.30" cy="181.95" r="0.68" fill="#4572c0"/>
<circle cx="477.49" cy="182.26" r="0.68" fill="#4572c0"/>
<circle cx="478.69" cy="182.46" r="0.68" fill="#4572c0"/>
<circle cx="479.88" cy="182.11" r="0.68" fill="#4572c0"/>
<circle cx="481.08" cy="182.61" r="0.68" fill="#4572c0"/>
<circle cx="482.27" cy="182.58" r="0.68" fill="#4572c0"/>
<circle cx="483.47" cy="181.97" r="0.68" fill="#4572c0"/>
<circle cx="484.66" cy="181.97" r="0.68" fill="#4572c0"/>
<circle cx="485.86" cy="182.33" r="0.68" fill="#4572c0"/>
<circle cx="487.05" cy="182.61" r="0.68" fill="#4572c0"/>
<circle cx="488.25" cy="182.22" r="0.68" fill="#4572c0"/>
<circle cx="489.44" cy="182.10" r="0.68" fill="#4572c0"/>
<circle cx="490.64" cy="182.25" r="0.68" fill="#4572c0"/>
<circle cx="491.83" cy="181.97" r="0.68" fill="#4572c0"/>
<circle cx="493.03" cy="182.11" r="0.68" fill="#4572c0"/>
<circle cx="494.22" cy="182.26" r="0.68" fill="#4572c0"/>
<circle cx="495.42" cy="182.30" r="0.68" fill="#4572c0"/>
<circle cx="496.61" cy="182.11" r="0.68" fill="#4572c0"/>
<circle cx="497.81" cy="182.11" r="0.68" fill="#4572c0"/>
<circle cx="499.00" cy="182.10" r="0.68" fill="#4572c0"/>
<circle cx="467.60" cy="184.07" r="0.68" fill="#4572c0"/>
<circle cx="468.80" cy="183.95" r="0.68" fill="#4572c0"/>
<circle cx="470.01" cy="183.77" r="0.68" fill="#4572c0"/>
<circle cx="471.21" cy="184.34" r="0.68" fill="#4572c0"/>
<circle cx="472.41" cy="184.14" r="0.68" fill="#4572c0"/>
<circle cx="473.62" cy="184.20" r="0.68" fill="#4572c0"/>
<circle cx="474.82" cy="183.88" r="0.68" fill="#4572c0"/>
<circle cx="476.02" cy="184.44" r="0.68" fill="#4572c0"/>
<circle cx="477.22" cy="184.35" r="0.68" fill="#4572c0"/>
<circle cx="478.43" cy="183.83" r="0.68" fill="#4572c0"/>
<circle cx="479.63" cy="183.98" r="0.68" fill="#4572c0"/>
<circle cx="480.83" cy="184.26" r="0.68" fill="#4572c0"/>
<circle cx="482.04" cy="184.25" r="0.68" fill="#4572c0"/>
<circle cx="483.24" cy="184.41" r="0.68" fill="#4572c0"/>
<circle cx="484.44" cy="184.05" r="0.68" fill="#4572c0"/>
<circle cx="485.65" cy="184.33" r="0.68" fill="#4572c0"/>
<circle cx="486.85" cy="184.22" r="0.68" fill="#4572c0"/>
<circle cx="488.05" cy="183.96" r="0.68" fill="#4572c0"/>
<circle cx="489.25" cy="184.16" r="0.68" fill="#4572c0"/>
<circle cx="490.46" cy="184.37" r="0.68" fill="#4572c0"/>
<circle cx="491.66" cy="184.34" r="0.68" fill="#4572c0"/>
<circle cx="492.86" cy="184.10" r="0.68" fill="#4572c0"/>
<circle cx="494.07" cy="184.16" r="0.68" fill="#4572c0"/>
<circle cx="495.27" cy="183.77" r="0.68" fill="#4572c0"/>
<circle cx="496.47" cy="183.92" r="0.68" fill="#4572c0"/>
<circle cx="497.68" cy="184.31" r="0.68" fill="#4572c0"/>
<circle cx="498.88" cy="184.04" r="0.68" fill="#4572c0"/>
<circle cx="500.08" cy="183.87" r="0.68" fill="#4572c0"/>
<circle cx="501.28" cy="184.13" r="0.68" fill="#4572c0"/>
<circle cx="502.49" cy="184.24" r="0.68" fill="#4572c0"/>
<circle cx="503.69" cy="184.22" r="0.68" fill="#4572c0"/>
<circle cx="504.89" cy="184.01" r="0.68" fill="#4572c0"/>
<circle cx="506.10" cy="184.06" r="0.68" fill="#4572c0"/>
<circle cx="507.30" cy="184.11" r="0.68" fill="#4572c0"/>
<circle cx="475.20" cy="185.79" r="0.68" fill="#4572c0"/>
<circle cx="476.39" cy="185.61" r="0.68" fill="#4572c0"/>
<circle cx="477.58" cy="185.53" r="0.68" fill="#4572c0"/>
<circle cx="478.77" cy="185.59" r="0.68" fill="#4572c0"/>
<circle cx="479.97" cy="185.27" r="0.68" fill="#4572c0"/>
<circle cx="481.16" cy="185.28" r="0.68" fill="#4572c0"/>
<circle cx="482.35" cy="185.74" r="0.68" fill="#4572c0"/>
<circle cx="483.54" cy="185.94" r="0.68" fill="#4572c0"/>
<circle cx="484.73" cy="185.67" r="0.68" fill="#4572c0"/>
<circle cx="485.92" cy="185.53" r="0.68" fill="#4572c0"/>
<circle cx="487.11" cy="185.37" r="0.68" fill="#4572c0"/>
<circle cx="488.30" cy="185.60" r="0.68" fill="#4572c0"/>
<circle cx="489.50" cy="185.94" r="0.68" fill="#4572c0"/>
<circle cx="490.69" cy="185.79" r="0.68" fill="#4572c0"/>
<circle cx="491.88" cy="185.63" r="0.68" fill="#4572c0"/>
<circle cx="493.07" cy="185.85" r="0.68" fill="#4572c0"/>
<circle cx="494.26" cy="185.41" r="0.68" fill="#4572c0"/>
<circle cx="495.45" cy="185.61" r="0.68" fill="#4572c0"/>
<circle cx="496.64" cy="185.92" r="0.68" fill="#4572c0"/>
<circle cx="497.83" cy="185.65" r="0.68" fill="#4572c0"/>
<circle cx="499.03" cy="185.57" r="0.68" fill="#4572c0"/>
<circle cx="500.22" cy="185.44" r="0.68" fill="#4572c0"/>
<circle cx="501.41" cy="185.63" r="0.68" fill="#4572c0"/>
<circle cx="502.60" cy="185.92" r="0.68" fill="#4572c0"/>
<circle cx="480.00" cy="187.05" r="0.68" fill="#4572c0"/>
<circle cx="481.21" cy="187.60" r="0.68" fill="#4572c0"/>
<circle cx="482.42" cy="187.62" r="0.68" fill="#4572c0"/>
<circle cx="483.62" cy="187.67" r="0.68" fill="#4572c0"/>
<circle cx="484.83" cy="187.57" r="0.68" fill="#4572c0"/>
<circle cx="486.04" cy="187.62" r="0.68" fill="#4572c0"/>
<circle cx="487.25" cy="187.41" r="0.68" fill="#4572c0"/>
<circle cx="488.45" cy="187.44" r="0.68" fill="#4572c0"/>
<circle cx="489.66" cy="187.35" r="0.68" fill="#4572c0"/>
<circle cx="490.87" cy="187.09" r="0.68" fill="#4572c0"/>
<circle cx="492.08" cy="187.66" r="0.68" fill="#4572c0"/>
<circle cx="493.28" cy="187.45" r="0.68" fill="#4572c0"/>
<circle cx="494.49" cy="187.19" r="0.68" fill="#4572c0"/>
<circle cx="495.70" cy="187.40" r="0.68" fill="#4572c0"/>
<circle cx="482.50" cy="189.19" r="0.68" fill="#4572c0"/>
<circle cx="483.69" cy="189.10" r="0.68" fill="#4572c0"/>
<circle cx="484.88" cy="189.09" r="0.68" fill="#4572c0"/>
<circle cx="486.06" cy="189.23" r="0.68" fill="#4572c0"/>
<circle cx="487.25" cy="189.29" r="0.68" fill="#4572c0"/>
<circle cx="488.44" cy="189.28" r="0.68" fill="#4572c0"/>
<circle cx="489.62" cy="189.17" r="0.68" fill="#4572c0"/>
<circle cx="490.81" cy="188.87" r="0.68" fill="#4572c0"/>
<circle cx="492.00" cy="189.01" r="0.68" fill="#4572c0"/>
<circle cx="482.00" cy="190.47" r="0.68" fill="#4572c0"/>
<circle cx="483.22" cy="190.76" r="0.68" fill="#4572c0"/>
<circle cx="484.44" cy="190.95" r="0.68" fill="#4572c0"/>
<circle cx="485.67" cy="190.91" r="0.68" fill="#4572c0"/>
<circle cx="486.89" cy="190.91" r="0.68" fill="#4572c0"/>
<circle cx="488.11" cy="190.92" r="0.68" fill="#4572c0"/>
<circle cx="489.33" cy="190.53" r="0.68" fill="#4572c0"/>
<circle cx="490.56" cy="190.94" r="0.68" fill="#4572c0"/>
<circle cx="491.78" cy="190.82" r="0.68" fill="#4572c0"/>
<circle cx="493.00" cy="190.41" r="0.68" fill="#4572c0"/>
<circle cx="484.30" cy="191.46" r="0.68" fill="#4572c0"/>
<circle cx="485.48" cy="191.46" r="0.68" fill="#4572c0"/>
<circle cx="486.66" cy="191.98" r="0.68" fill="#4572c0"/>
<circle cx="487.84" cy="191.62" r="0.68" fill="#4572c0"/>
<circle cx="489.02" cy="191.53" r="0.68" fill="#4572c0"/>
<circle cx="490.20" cy="191.89" r="0.68" fill="#4572c0"/>
<circle cx="485.50" cy="193.09" r="0.68" fill="#4572c0"/>
<circle cx="486.83" cy="192.90" r="0.68" fill="#4572c0"/>
<circle cx="488.17" cy="192.96" r="0.68" fill="#4572c0"/>
<circle cx="489.50" cy="193.22" r="0.68" fill="#4572c0"/>
<circle cx="481.40" cy="194.47" r="0.68" fill="#4572c0"/>
<circle cx="482.57" cy="194.54" r="0.68" fill="#4572c0"/>
<circle cx="483.74" cy="194.85" r="0.68" fill="#4572c0"/>
<circle cx="484.91" cy="194.67" r="0.68" fill="#4572c0"/>
<circle cx="486.08" cy="194.58" r="0.68" fill="#4572c0"/>
<circle cx="487.25" cy="194.68" r="0.68" fill="#4572c0"/>
<circle cx="488.42" cy="194.37" r="0.68" fill="#4572c0"/>
<circle cx="489.59" cy="194.62" r="0.68" fill="#4572c0"/>
<circle cx="490.76" cy="194.64" r="0.68" fill="#4572c0"/>
<circle cx="491.93" cy="194.48" r="0.68" fill="#4572c0"/>
<circle cx="493.10" cy="194.43" r="0.68" fill="#4572c0"/>
<circle cx="484.70" cy="196.48" r="0.68" fill="#4572c0"/>
<circle cx="485.77" cy="196.21" r="0.68" fill="#4572c0"/>
<circle cx="486.85" cy="196.00" r="0.68" fill="#4572c0"/>
<circle cx="487.93" cy="196.27" r="0.68" fill="#4572c0"/>
<circle cx="489.00" cy="196.42" r="0.68" fill="#4572c0"/>
<circle cx="488.00" cy="199.10" r="0.68" fill="#4572c0"/>
<circle cx="487.50" cy="200.60" r="0.68" fill="#4572c0"/>
<circle cx="487.50" cy="202.40" r="0.68" fill="#4572c0"/>
<circle cx="487.00" cy="203.50" r="0.68" fill="#4572c0"/>
<circle cx="488.00" cy="204.60" r="0.68" fill="#4572c0"/>
<circle cx="487.50" cy="205.70" r="0.68" fill="#4572c0"/>
<circle cx="486.50" cy="206.20" r="0.68" fill="#4572c0"/>
<circle cx="487.50" cy="206.80" r="0.68" fill="#4572c0"/>
<circle cx="487.50" cy="211.50" r="0.68" fill="#4572c0"/>
<circle cx="487.50" cy="216.90" r="0.68" fill="#4572c0"/>
<circle cx="487.50" cy="221.30" r="0.68" fill="#4572c0"/>
<circle cx="487.00" cy="247.90" r="0.68" fill="#4572c0"/>
<circle cx="488.00" cy="249.70" r="0.68" fill="#4572c0"/>
<circle cx="487.50" cy="254.90" r="0.68" fill="#4572c0"/>
<circle cx="540.30" cy="183.42" r="0.68" fill="#4572c0"/>
<circle cx="541.58" cy="183.41" r="0.68" fill="#4572c0"/>
<circle cx="542.86" cy="182.79" r="0.68" fill="#4572c0"/>
<circle cx="544.14" cy="182.81" r="0.68" fill="#4572c0"/>
<circle cx="545.42" cy="183.33" r="0.68" fill="#4572c0"/>
<circle cx="546.70" cy="183.27" r="0.68" fill="#4572c0"/>
<circle cx="536.10" cy="184.52" r="0.68" fill="#4572c0"/>
<circle cx="537.27" cy="184.27" r="0.68" fill="#4572c0"/>
<circle cx="538.45" cy="184.47" r="0.68" fill="#4572c0"/>
<circle cx="539.62" cy="184.47" r="0.68" fill="#4572c0"/>
<circle cx="540.79" cy="184.46" r="0.68" fill="#4572c0"/>
<circle cx="541.96" cy="184.16" r="0.68" fill="#4572c0"/>
<circle cx="543.14" cy="184.35" r="0.68" fill="#4572c0"/>
<circle cx="544.31" cy="184.33" r="0.68" fill="#4572c0"/>
<circle cx="545.48" cy="184.56" r="0.68" fill="#4572c0"/>
<circle cx="546.65" cy="184.75" r="0.68" fill="#4572c0"/>
<circle cx="547.83" cy="184.71" r="0.68" fill="#4572c0"/>
<circle cx="549.00" cy="184.43" r="0.68" fill="#4572c0"/>
<circle cx="527.10" cy="186.16" r="0.68" fill="#4572c0"/>
<circle cx="528.32" cy="186.04" r="0.68" fill="#4572c0"/>
<circle cx="529.54" cy="185.88" r="0.68" fill="#4572c0"/>
<circle cx="530.75" cy="185.87" r="0.68" fill="#4572c0"/>
<circle cx="531.97" cy="186.18" r="0.68" fill="#4572c0"/>
<circle cx="533.19" cy="186.07" r="0.68" fill="#4572c0"/>
<circle cx="534.41" cy="186.12" r="0.68" fill="#4572c0"/>
<circle cx="535.62" cy="186.47" r="0.68" fill="#4572c0"/>
<circle cx="536.84" cy="186.22" r="0.68" fill="#4572c0"/>
<circle cx="538.06" cy="186.24" r="0.68" fill="#4572c0"/>
<circle cx="539.28" cy="186.02" r="0.68" fill="#4572c0"/>
<circle cx="540.50" cy="185.87" r="0.68" fill="#4572c0"/>
<circle cx="541.71" cy="186.08" r="0.68" fill="#4572c0"/>
<circle cx="542.93" cy="185.95" r="0.68" fill="#4572c0"/>
<circle cx="544.15" cy="186.21" r="0.68" fill="#4572c0"/>
<circle cx="545.37" cy="186.55" r="0.68" fill="#4572c0"/>
<circle cx="546.59" cy="186.32" r="0.68" fill="#4572c0"/>
<circle cx="547.80" cy="185.98" r="0.68" fill="#4572c0"/>
<circle cx="549.02" cy="186.48" r="0.68" fill="#4572c0"/>
<circle cx="550.24" cy="186.41" r="0.68" fill="#4572c0"/>
<circle cx="551.46" cy="186.36" r="0.68" fill="#4572c0"/>
<circle cx="552.68" cy="186.48" r="0.68" fill="#4572c0"/>
<circle cx="553.89" cy="186.38" r="0.68" fill="#4572c0"/>
<circle cx="555.11" cy="186.40" r="0.68" fill="#4572c0"/>
<circle cx="556.33" cy="186.10" r="0.68" fill="#4572c0"/>
<circle cx="557.55" cy="186.54" r="0.68" fill="#4572c0"/>
<circle cx="558.76" cy="186.52" r="0.68" fill="#4572c0"/>
<circle cx="559.98" cy="185.96" r="0.68" fill="#4572c0"/>
<circle cx="561.20" cy="186.38" r="0.68" fill="#4572c0"/>
<circle cx="531.60" cy="187.75" r="0.68" fill="#4572c0"/>
<circle cx="532.78" cy="187.57" r="0.68" fill="#4572c0"/>
<circle cx="533.97" cy="187.62" r="0.68" fill="#4572c0"/>
<circle cx="535.15" cy="187.59" r="0.68" fill="#4572c0"/>
<circle cx="536.34" cy="187.90" r="0.68" fill="#4572c0"/>
<circle cx="537.52" cy="187.60" r="0.68" fill="#4572c0"/>
<circle cx="538.71" cy="187.83" r="0.68" fill="#4572c0"/>
<circle cx="539.89" cy="187.50" r="0.68" fill="#4572c0"/>
<circle cx="541.07" cy="187.87" r="0.68" fill="#4572c0"/>
<circle cx="542.26" cy="187.88" r="0.68" fill="#4572c0"/>
<circle cx="543.44" cy="187.57" r="0.68" fill="#4572c0"/>
<circle cx="544.63" cy="187.65" r="0.68" fill="#4572c0"/>
<circle cx="545.81" cy="187.89" r="0.68" fill="#4572c0"/>
<circle cx="546.99" cy="187.76" r="0.68" fill="#4572c0"/>
<circle cx="548.18" cy="187.59" r="0.68" fill="#4572c0"/>
<circle cx="549.36" cy="187.41" r="0.68" fill="#4572c0"/>
<circle cx="550.55" cy="187.48" r="0.68" fill="#4572c0"/>
<circle cx="551.73" cy="187.74" r="0.68" fill="#4572c0"/>
<circle cx="552.92" cy="187.37" r="0.68" fill="#4572c0"/>
<circle cx="554.10" cy="187.89" r="0.68" fill="#4572c0"/>
<circle cx="532.30" cy="188.74" r="0.68" fill="#4572c0"/>
<circle cx="533.51" cy="189.19" r="0.68" fill="#4572c0"/>
<circle cx="534.72" cy="188.77" r="0.68" fill="#4572c0"/>
<circle cx="535.93" cy="189.22" r="0.68" fill="#4572c0"/>
<circle cx="537.14" cy="189.04" r="0.68" fill="#4572c0"/>
<circle cx="538.36" cy="188.90" r="0.68" fill="#4572c0"/>
<circle cx="539.57" cy="188.91" r="0.68" fill="#4572c0"/>
<circle cx="540.78" cy="189.01" r="0.68" fill="#4572c0"/>
<circle cx="541.99" cy="188.96" r="0.68" fill="#4572c0"/>
<circle cx="543.20" cy="188.77" r="0.68" fill="#4572c0"/>
<circle cx="544.41" cy="188.70" r="0.68" fill="#4572c0"/>
<circle cx="545.62" cy="188.91" r="0.68" fill="#4572c0"/>
<circle cx="546.83" cy="189.20" r="0.68" fill="#4572c0"/>
<circle cx="548.04" cy="188.99" r="0.68" fill="#4572c0"/>
<circle cx="549.26" cy="188.60" r="0.68" fill="#4572c0"/>
<circle cx="550.47" cy="189.12" r="0.68" fill="#4572c0"/>
<circle cx="551.68" cy="189.06" r="0.68" fill="#4572c0"/>
<circle cx="552.89" cy="189.19" r="0.68" fill="#4572c0"/>
<circle cx="554.10" cy="188.68" r="0.68" fill="#4572c0"/>
<circle cx="534.00" cy="190.37" r="0.68" fill="#4572c0"/>
<circle cx="535.19" cy="189.89" r="0.68" fill="#4572c0"/>
<circle cx="536.38" cy="190.31" r="0.68" fill="#4572c0"/>
<circle cx="537.56" cy="190.04" r="0.68" fill="#4572c0"/>
<circle cx="538.75" cy="190.01" r="0.68" fill="#4572c0"/>
<circle cx="539.94" cy="190.46" r="0.68" fill="#4572c0"/>
<circle cx="541.12" cy="189.92" r="0.68" fill="#4572c0"/>
<circle cx="542.31" cy="190.22" r="0.68" fill="#4572c0"/>
<circle cx="543.50" cy="190.45" r="0.68" fill="#4572c0"/>
<circle cx="544.69" cy="190.02" r="0.68" fill="#4572c0"/>
<circle cx="545.88" cy="190.00" r="0.68" fill="#4572c0"/>
<circle cx="547.06" cy="190.47" r="0.68" fill="#4572c0"/>
<circle cx="548.25" cy="190.15" r="0.68" fill="#4572c0"/>
<circle cx="549.44" cy="190.35" r="0.68" fill="#4572c0"/>
<circle cx="550.62" cy="189.87" r="0.68" fill="#4572c0"/>
<circle cx="551.81" cy="190.10" r="0.68" fill="#4572c0"/>
<circle cx="553.00" cy="189.97" r="0.68" fill="#4572c0"/>
<circle cx="535.80" cy="191.62" r="0.68" fill="#4572c0"/>
<circle cx="537.04" cy="191.21" r="0.68" fill="#4572c0"/>
<circle cx="538.28" cy="191.82" r="0.68" fill="#4572c0"/>
<circle cx="539.52" cy="191.17" r="0.68" fill="#4572c0"/>
<circle cx="540.75" cy="191.66" r="0.68" fill="#4572c0"/>
<circle cx="541.99" cy="191.16" r="0.68" fill="#4572c0"/>
<circle cx="543.23" cy="191.33" r="0.68" fill="#4572c0"/>
<circle cx="544.47" cy="191.72" r="0.68" fill="#4572c0"/>
<circle cx="545.71" cy="191.26" r="0.68" fill="#4572c0"/>
<circle cx="546.95" cy="191.28" r="0.68" fill="#4572c0"/>
<circle cx="548.18" cy="191.63" r="0.68" fill="#4572c0"/>
<circle cx="549.42" cy="191.42" r="0.68" fill="#4572c0"/>
<circle cx="550.66" cy="191.18" r="0.68" fill="#4572c0"/>
<circle cx="551.90" cy="191.84" r="0.68" fill="#4572c0"/>
<circle cx="537.10" cy="192.56" r="0.68" fill="#4572c0"/>
<circle cx="538.26" cy="192.48" r="0.68" fill="#4572c0"/>
<circle cx="539.42" cy="192.69" r="0.68" fill="#4572c0"/>
<circle cx="540.58" cy="192.88" r="0.68" fill="#4572c0"/>
<circle cx="541.73" cy="192.97" r="0.68" fill="#4572c0"/>
<circle cx="542.89" cy="192.53" r="0.68" fill="#4572c0"/>
<circle cx="544.05" cy="192.69" r="0.68" fill="#4572c0"/>
<circle cx="545.21" cy="192.47" r="0.68" fill="#4572c0"/>
<circle cx="546.37" cy="192.76" r="0.68" fill="#4572c0"/>
<circle cx="547.52" cy="192.99" r="0.68" fill="#4572c0"/>
<circle cx="548.68" cy="192.97" r="0.68" fill="#4572c0"/>
<circle cx="549.84" cy="193.08" r="0.68" fill="#4572c0"/>
<circle cx="551.00" cy="192.98" r="0.68" fill="#4572c0"/>
<circle cx="537.70" cy="194.25" r="0.68" fill="#4572c0"/>
<circle cx="538.96" cy="194.14" r="0.68" fill="#4572c0"/>
<circle cx="540.22" cy="193.98" r="0.68" fill="#4572c0"/>
<circle cx="541.48" cy="193.81" r="0.68" fill="#4572c0"/>
<circle cx="542.74" cy="194.11" r="0.68" fill="#4572c0"/>
<circle cx="544.00" cy="193.87" r="0.68" fill="#4572c0"/>
<circle cx="545.26" cy="193.72" r="0.68" fill="#4572c0"/>
<circle cx="546.52" cy="193.96" r="0.68" fill="#4572c0"/>
<circle cx="547.78" cy="194.26" r="0.68" fill="#4572c0"/>
<circle cx="549.04" cy="193.74" r="0.68" fill="#4572c0"/>
<circle cx="550.30" cy="194.06" r="0.68" fill="#4572c0"/>
<circle cx="540.30" cy="195.23" r="0.68" fill="#4572c0"/>
<circle cx="541.54" cy="195.31" r="0.68" fill="#4572c0"/>
<circle cx="542.79" cy="195.05" r="0.68" fill="#4572c0"/>
<circle cx="544.03" cy="195.62" r="0.68" fill="#4572c0"/>
<circle cx="545.27" cy="195.13" r="0.68" fill="#4572c0"/>
<circle cx="546.51" cy="195.37" r="0.68" fill="#4572c0"/>
<circle cx="547.76" cy="195.24" r="0.68" fill="#4572c0"/>
<circle cx="549.00" cy="194.96" r="0.68" fill="#4572c0"/>
<circle cx="541.00" cy="196.64" r="0.68" fill="#4572c0"/>
<circle cx="542.20" cy="196.35" r="0.68" fill="#4572c0"/>
<circle cx="543.40" cy="196.29" r="0.68" fill="#4572c0"/>
<circle cx="544.60" cy="196.27" r="0.68" fill="#4572c0"/>
<circle cx="545.80" cy="196.36" r="0.68" fill="#4572c0"/>
<circle cx="547.00" cy="196.32" r="0.68" fill="#4572c0"/>
<circle cx="541.50" cy="197.99" r="0.68" fill="#4572c0"/>
<circle cx="542.75" cy="197.91" r="0.68" fill="#4572c0"/>
<circle cx="544.00" cy="198.24" r="0.68" fill="#4572c0"/>
<circle cx="545.25" cy="198.20" r="0.68" fill="#4572c0"/>
<circle cx="546.50" cy="198.25" r="0.68" fill="#4572c0"/>
<circle cx="541.50" cy="199.01" r="0.68" fill="#4572c0"/>
<circle cx="542.62" cy="199.16" r="0.68" fill="#4572c0"/>
<circle cx="543.75" cy="199.03" r="0.68" fill="#4572c0"/>
<circle cx="544.88" cy="199.26" r="0.68" fill="#4572c0"/>
<circle cx="546.00" cy="199.29" r="0.68" fill="#4572c0"/>
<circle cx="543.00" cy="200.20" r="0.68" fill="#4572c0"/>
<circle cx="543.70" cy="202.70" r="0.68" fill="#4572c0"/>
<circle cx="543.70" cy="208.80" r="0.68" fill="#4572c0"/>
<circle cx="543.70" cy="212.40" r="0.68" fill="#4572c0"/>
<circle cx="543.70" cy="239.50" r="0.68" fill="#4572c0"/>
<circle cx="543.70" cy="247.90" r="0.68" fill="#4572c0"/>
<circle cx="543.70" cy="266.20" r="0.68" fill="#4572c0"/>
<circle cx="543.70" cy="271.70" r="0.68" fill="#4572c0"/>
<circle cx="587.70" cy="182.02" r="0.68" fill="#4572c0"/>
<circle cx="588.88" cy="182.23" r="0.68" fill="#4572c0"/>
<circle cx="590.05" cy="182.11" r="0.68" fill="#4572c0"/>
<circle cx="591.23" cy="182.27" r="0.68" fill="#4572c0"/>
<circle cx="592.40" cy="182.29" r="0.68" fill="#4572c0"/>
<circle cx="593.58" cy="181.90" r="0.68" fill="#4572c0"/>
<circle cx="594.75" cy="181.86" r="0.68" fill="#4572c0"/>
<circle cx="595.93" cy="182.44" r="0.68" fill="#4572c0"/>
<circle cx="597.10" cy="182.03" r="0.68" fill="#4572c0"/>
<circle cx="598.28" cy="182.01" r="0.68" fill="#4572c0"/>
<circle cx="599.45" cy="182.55" r="0.68" fill="#4572c0"/>
<circle cx="600.62" cy="182.18" r="0.68" fill="#4572c0"/>
<circle cx="601.80" cy="182.44" r="0.68" fill="#4572c0"/>
<circle cx="602.98" cy="182.18" r="0.68" fill="#4572c0"/>
<circle cx="604.15" cy="182.30" r="0.68" fill="#4572c0"/>
<circle cx="605.33" cy="181.96" r="0.68" fill="#4572c0"/>
<circle cx="606.50" cy="182.29" r="0.68" fill="#4572c0"/>
<circle cx="607.68" cy="182.46" r="0.68" fill="#4572c0"/>
<circle cx="608.85" cy="182.22" r="0.68" fill="#4572c0"/>
<circle cx="610.03" cy="182.37" r="0.68" fill="#4572c0"/>
<circle cx="611.20" cy="182.32" r="0.68" fill="#4572c0"/>
<circle cx="577.00" cy="183.49" r="0.68" fill="#4572c0"/>
<circle cx="578.19" cy="183.98" r="0.68" fill="#4572c0"/>
<circle cx="579.38" cy="183.86" r="0.68" fill="#4572c0"/>
<circle cx="580.57" cy="183.66" r="0.68" fill="#4572c0"/>
<circle cx="581.76" cy="183.47" r="0.68" fill="#4572c0"/>
<circle cx="582.95" cy="184.06" r="0.68" fill="#4572c0"/>
<circle cx="584.14" cy="183.78" r="0.68" fill="#4572c0"/>
<circle cx="585.33" cy="183.95" r="0.68" fill="#4572c0"/>
<circle cx="586.52" cy="184.07" r="0.68" fill="#4572c0"/>
<circle cx="587.71" cy="183.95" r="0.68" fill="#4572c0"/>
<circle cx="588.89" cy="184.09" r="0.68" fill="#4572c0"/>
<circle cx="590.08" cy="183.73" r="0.68" fill="#4572c0"/>
<circle cx="591.27" cy="184.01" r="0.68" fill="#4572c0"/>
<circle cx="592.46" cy="183.76" r="0.68" fill="#4572c0"/>
<circle cx="593.65" cy="184.10" r="0.68" fill="#4572c0"/>
<circle cx="594.84" cy="184.07" r="0.68" fill="#4572c0"/>
<circle cx="596.03" cy="183.52" r="0.68" fill="#4572c0"/>
<circle cx="597.22" cy="183.55" r="0.68" fill="#4572c0"/>
<circle cx="598.41" cy="183.60" r="0.68" fill="#4572c0"/>
<circle cx="599.60" cy="184.13" r="0.68" fill="#4572c0"/>
<circle cx="600.79" cy="183.76" r="0.68" fill="#4572c0"/>
<circle cx="601.98" cy="183.89" r="0.68" fill="#4572c0"/>
<circle cx="603.17" cy="183.66" r="0.68" fill="#4572c0"/>
<circle cx="604.36" cy="183.81" r="0.68" fill="#4572c0"/>
<circle cx="605.55" cy="183.72" r="0.68" fill="#4572c0"/>
<circle cx="606.74" cy="183.70" r="0.68" fill="#4572c0"/>
<circle cx="607.93" cy="183.86" r="0.68" fill="#4572c0"/>
<circle cx="609.12" cy="183.86" r="0.68" fill="#4572c0"/>
<circle cx="610.31" cy="184.08" r="0.68" fill="#4572c0"/>
<circle cx="611.49" cy="183.93" r="0.68" fill="#4572c0"/>
<circle cx="612.68" cy="184.10" r="0.68" fill="#4572c0"/>
<circle cx="613.87" cy="184.05" r="0.68" fill="#4572c0"/>
<circle cx="615.06" cy="184.14" r="0.68" fill="#4572c0"/>
<circle cx="616.25" cy="183.92" r="0.68" fill="#4572c0"/>
<circle cx="617.44" cy="183.56" r="0.68" fill="#4572c0"/>
<circle cx="618.63" cy="184.05" r="0.68" fill="#4572c0"/>
<circle cx="619.82" cy="184.13" r="0.68" fill="#4572c0"/>
<circle cx="621.01" cy="184.08" r="0.68" fill="#4572c0"/>
<circle cx="622.20" cy="183.85" r="0.68" fill="#4572c0"/>
<circle cx="589.20" cy="185.15" r="0.68" fill="#4572c0"/>
<circle cx="590.41" cy="184.80" r="0.68" fill="#4572c0"/>
<circle cx="591.63" cy="185.23" r="0.68" fill="#4572c0"/>
<circle cx="592.84" cy="185.05" r="0.68" fill="#4572c0"/>
<circle cx="594.05" cy="184.85" r="0.68" fill="#4572c0"/>
<circle cx="595.27" cy="184.69" r="0.68" fill="#4572c0"/>
<circle cx="596.48" cy="185.25" r="0.68" fill="#4572c0"/>
<circle cx="597.69" cy="185.34" r="0.68" fill="#4572c0"/>
<circle cx="598.91" cy="184.71" r="0.68" fill="#4572c0"/>
<circle cx="600.12" cy="185.21" r="0.68" fill="#4572c0"/>
<circle cx="601.33" cy="184.94" r="0.68" fill="#4572c0"/>
<circle cx="602.55" cy="184.76" r="0.68" fill="#4572c0"/>
<circle cx="603.76" cy="184.86" r="0.68" fill="#4572c0"/>
<circle cx="604.97" cy="185.19" r="0.68" fill="#4572c0"/>
<circle cx="606.19" cy="185.26" r="0.68" fill="#4572c0"/>
<circle cx="607.40" cy="184.68" r="0.68" fill="#4572c0"/>
<circle cx="592.00" cy="186.38" r="0.68" fill="#4572c0"/>
<circle cx="593.23" cy="185.98" r="0.68" fill="#4572c0"/>
<circle cx="594.45" cy="186.45" r="0.68" fill="#4572c0"/>
<circle cx="595.68" cy="186.18" r="0.68" fill="#4572c0"/>
<circle cx="596.91" cy="186.57" r="0.68" fill="#4572c0"/>
<circle cx="598.14" cy="186.64" r="0.68" fill="#4572c0"/>
<circle cx="599.36" cy="186.30" r="0.68" fill="#4572c0"/>
<circle cx="600.59" cy="186.65" r="0.68" fill="#4572c0"/>
<circle cx="601.82" cy="186.17" r="0.68" fill="#4572c0"/>
<circle cx="603.05" cy="186.00" r="0.68" fill="#4572c0"/>
<circle cx="604.27" cy="186.37" r="0.68" fill="#4572c0"/>
<circle cx="605.50" cy="185.97" r="0.68" fill="#4572c0"/>
<circle cx="593.00" cy="187.59" r="0.68" fill="#4572c0"/>
<circle cx="594.17" cy="187.74" r="0.68" fill="#4572c0"/>
<circle cx="595.34" cy="187.88" r="0.68" fill="#4572c0"/>
<circle cx="596.51" cy="187.56" r="0.68" fill="#4572c0"/>
<circle cx="597.68" cy="187.48" r="0.68" fill="#4572c0"/>
<circle cx="598.85" cy="188.06" r="0.68" fill="#4572c0"/>
<circle cx="600.02" cy="187.67" r="0.68" fill="#4572c0"/>
<circle cx="601.19" cy="188.12" r="0.68" fill="#4572c0"/>
<circle cx="602.36" cy="188.08" r="0.68" fill="#4572c0"/>
<circle cx="603.53" cy="187.71" r="0.68" fill="#4572c0"/>
<circle cx="604.70" cy="187.77" r="0.68" fill="#4572c0"/>
<circle cx="593.00" cy="189.51" r="0.68" fill="#4572c0"/>
<circle cx="594.18" cy="189.60" r="0.68" fill="#4572c0"/>
<circle cx="595.36" cy="189.57" r="0.68" fill="#4572c0"/>
<circle cx="596.54" cy="189.54" r="0.68" fill="#4572c0"/>
<circle cx="597.72" cy="189.58" r="0.68" fill="#4572c0"/>
<circle cx="598.90" cy="189.81" r="0.68" fill="#4572c0"/>
<circle cx="600.08" cy="189.50" r="0.68" fill="#4572c0"/>
<circle cx="601.26" cy="189.45" r="0.68" fill="#4572c0"/>
<circle cx="602.44" cy="189.65" r="0.68" fill="#4572c0"/>
<circle cx="603.62" cy="189.32" r="0.68" fill="#4572c0"/>
<circle cx="604.80" cy="189.36" r="0.68" fill="#4572c0"/>
<circle cx="596.00" cy="190.73" r="0.68" fill="#4572c0"/>
<circle cx="597.17" cy="190.41" r="0.68" fill="#4572c0"/>
<circle cx="598.33" cy="190.43" r="0.68" fill="#4572c0"/>
<circle cx="599.50" cy="190.06" r="0.68" fill="#4572c0"/>
<circle cx="600.67" cy="190.34" r="0.68" fill="#4572c0"/>
<circle cx="601.83" cy="190.46" r="0.68" fill="#4572c0"/>
<circle cx="603.00" cy="190.06" r="0.68" fill="#4572c0"/>
<circle cx="596.50" cy="192.38" r="0.68" fill="#4572c0"/>
<circle cx="597.75" cy="192.39" r="0.68" fill="#4572c0"/>
<circle cx="599.00" cy="191.99" r="0.68" fill="#4572c0"/>
<circle cx="600.25" cy="192.39" r="0.68" fill="#4572c0"/>
<circle cx="601.50" cy="192.28" r="0.68" fill="#4572c0"/>
<circle cx="596.00" cy="194.33" r="0.68" fill="#4572c0"/>
<circle cx="597.15" cy="194.10" r="0.68" fill="#4572c0"/>
<circle cx="598.30" cy="194.34" r="0.68" fill="#4572c0"/>
<circle cx="599.45" cy="194.37" r="0.68" fill="#4572c0"/>
<circle cx="600.60" cy="193.87" r="0.68" fill="#4572c0"/>
<circle cx="601.75" cy="193.89" r="0.68" fill="#4572c0"/>
<circle cx="602.90" cy="194.32" r="0.68" fill="#4572c0"/>
<circle cx="597.50" cy="196.22" r="0.68" fill="#4572c0"/>
<circle cx="598.67" cy="195.73" r="0.68" fill="#4572c0"/>
<circle cx="599.83" cy="195.87" r="0.68" fill="#4572c0"/>
<circle cx="601.00" cy="195.96" r="0.68" fill="#4572c0"/>
<circle cx="598.00" cy="197.17" r="0.68" fill="#4572c0"/>
<circle cx="599.25" cy="197.20" r="0.68" fill="#4572c0"/>
<circle cx="600.50" cy="197.17" r="0.68" fill="#4572c0"/>
<circle cx="599.30" cy="199.50" r="0.68" fill="#4572c0"/>
<circle cx="598.00" cy="202.60" r="0.68" fill="#4572c0"/>
<circle cx="600.50" cy="202.60" r="0.68" fill="#4572c0"/>
<circle cx="597.80" cy="204.50" r="0.68" fill="#4572c0"/>
<circle cx="600.50" cy="204.50" r="0.68" fill="#4572c0"/>
<circle cx="598.00" cy="206.00" r="0.68" fill="#4572c0"/>
<circle cx="600.50" cy="206.00" r="0.68" fill="#4572c0"/>
<circle cx="599.30" cy="208.30" r="0.68" fill="#4572c0"/>
<circle cx="599.30" cy="215.60" r="0.68" fill="#4572c0"/>
<circle cx="599.30" cy="218.40" r="0.68" fill="#4572c0"/>
<circle cx="598.80" cy="252.20" r="0.68" fill="#4572c0"/>
<circle cx="599.80" cy="252.80" r="0.68" fill="#4572c0"/>
<circle cx="599.30" cy="262.50" r="0.68" fill="#4572c0"/>
<circle cx="652.00" cy="192.82" r="0.68" fill="#4572c0"/>
<circle cx="653.25" cy="192.72" r="0.68" fill="#4572c0"/>
<circle cx="654.50" cy="192.93" r="0.68" fill="#4572c0"/>
<circle cx="655.75" cy="192.76" r="0.68" fill="#4572c0"/>
<circle cx="657.00" cy="192.70" r="0.68" fill="#4572c0"/>
<circle cx="649.50" cy="194.33" r="0.68" fill="#4572c0"/>
<circle cx="650.75" cy="194.69" r="0.68" fill="#4572c0"/>
<circle cx="652.00" cy="194.61" r="0.68" fill="#4572c0"/>
<circle cx="653.25" cy="194.59" r="0.68" fill="#4572c0"/>
<circle cx="654.50" cy="194.21" r="0.68" fill="#4572c0"/>
<circle cx="655.75" cy="194.43" r="0.68" fill="#4572c0"/>
<circle cx="657.00" cy="194.24" r="0.68" fill="#4572c0"/>
<circle cx="658.25" cy="194.17" r="0.68" fill="#4572c0"/>
<circle cx="659.50" cy="194.12" r="0.68" fill="#4572c0"/>
<circle cx="636.70" cy="196.20" r="0.68" fill="#4572c0"/>
<circle cx="637.90" cy="196.70" r="0.68" fill="#4572c0"/>
<circle cx="639.11" cy="196.63" r="0.68" fill="#4572c0"/>
<circle cx="640.31" cy="196.61" r="0.68" fill="#4572c0"/>
<circle cx="641.51" cy="196.61" r="0.68" fill="#4572c0"/>
<circle cx="642.72" cy="196.19" r="0.68" fill="#4572c0"/>
<circle cx="643.92" cy="196.27" r="0.68" fill="#4572c0"/>
<circle cx="645.12" cy="196.49" r="0.68" fill="#4572c0"/>
<circle cx="646.33" cy="196.56" r="0.68" fill="#4572c0"/>
<circle cx="647.53" cy="196.65" r="0.68" fill="#4572c0"/>
<circle cx="648.73" cy="196.67" r="0.68" fill="#4572c0"/>
<circle cx="649.94" cy="196.11" r="0.68" fill="#4572c0"/>
<circle cx="651.14" cy="196.47" r="0.68" fill="#4572c0"/>
<circle cx="652.34" cy="196.52" r="0.68" fill="#4572c0"/>
<circle cx="653.55" cy="196.40" r="0.68" fill="#4572c0"/>
<circle cx="654.75" cy="196.17" r="0.68" fill="#4572c0"/>
<circle cx="655.95" cy="196.38" r="0.68" fill="#4572c0"/>
<circle cx="657.15" cy="196.11" r="0.68" fill="#4572c0"/>
<circle cx="658.36" cy="196.70" r="0.68" fill="#4572c0"/>
<circle cx="659.56" cy="196.66" r="0.68" fill="#4572c0"/>
<circle cx="660.76" cy="196.43" r="0.68" fill="#4572c0"/>
<circle cx="661.97" cy="196.26" r="0.68" fill="#4572c0"/>
<circle cx="663.17" cy="196.69" r="0.68" fill="#4572c0"/>
<circle cx="664.37" cy="196.45" r="0.68" fill="#4572c0"/>
<circle cx="665.58" cy="196.67" r="0.68" fill="#4572c0"/>
<circle cx="666.78" cy="196.64" r="0.68" fill="#4572c0"/>
<circle cx="667.98" cy="196.41" r="0.68" fill="#4572c0"/>
<circle cx="669.19" cy="196.34" r="0.68" fill="#4572c0"/>
<circle cx="670.39" cy="196.47" r="0.68" fill="#4572c0"/>
<circle cx="671.59" cy="196.35" r="0.68" fill="#4572c0"/>
<circle cx="672.80" cy="196.16" r="0.68" fill="#4572c0"/>
<circle cx="674.00" cy="196.26" r="0.68" fill="#4572c0"/>
<circle cx="643.40" cy="197.62" r="0.68" fill="#4572c0"/>
<circle cx="644.59" cy="197.08" r="0.68" fill="#4572c0"/>
<circle cx="645.79" cy="197.08" r="0.68" fill="#4572c0"/>
<circle cx="646.98" cy="197.49" r="0.68" fill="#4572c0"/>
<circle cx="648.18" cy="197.25" r="0.68" fill="#4572c0"/>
<circle cx="649.37" cy="197.42" r="0.68" fill="#4572c0"/>
<circle cx="650.57" cy="197.38" r="0.68" fill="#4572c0"/>
<circle cx="651.76" cy="197.29" r="0.68" fill="#4572c0"/>
<circle cx="652.96" cy="197.75" r="0.68" fill="#4572c0"/>
<circle cx="654.15" cy="197.19" r="0.68" fill="#4572c0"/>
<circle cx="655.34" cy="197.34" r="0.68" fill="#4572c0"/>
<circle cx="656.54" cy="197.19" r="0.68" fill="#4572c0"/>
<circle cx="657.73" cy="197.49" r="0.68" fill="#4572c0"/>
<circle cx="658.93" cy="197.24" r="0.68" fill="#4572c0"/>
<circle cx="660.12" cy="197.30" r="0.68" fill="#4572c0"/>
<circle cx="661.32" cy="197.57" r="0.68" fill="#4572c0"/>
<circle cx="662.51" cy="197.27" r="0.68" fill="#4572c0"/>
<circle cx="663.71" cy="197.44" r="0.68" fill="#4572c0"/>
<circle cx="664.90" cy="197.68" r="0.68" fill="#4572c0"/>
<circle cx="645.50" cy="198.42" r="0.68" fill="#4572c0"/>
<circle cx="646.67" cy="198.39" r="0.68" fill="#4572c0"/>
<circle cx="647.83" cy="198.51" r="0.68" fill="#4572c0"/>
<circle cx="649.00" cy="198.89" r="0.68" fill="#4572c0"/>
<circle cx="650.17" cy="198.78" r="0.68" fill="#4572c0"/>
<circle cx="651.33" cy="198.52" r="0.68" fill="#4572c0"/>
<circle cx="652.50" cy="198.58" r="0.68" fill="#4572c0"/>
<circle cx="653.67" cy="198.47" r="0.68" fill="#4572c0"/>
<circle cx="654.83" cy="198.67" r="0.68" fill="#4572c0"/>
<circle cx="656.00" cy="198.38" r="0.68" fill="#4572c0"/>
<circle cx="657.17" cy="198.84" r="0.68" fill="#4572c0"/>
<circle cx="658.33" cy="198.98" r="0.68" fill="#4572c0"/>
<circle cx="659.50" cy="199.02" r="0.68" fill="#4572c0"/>
<circle cx="660.67" cy="198.86" r="0.68" fill="#4572c0"/>
<circle cx="661.83" cy="199.02" r="0.68" fill="#4572c0"/>
<circle cx="663.00" cy="198.36" r="0.68" fill="#4572c0"/>
<circle cx="646.50" cy="199.95" r="0.68" fill="#4572c0"/>
<circle cx="647.71" cy="200.43" r="0.68" fill="#4572c0"/>
<circle cx="648.92" cy="200.29" r="0.68" fill="#4572c0"/>
<circle cx="650.12" cy="200.04" r="0.68" fill="#4572c0"/>
<circle cx="651.33" cy="200.41" r="0.68" fill="#4572c0"/>
<circle cx="652.54" cy="200.18" r="0.68" fill="#4572c0"/>
<circle cx="653.75" cy="200.32" r="0.68" fill="#4572c0"/>
<circle cx="654.96" cy="199.96" r="0.68" fill="#4572c0"/>
<circle cx="656.17" cy="199.88" r="0.68" fill="#4572c0"/>
<circle cx="657.38" cy="200.06" r="0.68" fill="#4572c0"/>
<circle cx="658.58" cy="199.85" r="0.68" fill="#4572c0"/>
<circle cx="659.79" cy="200.02" r="0.68" fill="#4572c0"/>
<circle cx="661.00" cy="200.42" r="0.68" fill="#4572c0"/>
<circle cx="647.00" cy="201.28" r="0.68" fill="#4572c0"/>
<circle cx="648.25" cy="201.06" r="0.68" fill="#4572c0"/>
<circle cx="649.50" cy="201.08" r="0.68" fill="#4572c0"/>
<circle cx="650.75" cy="201.17" r="0.68" fill="#4572c0"/>
<circle cx="652.00" cy="201.60" r="0.68" fill="#4572c0"/>
<circle cx="653.25" cy="201.30" r="0.68" fill="#4572c0"/>
<circle cx="654.50" cy="201.25" r="0.68" fill="#4572c0"/>
<circle cx="655.75" cy="201.12" r="0.68" fill="#4572c0"/>
<circle cx="657.00" cy="201.74" r="0.68" fill="#4572c0"/>
<circle cx="658.25" cy="201.35" r="0.68" fill="#4572c0"/>
<circle cx="659.50" cy="201.20" r="0.68" fill="#4572c0"/>
<circle cx="660.75" cy="201.09" r="0.68" fill="#4572c0"/>
<circle cx="662.00" cy="201.09" r="0.68" fill="#4572c0"/>
<circle cx="645.10" cy="202.57" r="0.68" fill="#4572c0"/>
<circle cx="646.29" cy="202.92" r="0.68" fill="#4572c0"/>
<circle cx="647.47" cy="202.55" r="0.68" fill="#4572c0"/>
<circle cx="648.66" cy="202.48" r="0.68" fill="#4572c0"/>
<circle cx="649.85" cy="202.79" r="0.68" fill="#4572c0"/>
<circle cx="651.03" cy="202.62" r="0.68" fill="#4572c0"/>
<circle cx="652.22" cy="203.15" r="0.68" fill="#4572c0"/>
<circle cx="653.41" cy="202.54" r="0.68" fill="#4572c0"/>
<circle cx="654.59" cy="202.82" r="0.68" fill="#4572c0"/>
<circle cx="655.78" cy="202.99" r="0.68" fill="#4572c0"/>
<circle cx="656.97" cy="202.74" r="0.68" fill="#4572c0"/>
<circle cx="658.15" cy="203.14" r="0.68" fill="#4572c0"/>
<circle cx="659.34" cy="202.78" r="0.68" fill="#4572c0"/>
<circle cx="660.53" cy="202.62" r="0.68" fill="#4572c0"/>
<circle cx="661.71" cy="202.74" r="0.68" fill="#4572c0"/>
<circle cx="662.90" cy="202.48" r="0.68" fill="#4572c0"/>
<circle cx="650.00" cy="204.04" r="0.68" fill="#4572c0"/>
<circle cx="651.25" cy="203.92" r="0.68" fill="#4572c0"/>
<circle cx="652.50" cy="204.37" r="0.68" fill="#4572c0"/>
<circle cx="653.75" cy="204.33" r="0.68" fill="#4572c0"/>
<circle cx="655.00" cy="204.10" r="0.68" fill="#4572c0"/>
<circle cx="656.25" cy="203.77" r="0.68" fill="#4572c0"/>
<circle cx="657.50" cy="203.93" r="0.68" fill="#4572c0"/>
<circle cx="658.75" cy="203.92" r="0.68" fill="#4572c0"/>
<circle cx="660.00" cy="203.90" r="0.68" fill="#4572c0"/>
<circle cx="651.00" cy="205.31" r="0.68" fill="#4572c0"/>
<circle cx="652.14" cy="205.76" r="0.68" fill="#4572c0"/>
<circle cx="653.29" cy="205.25" r="0.68" fill="#4572c0"/>
<circle cx="654.43" cy="205.19" r="0.68" fill="#4572c0"/>
<circle cx="655.57" cy="205.80" r="0.68" fill="#4572c0"/>
<circle cx="656.71" cy="205.55" r="0.68" fill="#4572c0"/>
<circle cx="657.86" cy="205.84" r="0.68" fill="#4572c0"/>
<circle cx="659.00" cy="205.43" r="0.68" fill="#4572c0"/>
<circle cx="652.00" cy="207.08" r="0.68" fill="#4572c0"/>
<circle cx="653.20" cy="206.91" r="0.68" fill="#4572c0"/>
<circle cx="654.40" cy="207.00" r="0.68" fill="#4572c0"/>
<circle cx="655.60" cy="206.97" r="0.68" fill="#4572c0"/>
<circle cx="656.80" cy="206.80" r="0.68" fill="#4572c0"/>
<circle cx="658.00" cy="206.52" r="0.68" fill="#4572c0"/>
<circle cx="653.00" cy="207.90" r="0.68" fill="#4572c0"/>
<circle cx="654.33" cy="208.36" r="0.68" fill="#4572c0"/>
<circle cx="655.67" cy="208.38" r="0.68" fill="#4572c0"/>
<circle cx="657.00" cy="208.40" r="0.68" fill="#4572c0"/>
<circle cx="653.50" cy="209.39" r="0.68" fill="#4572c0"/>
<circle cx="654.75" cy="209.61" r="0.68" fill="#4572c0"/>
<circle cx="656.00" cy="209.71" r="0.68" fill="#4572c0"/>
<circle cx="654.80" cy="212.50" r="0.68" fill="#4572c0"/>
<circle cx="654.80" cy="218.20" r="0.68" fill="#4572c0"/>
<circle cx="654.80" cy="221.30" r="0.68" fill="#4572c0"/>
<circle cx="654.80" cy="249.80" r="0.68" fill="#4572c0"/>
<circle cx="654.80" cy="264.40" r="0.68" fill="#4572c0"/>
<circle cx="654.80" cy="280.20" r="0.68" fill="#4572c0"/>
<circle cx="654.80" cy="281.50" r="0.68" fill="#4572c0"/>
<line x1="460.40" y1="176.00" x2="460.40" y2="286.00" stroke="#9a9a9a" stroke-width="0.8"/>
<text x="458.70" y="191.06" font-size="4.6" text-anchor="end" fill="#141414" stroke="#141414" stroke-width="0.18">99</text>
<text x="458.70" y="213.96" font-size="4.6" text-anchor="end" fill="#141414" stroke="#141414" stroke-width="0.18">98</text>
<text x="458.70" y="236.86" font-size="4.6" text-anchor="end" fill="#141414" stroke="#141414" stroke-width="0.18">97</text>
<text x="458.70" y="259.76" font-size="4.6" text-anchor="end" fill="#141414" stroke="#141414" stroke-width="0.18">96</text>
<text x="458.70" y="282.66" font-size="4.6" text-anchor="end" fill="#141414" stroke="#141414" stroke-width="0.18">95</text>
<text x="443.00" y="232.70" font-size="6.1" text-anchor="middle" fill="#141414" font-weight="bold" transform="rotate(-90 443.00 230.50)" stroke="#141414" stroke-width="0.18">Percentage annotated</text>
<text x="489.60" y="296.24" font-size="5.1" text-anchor="middle" fill="#141414" stroke="#141414" stroke-width="0.25">Protein coding</text>
<text x="489.60" y="303.74" font-size="5.1" text-anchor="middle" fill="#141414" stroke="#141414" stroke-width="0.25">genes mapped</text>
<text x="544.30" y="296.24" font-size="5.1" text-anchor="middle" fill="#141414" stroke="#141414" stroke-width="0.25">Non-coding</text>
<text x="544.30" y="303.74" font-size="5.1" text-anchor="middle" fill="#141414" stroke="#141414" stroke-width="0.25">genes mapped</text>
<text x="599.40" y="296.24" font-size="5.1" text-anchor="middle" fill="#141414" stroke="#141414" stroke-width="0.25">Protein coding</text>
<text x="599.40" y="303.74" font-size="5.1" text-anchor="middle" fill="#141414" stroke="#141414" stroke-width="0.25">transcripts mapped</text>
<text x="655.20" y="296.24" font-size="5.1" text-anchor="middle" fill="#141414" stroke="#141414" stroke-width="0.25">Non-coding</text>
<text x="655.20" y="303.74" font-size="5.1" text-anchor="middle" fill="#141414" stroke="#141414" stroke-width="0.25">transcripts mapped</text>
<text x="0.65" y="327.40" font-size="13.4" font-weight="bold" fill="#1a1a1a" class="pl">g.</text>
<rect x="29.40" y="327.00" width="139.30" height="132.10" fill="none" stroke="#e6e6e6" stroke-width="0.7"/>
<rect x="29.40" y="442.65" width="1.62" height="16.45" fill="#a2a3ca"/>
<rect x="31.00" y="441.03" width="2.12" height="18.07" fill="#5a5c9c"/>
<rect x="33.10" y="440.69" width="2.05" height="18.41" fill="#a2a3ca"/>
<rect x="35.13" y="440.43" width="2.12" height="18.67" fill="#5a5c9c"/>
<rect x="37.23" y="440.27" width="2.05" height="18.83" fill="#a2a3ca"/>
<rect x="39.26" y="439.31" width="2.12" height="19.79" fill="#5a5c9c"/>
<rect x="41.36" y="438.10" width="2.05" height="21.00" fill="#a2a3ca"/>
<rect x="43.39" y="437.33" width="2.12" height="21.77" fill="#5a5c9c"/>
<rect x="45.49" y="436.77" width="2.05" height="22.33" fill="#a2a3ca"/>
<rect x="47.52" y="436.38" width="2.12" height="22.72" fill="#5a5c9c"/>
<rect x="49.62" y="436.33" width="2.05" height="22.77" fill="#a2a3ca"/>
<rect x="51.65" y="436.12" width="2.12" height="22.98" fill="#5a5c9c"/>
<rect x="53.75" y="435.74" width="2.05" height="23.36" fill="#a2a3ca"/>
<rect x="55.78" y="435.14" width="2.12" height="23.96" fill="#5a5c9c"/>
<rect x="57.88" y="434.14" width="2.05" height="24.96" fill="#a2a3ca"/>
<rect x="59.91" y="433.55" width="2.12" height="25.55" fill="#5a5c9c"/>
<rect x="62.01" y="433.45" width="2.05" height="25.65" fill="#a2a3ca"/>
<rect x="64.04" y="433.15" width="2.12" height="25.95" fill="#5a5c9c"/>
<rect x="66.14" y="432.67" width="2.05" height="26.43" fill="#a2a3ca"/>
<rect x="68.17" y="432.38" width="2.12" height="26.72" fill="#5a5c9c"/>
<rect x="70.27" y="432.33" width="2.05" height="26.77" fill="#a2a3ca"/>
<rect x="72.30" y="432.11" width="2.12" height="26.99" fill="#5a5c9c"/>
<rect x="74.40" y="431.73" width="2.05" height="27.37" fill="#a2a3ca"/>
<rect x="76.43" y="431.48" width="2.12" height="27.62" fill="#5a5c9c"/>
<rect x="78.53" y="431.43" width="2.05" height="27.67" fill="#a2a3ca"/>
<rect x="80.56" y="431.14" width="2.12" height="27.96" fill="#5a5c9c"/>
<rect x="82.66" y="430.61" width="2.05" height="28.49" fill="#a2a3ca"/>
<rect x="84.69" y="430.50" width="2.12" height="28.60" fill="#5a5c9c"/>
<rect x="86.79" y="430.40" width="2.05" height="28.70" fill="#a2a3ca"/>
<rect x="88.82" y="430.30" width="2.12" height="28.80" fill="#5a5c9c"/>
<rect x="90.92" y="430.20" width="2.05" height="28.90" fill="#a2a3ca"/>
<rect x="92.95" y="429.63" width="2.12" height="29.47" fill="#5a5c9c"/>
<rect x="95.05" y="429.03" width="2.05" height="30.07" fill="#a2a3ca"/>
<rect x="97.08" y="428.44" width="2.12" height="30.66" fill="#5a5c9c"/>
<rect x="99.18" y="427.87" width="2.05" height="31.23" fill="#a2a3ca"/>
<rect x="101.21" y="427.61" width="2.12" height="31.49" fill="#5a5c9c"/>
<rect x="103.31" y="427.34" width="2.05" height="31.76" fill="#a2a3ca"/>
<rect x="105.34" y="427.07" width="2.12" height="32.03" fill="#5a5c9c"/>
<rect x="107.44" y="426.80" width="2.05" height="32.30" fill="#a2a3ca"/>
<rect x="109.47" y="426.53" width="2.12" height="32.57" fill="#5a5c9c"/>
<rect x="111.57" y="426.26" width="2.05" height="32.84" fill="#a2a3ca"/>
<rect x="113.60" y="426.00" width="2.12" height="33.10" fill="#5a5c9c"/>
<rect x="115.70" y="425.73" width="2.05" height="33.37" fill="#a2a3ca"/>
<rect x="117.73" y="425.46" width="2.12" height="33.64" fill="#5a5c9c"/>
<rect x="119.83" y="424.97" width="2.05" height="34.13" fill="#a2a3ca"/>
<rect x="121.86" y="424.17" width="2.12" height="34.93" fill="#5a5c9c"/>
<rect x="123.96" y="423.37" width="2.05" height="35.73" fill="#a2a3ca"/>
<rect x="125.99" y="422.57" width="2.12" height="36.53" fill="#5a5c9c"/>
<rect x="128.09" y="421.79" width="2.05" height="37.31" fill="#a2a3ca"/>
<rect x="130.12" y="421.02" width="2.12" height="38.08" fill="#5a5c9c"/>
<rect x="132.22" y="420.26" width="2.05" height="38.84" fill="#a2a3ca"/>
<rect x="134.25" y="419.45" width="2.12" height="39.65" fill="#5a5c9c"/>
<rect x="136.35" y="418.45" width="2.05" height="40.65" fill="#a2a3ca"/>
<rect x="138.38" y="417.45" width="2.12" height="41.65" fill="#5a5c9c"/>
<rect x="140.48" y="416.45" width="2.05" height="42.65" fill="#a2a3ca"/>
<rect x="142.51" y="415.69" width="2.12" height="43.41" fill="#5a5c9c"/>
<rect x="144.61" y="415.02" width="2.05" height="44.08" fill="#a2a3ca"/>
<rect x="146.64" y="414.35" width="2.12" height="44.75" fill="#5a5c9c"/>
<rect x="148.74" y="413.68" width="2.05" height="45.42" fill="#a2a3ca"/>
<rect x="150.77" y="412.02" width="2.12" height="47.08" fill="#5a5c9c"/>
<rect x="152.87" y="410.23" width="2.05" height="48.87" fill="#a2a3ca"/>
<rect x="154.90" y="408.44" width="2.12" height="50.66" fill="#5a5c9c"/>
<rect x="157.00" y="403.42" width="2.05" height="55.68" fill="#a2a3ca"/>
<rect x="159.03" y="398.99" width="2.12" height="60.11" fill="#5a5c9c"/>
<rect x="161.13" y="387.78" width="2.05" height="71.32" fill="#a2a3ca"/>
<rect x="163.16" y="382.82" width="2.12" height="76.28" fill="#5a5c9c"/>
<rect x="165.26" y="373.40" width="1.06" height="85.70" fill="#a2a3ca"/>
<rect x="166.30" y="370.10" width="1.30" height="89.00" fill="#7072aa"/>
<rect x="167.60" y="334.10" width="1.10" height="125.00" fill="#5a5c9c"/>
<text x="28.00" y="341.26" font-size="6.0" text-anchor="end" fill="#141414" stroke="#141414" stroke-width="0.18">120</text>
<text x="28.00" y="361.26" font-size="6.0" text-anchor="end" fill="#141414" stroke="#141414" stroke-width="0.18">100</text>
<text x="28.00" y="381.26" font-size="6.0" text-anchor="end" fill="#141414" stroke="#141414" stroke-width="0.18">80</text>
<text x="28.00" y="401.26" font-size="6.0" text-anchor="end" fill="#141414" stroke="#141414" stroke-width="0.18">60</text>
<text x="28.00" y="421.26" font-size="6.0" text-anchor="end" fill="#141414" stroke="#141414" stroke-width="0.18">40</text>
<text x="28.00" y="441.26" font-size="6.0" text-anchor="end" fill="#141414" stroke="#141414" stroke-width="0.18">20</text>
<text x="28.00" y="461.26" font-size="6.0" text-anchor="end" fill="#141414" stroke="#141414" stroke-width="0.18">0</text>
<text x="11.00" y="399.78" font-size="6.6" text-anchor="middle" fill="#141414" font-weight="bold" transform="rotate(-90 11.00 397.40)" stroke="#141414" stroke-width="0.18">Duplicated genes per genome</text>
<text x="94.60" y="467.90" font-size="6.1" text-anchor="middle" fill="#141414" font-weight="bold" stroke="#141414" stroke-width="0.18">Genome by number of duplications</text>
<text x="183.76" y="328.00" font-size="13.4" font-weight="bold" fill="#1a1a1a" class="pl">h.</text>
<defs><clipPath id="cH"><circle cx="235.7" cy="375.8" r="33.4"/></clipPath><clipPath id="cU"><circle cx="287.4" cy="375.9" r="36.8"/></clipPath><clipPath id="cC"><circle cx="267.3" cy="419.9" r="35.8"/></clipPath></defs>
<circle cx="235.7" cy="375.8" r="33.4" fill="#f2a7a6"/>
<circle cx="287.4" cy="375.9" r="36.8" fill="#acdcac"/>
<circle cx="267.3" cy="419.9" r="35.8" fill="#a9adfd"/>
<g clip-path="url(#cH)"><circle cx="287.4" cy="375.9" r="36.8" fill="#dfc7a5"/></g>
<g clip-path="url(#cH)"><circle cx="267.3" cy="419.9" r="35.8" fill="#e1aaef"/></g>
<g clip-path="url(#cU)"><circle cx="267.3" cy="419.9" r="35.8" fill="#accee6"/></g>
<g clip-path="url(#cH)"><g clip-path="url(#cU)"><circle cx="267.3" cy="419.9" r="35.8" fill="#cdb9d0"/></g></g>
<text x="211.90" y="342.38" font-size="5.5" text-anchor="middle" fill="#141414" stroke="#141414" stroke-width="0.18">HPRC</text>
<text x="311.90" y="340.58" font-size="5.5" text-anchor="middle" fill="#141414" stroke="#141414" stroke-width="0.18">UPR</text>
<text x="266.90" y="463.38" font-size="5.5" text-anchor="middle" fill="#141414" stroke="#141414" stroke-width="0.18">CPC</text>
<text x="218.50" y="369.86" font-size="4.6" text-anchor="middle" fill="#333">801</text>
<text x="259.70" y="372.46" font-size="4.6" text-anchor="middle" fill="#333">165</text>
<text x="302.30" y="365.86" font-size="4.6" text-anchor="middle" fill="#333">832</text>
<text x="260.50" y="392.16" font-size="4.6" text-anchor="middle" fill="#333">28</text>
<text x="245.80" y="402.06" font-size="4.6" text-anchor="middle" fill="#333">111</text>
<text x="280.50" y="401.56" font-size="4.6" text-anchor="middle" fill="#333">252</text>
<text x="266.60" y="440.76" font-size="4.6" text-anchor="middle" fill="#333">852</text>
<text x="339.86" y="327.30" font-size="13.4" font-weight="bold" fill="#1a1a1a" class="pl">i.</text>
<svg x="367.4" y="327.2" width="135.10000000000002" height="127.60000000000002" viewBox="367.4 327.2 135.10000000000002 127.60000000000002" overflow="hidden">
<rect x="434.90" y="332.80" width="22.67" height="19.40" fill="#2e2f7f"/>
<rect x="427.91" y="332.80" width="6.99" height="19.40" fill="#e8652b"/>
<rect x="434.90" y="357.10" width="22.67" height="19.40" fill="#2e2f7f"/>
<rect x="427.91" y="357.10" width="6.99" height="19.40" fill="#e8652b"/>
<rect x="434.90" y="381.40" width="22.67" height="19.40" fill="#2e2f7f"/>
<rect x="427.91" y="381.40" width="6.99" height="19.40" fill="#e8652b"/>
<rect x="434.90" y="405.70" width="39.25" height="19.40" fill="#2e2f7f"/>
<rect x="427.91" y="405.70" width="6.99" height="19.40" fill="#e8652b"/>
<rect x="434.90" y="430.00" width="88.80" height="19.40" fill="#2e2f7f"/>
<rect x="427.91" y="430.00" width="6.99" height="19.40" fill="#e8652b"/>
</svg>
<rect x="367.40" y="327.20" width="135.10" height="127.60" fill="none" stroke="#e4e4e4" stroke-width="0.7"/>
<text x="366.60" y="344.30" font-size="5.0" text-anchor="end" fill="#222" stroke="#222" stroke-width="0.06">ANKRD35</text>
<text x="366.60" y="368.60" font-size="5.0" text-anchor="end" fill="#222" stroke="#222" stroke-width="0.06">OPN1MW3</text>
<text x="366.60" y="392.90" font-size="5.0" text-anchor="end" fill="#222" stroke="#222" stroke-width="0.06">ITGA10</text>
<text x="366.60" y="417.20" font-size="5.0" text-anchor="end" fill="#222" stroke="#222" stroke-width="0.06">H3-2</text>
<text x="366.60" y="441.50" font-size="5.0" text-anchor="end" fill="#222" stroke="#222" stroke-width="0.06">PNMA6A</text>
<text x="377.20" y="460.27" font-size="5.2" text-anchor="middle" fill="#222" stroke="#222" stroke-width="0.06">0.10</text>
<text x="406.80" y="460.27" font-size="5.2" text-anchor="middle" fill="#222" stroke="#222" stroke-width="0.06">0.05</text>
<text x="434.90" y="460.27" font-size="5.2" text-anchor="middle" fill="#222" stroke="#222" stroke-width="0.06">0.00</text>
<text x="464.50" y="460.27" font-size="5.2" text-anchor="middle" fill="#222" stroke="#222" stroke-width="0.06">0.05</text>
<text x="494.20" y="460.27" font-size="5.2" text-anchor="middle" fill="#222" stroke="#222" stroke-width="0.06">0.10</text>
<text x="432.00" y="468.70" font-size="6.1" text-anchor="middle" fill="#141414" font-weight="bold" stroke="#141414" stroke-width="0.18">CNV Frequency</text>
<rect x="466.80" y="329.40" width="15.20" height="6.30" fill="#2e2f7f"/>
<rect x="466.80" y="337.70" width="15.20" height="6.10" fill="#e8652b"/>
<text x="484.00" y="334.59" font-size="5.8" text-anchor="start" fill="#222" stroke="#222" stroke-width="0.06">UPR</text>
<text x="484.00" y="342.79" font-size="5.8" text-anchor="start" fill="#222" stroke="#222" stroke-width="0.06">HPRC</text>
<text x="514.31" y="327.40" font-size="13.4" font-weight="bold" fill="#1a1a1a" class="pl">j.</text>
<svg x="547.0" y="327.1" width="137.39999999999998" height="127.89999999999998" viewBox="547.0 327.1 137.39999999999998 127.89999999999998" overflow="hidden">
<rect x="615.60" y="332.80" width="8.21" height="19.40" fill="#2e2f7f"/>
<rect x="614.69" y="332.80" width="0.91" height="19.40" fill="#dd9550"/>
<rect x="615.60" y="357.10" width="11.63" height="19.40" fill="#2e2f7f"/>
<rect x="614.69" y="357.10" width="0.91" height="19.40" fill="#dd9550"/>
<rect x="615.60" y="381.40" width="17.10" height="19.40" fill="#2e2f7f"/>
<rect x="614.08" y="381.40" width="1.52" height="19.40" fill="#dd9550"/>
<rect x="615.60" y="405.70" width="58.52" height="19.40" fill="#2e2f7f"/>
<rect x="610.89" y="405.70" width="4.71" height="19.40" fill="#dd9550"/>
<rect x="615.60" y="430.00" width="76.00" height="19.40" fill="#2e2f7f"/>
<rect x="614.08" y="430.00" width="1.52" height="19.40" fill="#dd9550"/>
</svg>
<rect x="547.00" y="327.10" width="137.40" height="127.90" fill="none" stroke="#e4e4e4" stroke-width="0.7"/>
<text x="546.20" y="344.30" font-size="5.0" text-anchor="end" fill="#222" stroke="#222" stroke-width="0.06">ERVV-1</text>
<text x="546.20" y="368.60" font-size="5.0" text-anchor="end" fill="#222" stroke="#222" stroke-width="0.06">USP17L12</text>
<text x="546.20" y="392.90" font-size="5.0" text-anchor="end" fill="#222" stroke="#222" stroke-width="0.06">DMRTC1B</text>
<text x="546.20" y="417.20" font-size="5.0" text-anchor="end" fill="#222" stroke="#222" stroke-width="0.06">GAGE2A</text>
<text x="546.20" y="441.50" font-size="5.0" text-anchor="end" fill="#222" stroke="#222" stroke-width="0.06">USP17L11</text>
<text x="555.70" y="460.27" font-size="5.2" text-anchor="middle" fill="#222" stroke="#222" stroke-width="0.06">0.8</text>
<text x="571.50" y="460.27" font-size="5.2" text-anchor="middle" fill="#222" stroke="#222" stroke-width="0.06">0.6</text>
<text x="586.50" y="460.27" font-size="5.2" text-anchor="middle" fill="#222" stroke="#222" stroke-width="0.06">0.4</text>
<text x="601.40" y="460.27" font-size="5.2" text-anchor="middle" fill="#222" stroke="#222" stroke-width="0.06">0.2</text>
<text x="615.90" y="460.27" font-size="5.2" text-anchor="middle" fill="#222" stroke="#222" stroke-width="0.06">0.0</text>
<text x="631.60" y="460.27" font-size="5.2" text-anchor="middle" fill="#222" stroke="#222" stroke-width="0.06">0.2</text>
<text x="646.90" y="460.27" font-size="5.2" text-anchor="middle" fill="#222" stroke="#222" stroke-width="0.06">0.4</text>
<text x="661.90" y="460.27" font-size="5.2" text-anchor="middle" fill="#222" stroke="#222" stroke-width="0.06">0.6</text>
<text x="677.10" y="460.27" font-size="5.2" text-anchor="middle" fill="#222" stroke="#222" stroke-width="0.06">0.8</text>
<text x="616.10" y="468.70" font-size="6.1" text-anchor="middle" fill="#141414" font-weight="bold" stroke="#141414" stroke-width="0.18">CNV Frequency</text>
<rect x="652.10" y="329.20" width="15.20" height="6.30" fill="#2e2f7f"/>
<rect x="652.10" y="337.50" width="15.20" height="6.10" fill="#dd9550"/>
<text x="669.30" y="334.39" font-size="5.8" text-anchor="start" fill="#222" stroke="#222" stroke-width="0.06">UPR</text>
<text x="669.30" y="342.59" font-size="5.8" text-anchor="start" fill="#222" stroke="#222" stroke-width="0.06">CPC</text>
<text x="0.06" y="487.30" font-size="13.4" font-weight="bold" fill="#1a1a1a" class="pl">k.</text>
<rect x="40.50" y="494.80" width="23.30" height="107.80" fill="#ececd5" stroke="#9a9a8c" stroke-width="0.7"/>
<rect x="75.60" y="526.95" width="23.30" height="75.65" fill="#ececd5" stroke="#9a9a8c" stroke-width="0.7"/>
<rect x="110.80" y="586.76" width="23.20" height="15.84" fill="#ececd5" stroke="#9a9a8c" stroke-width="0.7"/>
<line x1="33.20" y1="484.40" x2="33.20" y2="602.60" stroke="#888" stroke-width="0.7"/>
<line x1="33.20" y1="602.60" x2="140.50" y2="602.60" stroke="#888" stroke-width="0.7"/>
<line x1="31.80" y1="484.40" x2="33.20" y2="484.40" stroke="#888" stroke-width="0.5"/>
<text x="30.30" y="486.67" font-size="6.3" text-anchor="end" fill="#141414" stroke="#141414" stroke-width="0.18">500</text>
<line x1="31.80" y1="508.04" x2="33.20" y2="508.04" stroke="#888" stroke-width="0.5"/>
<text x="30.30" y="510.31" font-size="6.3" text-anchor="end" fill="#141414" stroke="#141414" stroke-width="0.18">400</text>
<line x1="31.80" y1="531.68" x2="33.20" y2="531.68" stroke="#888" stroke-width="0.5"/>
<text x="30.30" y="533.95" font-size="6.3" text-anchor="end" fill="#141414" stroke="#141414" stroke-width="0.18">300</text>
<line x1="31.80" y1="555.32" x2="33.20" y2="555.32" stroke="#888" stroke-width="0.5"/>
<text x="30.30" y="557.59" font-size="6.3" text-anchor="end" fill="#141414" stroke="#141414" stroke-width="0.18">200</text>
<line x1="31.80" y1="578.96" x2="33.20" y2="578.96" stroke="#888" stroke-width="0.5"/>
<text x="30.30" y="581.23" font-size="6.3" text-anchor="end" fill="#141414" stroke="#141414" stroke-width="0.18">100</text>
<line x1="31.80" y1="602.60" x2="33.20" y2="602.60" stroke="#888" stroke-width="0.5"/>
<text x="30.30" y="604.87" font-size="6.3" text-anchor="end" fill="#141414" stroke="#141414" stroke-width="0.18">0</text>
<text x="52.30" y="611.11" font-size="5.3" text-anchor="middle" fill="#141414" stroke="#141414" stroke-width="0.18">Metacentric</text>
<text x="87.30" y="611.11" font-size="5.3" text-anchor="middle" fill="#141414" stroke="#141414" stroke-width="0.18">Submetacentric</text>
<text x="122.40" y="611.11" font-size="5.3" text-anchor="middle" fill="#141414" stroke="#141414" stroke-width="0.18">Acrocentric</text>
<text x="10.60" y="547.71" font-size="6.7" text-anchor="middle" fill="#141414" font-weight="bold" transform="rotate(-90 10.60 545.30)" stroke="#141414" stroke-width="0.18">Count</text>
<text x="149.66" y="487.50" font-size="13.4" font-weight="bold" fill="#1a1a1a" class="pl">l.</text>
<rect x="186.10" y="498.70" width="9.40" height="103.60" fill="#b4dcf4" stroke="#3a3a3a" stroke-width="0.55"/>
<text x="190.80" y="610.20" font-size="5.0" text-anchor="middle" fill="#3a3a3a" stroke="#3a3a3a" stroke-width="0.18">1</text>
<rect x="198.78" y="595.79" width="9.40" height="6.51" fill="#b4dcf4" stroke="#3a3a3a" stroke-width="0.55"/>
<text x="203.48" y="610.20" font-size="5.0" text-anchor="middle" fill="#3a3a3a" stroke="#3a3a3a" stroke-width="0.18">2</text>
<rect x="211.46" y="586.91" width="9.40" height="15.39" fill="#b4dcf4" stroke="#3a3a3a" stroke-width="0.55"/>
<text x="216.16" y="610.20" font-size="5.0" text-anchor="middle" fill="#3a3a3a" stroke="#3a3a3a" stroke-width="0.18">3</text>
<rect x="224.14" y="588.09" width="9.40" height="14.21" fill="#b4dcf4" stroke="#3a3a3a" stroke-width="0.55"/>
<text x="228.84" y="610.20" font-size="5.0" text-anchor="middle" fill="#3a3a3a" stroke="#3a3a3a" stroke-width="0.18">4</text>
<rect x="236.82" y="588.68" width="9.40" height="13.62" fill="#b4dcf4" stroke="#3a3a3a" stroke-width="0.55"/>
<text x="241.52" y="610.20" font-size="5.0" text-anchor="middle" fill="#3a3a3a" stroke="#3a3a3a" stroke-width="0.18">5</text>
<rect x="249.50" y="591.64" width="9.40" height="10.66" fill="#b4dcf4" stroke="#3a3a3a" stroke-width="0.55"/>
<text x="254.20" y="610.20" font-size="5.0" text-anchor="middle" fill="#3a3a3a" stroke="#3a3a3a" stroke-width="0.18">6</text>
<rect x="262.18" y="589.28" width="9.40" height="13.02" fill="#b4dcf4" stroke="#3a3a3a" stroke-width="0.55"/>
<text x="266.88" y="610.20" font-size="5.0" text-anchor="middle" fill="#3a3a3a" stroke="#3a3a3a" stroke-width="0.18">7</text>
<rect x="274.86" y="559.08" width="9.40" height="43.22" fill="#b4dcf4" stroke="#3a3a3a" stroke-width="0.55"/>
<text x="279.56" y="610.20" font-size="5.0" text-anchor="middle" fill="#3a3a3a" stroke="#3a3a3a" stroke-width="0.18">8</text>
<rect x="287.54" y="588.68" width="9.40" height="13.62" fill="#b4dcf4" stroke="#3a3a3a" stroke-width="0.55"/>
<text x="292.24" y="610.20" font-size="5.0" text-anchor="middle" fill="#3a3a3a" stroke="#3a3a3a" stroke-width="0.18">9</text>
<rect x="300.22" y="600.52" width="9.40" height="1.78" fill="#b4dcf4" stroke="#3a3a3a" stroke-width="0.55"/>
<text x="304.92" y="610.20" font-size="5.0" text-anchor="middle" fill="#3a3a3a" stroke="#3a3a3a" stroke-width="0.18">10</text>
<rect x="312.90" y="598.16" width="9.40" height="4.14" fill="#b4dcf4" stroke="#3a3a3a" stroke-width="0.55"/>
<text x="317.60" y="610.20" font-size="5.0" text-anchor="middle" fill="#3a3a3a" stroke="#3a3a3a" stroke-width="0.18">11</text>
<rect x="325.58" y="599.34" width="9.40" height="2.96" fill="#b4dcf4" stroke="#3a3a3a" stroke-width="0.55"/>
<text x="330.28" y="610.20" font-size="5.0" text-anchor="middle" fill="#3a3a3a" stroke="#3a3a3a" stroke-width="0.18">12</text>
<rect x="338.26" y="600.52" width="9.40" height="1.78" fill="#b4dcf4" stroke="#3a3a3a" stroke-width="0.55"/>
<text x="342.96" y="610.20" font-size="5.0" text-anchor="middle" fill="#3a3a3a" stroke="#3a3a3a" stroke-width="0.18">13</text>
<rect x="350.94" y="583.95" width="9.40" height="18.35" fill="#b4dcf4" stroke="#3a3a3a" stroke-width="0.55"/>
<text x="355.64" y="610.20" font-size="5.0" text-anchor="middle" fill="#3a3a3a" stroke="#3a3a3a" stroke-width="0.18">14</text>
<rect x="363.62" y="589.28" width="9.40" height="13.02" fill="#b4dcf4" stroke="#3a3a3a" stroke-width="0.55"/>
<text x="368.32" y="610.20" font-size="5.0" text-anchor="middle" fill="#3a3a3a" stroke="#3a3a3a" stroke-width="0.18">15</text>
<rect x="376.30" y="488.64" width="9.40" height="113.66" fill="#b4dcf4" stroke="#3a3a3a" stroke-width="0.55"/>
<text x="381.00" y="610.20" font-size="5.0" text-anchor="middle" fill="#3a3a3a" stroke="#3a3a3a" stroke-width="0.18">16</text>
<rect x="388.98" y="550.20" width="9.40" height="52.10" fill="#b4dcf4" stroke="#3a3a3a" stroke-width="0.55"/>
<text x="393.68" y="610.20" font-size="5.0" text-anchor="middle" fill="#3a3a3a" stroke="#3a3a3a" stroke-width="0.18">17</text>
<rect x="401.66" y="589.87" width="9.40" height="12.43" fill="#b4dcf4" stroke="#3a3a3a" stroke-width="0.55"/>
<text x="406.36" y="610.20" font-size="5.0" text-anchor="middle" fill="#3a3a3a" stroke="#3a3a3a" stroke-width="0.18">18</text>
<rect x="414.34" y="574.48" width="9.40" height="27.82" fill="#b4dcf4" stroke="#3a3a3a" stroke-width="0.55"/>
<text x="419.04" y="610.20" font-size="5.0" text-anchor="middle" fill="#3a3a3a" stroke="#3a3a3a" stroke-width="0.18">19</text>
<rect x="427.02" y="592.83" width="9.40" height="9.47" fill="#b4dcf4" stroke="#3a3a3a" stroke-width="0.55"/>
<text x="431.72" y="610.20" font-size="5.0" text-anchor="middle" fill="#3a3a3a" stroke="#3a3a3a" stroke-width="0.18">20</text>
<rect x="439.70" y="599.93" width="9.40" height="2.37" fill="#b4dcf4" stroke="#3a3a3a" stroke-width="0.55"/>
<text x="444.40" y="610.20" font-size="5.0" text-anchor="middle" fill="#3a3a3a" stroke="#3a3a3a" stroke-width="0.18">21</text>
<rect x="452.38" y="598.75" width="9.40" height="3.55" fill="#b4dcf4" stroke="#3a3a3a" stroke-width="0.55"/>
<text x="457.08" y="610.20" font-size="5.0" text-anchor="middle" fill="#3a3a3a" stroke="#3a3a3a" stroke-width="0.18">22</text>
<line x1="180.80" y1="483.90" x2="180.80" y2="602.30" stroke="#c8c8c8" stroke-width="1.1"/>
<line x1="179.00" y1="602.30" x2="469.80" y2="602.30" stroke="#444" stroke-width="0.7"/>
<line x1="179.20" y1="483.90" x2="180.40" y2="483.90" stroke="#555" stroke-width="0.5"/>
<text x="177.20" y="485.84" font-size="5.4" text-anchor="end" fill="#141414" stroke="#141414" stroke-width="0.18">200</text>
<line x1="179.20" y1="498.70" x2="180.40" y2="498.70" stroke="#555" stroke-width="0.5"/>
<text x="177.20" y="500.64" font-size="5.4" text-anchor="end" fill="#141414" stroke="#141414" stroke-width="0.18">175</text>
<line x1="179.20" y1="513.50" x2="180.40" y2="513.50" stroke="#555" stroke-width="0.5"/>
<text x="177.20" y="515.44" font-size="5.4" text-anchor="end" fill="#141414" stroke="#141414" stroke-width="0.18">150</text>
<line x1="179.20" y1="528.30" x2="180.40" y2="528.30" stroke="#555" stroke-width="0.5"/>
<text x="177.20" y="530.24" font-size="5.4" text-anchor="end" fill="#141414" stroke="#141414" stroke-width="0.18">125</text>
<line x1="179.20" y1="543.10" x2="180.40" y2="543.10" stroke="#555" stroke-width="0.5"/>
<text x="177.20" y="545.04" font-size="5.4" text-anchor="end" fill="#141414" stroke="#141414" stroke-width="0.18">100</text>
<line x1="179.20" y1="557.90" x2="180.40" y2="557.90" stroke="#555" stroke-width="0.5"/>
<text x="177.20" y="559.84" font-size="5.4" text-anchor="end" fill="#141414" stroke="#141414" stroke-width="0.18">75</text>
<line x1="179.20" y1="572.70" x2="180.40" y2="572.70" stroke="#555" stroke-width="0.5"/>
<text x="177.20" y="574.64" font-size="5.4" text-anchor="end" fill="#141414" stroke="#141414" stroke-width="0.18">50</text>
<line x1="179.20" y1="587.50" x2="180.40" y2="587.50" stroke="#555" stroke-width="0.5"/>
<text x="177.20" y="589.44" font-size="5.4" text-anchor="end" fill="#141414" stroke="#141414" stroke-width="0.18">25</text>
<line x1="179.20" y1="602.30" x2="180.40" y2="602.30" stroke="#555" stroke-width="0.5"/>
<text x="177.20" y="604.24" font-size="5.4" text-anchor="end" fill="#141414" stroke="#141414" stroke-width="0.18">0</text>
<text x="162.20" y="548.57" font-size="6.3" text-anchor="middle" fill="#141414" font-weight="bold" transform="rotate(-90 162.20 546.30)" stroke="#141414" stroke-width="0.18">Count</text>
<text x="325.00" y="616.82" font-size="5.6" text-anchor="middle" fill="#141414" font-weight="bold" stroke="#141414" stroke-width="0.18">Chromosome</text>
<text x="467.02" y="487.50" font-size="13.4" font-weight="bold" fill="#1a1a1a" class="pl">m.</text>
<rect x="508.30" y="567.70" width="12.60" height="34.80" fill="#4fadc7" stroke="#2f6f80" stroke-width="0.5"/>
<text x="514.40" y="607.00" font-size="5.1" text-anchor="end" fill="#141414" transform="rotate(-45 514.40 607.00)" dy="2.2">AlphaSat</text>
<rect x="527.25" y="567.70" width="12.60" height="34.80" fill="#4fadc7" stroke="#2f6f80" stroke-width="0.5"/>
<text x="533.35" y="607.00" font-size="5.1" text-anchor="end" fill="#141414" transform="rotate(-45 533.35 607.00)" dy="2.2">AlphaSat_mon</text>
<rect x="546.20" y="598.15" width="12.60" height="4.35" fill="#4fadc7" stroke="#2f6f80" stroke-width="0.5"/>
<text x="552.30" y="607.00" font-size="5.1" text-anchor="end" fill="#141414" transform="rotate(-45 552.30 607.00)" dy="2.2">AlphaSat_div</text>
<rect x="565.15" y="593.80" width="12.60" height="8.70" fill="#4fadc7" stroke="#2f6f80" stroke-width="0.5"/>
<text x="571.25" y="607.00" font-size="5.1" text-anchor="end" fill="#141414" transform="rotate(-45 571.25 607.00)" dy="2.2">BetaSat</text>
<rect x="584.10" y="589.45" width="12.60" height="13.05" fill="#4fadc7" stroke="#2f6f80" stroke-width="0.5"/>
<text x="590.20" y="607.00" font-size="5.1" text-anchor="end" fill="#141414" transform="rotate(-45 590.20 607.00)" dy="2.2">camTransition</text>
<rect x="603.05" y="589.45" width="12.60" height="13.05" fill="#4fadc7" stroke="#2f6f80" stroke-width="0.5"/>
<text x="609.15" y="607.00" font-size="5.1" text-anchor="end" fill="#141414" transform="rotate(-45 609.15 607.00)" dy="2.2">HSat_1A</text>
<rect x="622.00" y="576.40" width="12.60" height="26.10" fill="#4fadc7" stroke="#2f6f80" stroke-width="0.5"/>
<text x="628.10" y="607.00" font-size="5.1" text-anchor="end" fill="#141414" transform="rotate(-45 628.10 607.00)" dy="2.2">HSat_2</text>
<rect x="640.95" y="532.90" width="12.60" height="69.60" fill="#4fadc7" stroke="#2f6f80" stroke-width="0.5"/>
<text x="647.05" y="607.00" font-size="5.1" text-anchor="end" fill="#141414" transform="rotate(-45 647.05 607.00)" dy="2.2">HSat_3</text>
<rect x="659.90" y="515.90" width="12.60" height="86.60" fill="#4fadc7" stroke="#2f6f80" stroke-width="0.5"/>
<rect x="659.90" y="485.80" width="12.60" height="19.40" fill="#4fadc7" stroke="#2f6f80" stroke-width="0.5"/>
<text x="666.00" y="607.00" font-size="5.1" text-anchor="end" fill="#141414" transform="rotate(-45 666.00 607.00)" dy="2.2">Other CenSat</text>
<line x1="501.80" y1="515.50" x2="501.80" y2="602.50" stroke="#555" stroke-width="0.6"/>
<line x1="501.80" y1="602.50" x2="679.70" y2="602.50" stroke="#555" stroke-width="0.6"/>
<line x1="501.80" y1="484.10" x2="501.80" y2="505.30" stroke="#555" stroke-width="0.6"/>
<line x1="500.30" y1="515.50" x2="501.80" y2="515.50" stroke="#555" stroke-width="0.5"/>
<text x="499.10" y="517.41" font-size="5.3" text-anchor="end" fill="#222" stroke="#222" stroke-width="0.06">20</text>
<line x1="500.30" y1="537.25" x2="501.80" y2="537.25" stroke="#555" stroke-width="0.5"/>
<text x="499.10" y="539.16" font-size="5.3" text-anchor="end" fill="#222" stroke="#222" stroke-width="0.06">15</text>
<line x1="500.30" y1="559.00" x2="501.80" y2="559.00" stroke="#555" stroke-width="0.5"/>
<text x="499.10" y="560.91" font-size="5.3" text-anchor="end" fill="#222" stroke="#222" stroke-width="0.06">10</text>
<line x1="500.30" y1="580.75" x2="501.80" y2="580.75" stroke="#555" stroke-width="0.5"/>
<text x="499.10" y="582.66" font-size="5.3" text-anchor="end" fill="#222" stroke="#222" stroke-width="0.06">5</text>
<line x1="500.30" y1="602.50" x2="501.80" y2="602.50" stroke="#555" stroke-width="0.5"/>
<text x="499.10" y="604.41" font-size="5.3" text-anchor="end" fill="#222" stroke="#222" stroke-width="0.06">0</text>
<line x1="500.30" y1="484.10" x2="501.80" y2="484.10" stroke="#555" stroke-width="0.5"/>
<text x="499.10" y="485.90" font-size="5.0" text-anchor="end" fill="#222" stroke="#222" stroke-width="0.06">150</text>
<line x1="500.30" y1="494.70" x2="501.80" y2="494.70" stroke="#555" stroke-width="0.5"/>
<text x="499.10" y="496.50" font-size="5.0" text-anchor="end" fill="#222" stroke="#222" stroke-width="0.06">125</text>
<line x1="500.30" y1="505.30" x2="501.80" y2="505.30" stroke="#555" stroke-width="0.5"/>
<text x="499.10" y="507.10" font-size="5.0" text-anchor="end" fill="#222" stroke="#222" stroke-width="0.06">100</text>
<line x1="501.80" y1="505.30" x2="505.00" y2="505.30" stroke="#555" stroke-width="0.5"/>
<line x1="501.80" y1="515.50" x2="505.00" y2="515.50" stroke="#555" stroke-width="0.5"/>
<text x="484.30" y="547.10" font-size="6.4" text-anchor="middle" fill="#141414" font-weight="bold" transform="rotate(-90 484.30 544.80)" stroke="#141414" stroke-width="0.18">Count</text>
</svg></body></html>
